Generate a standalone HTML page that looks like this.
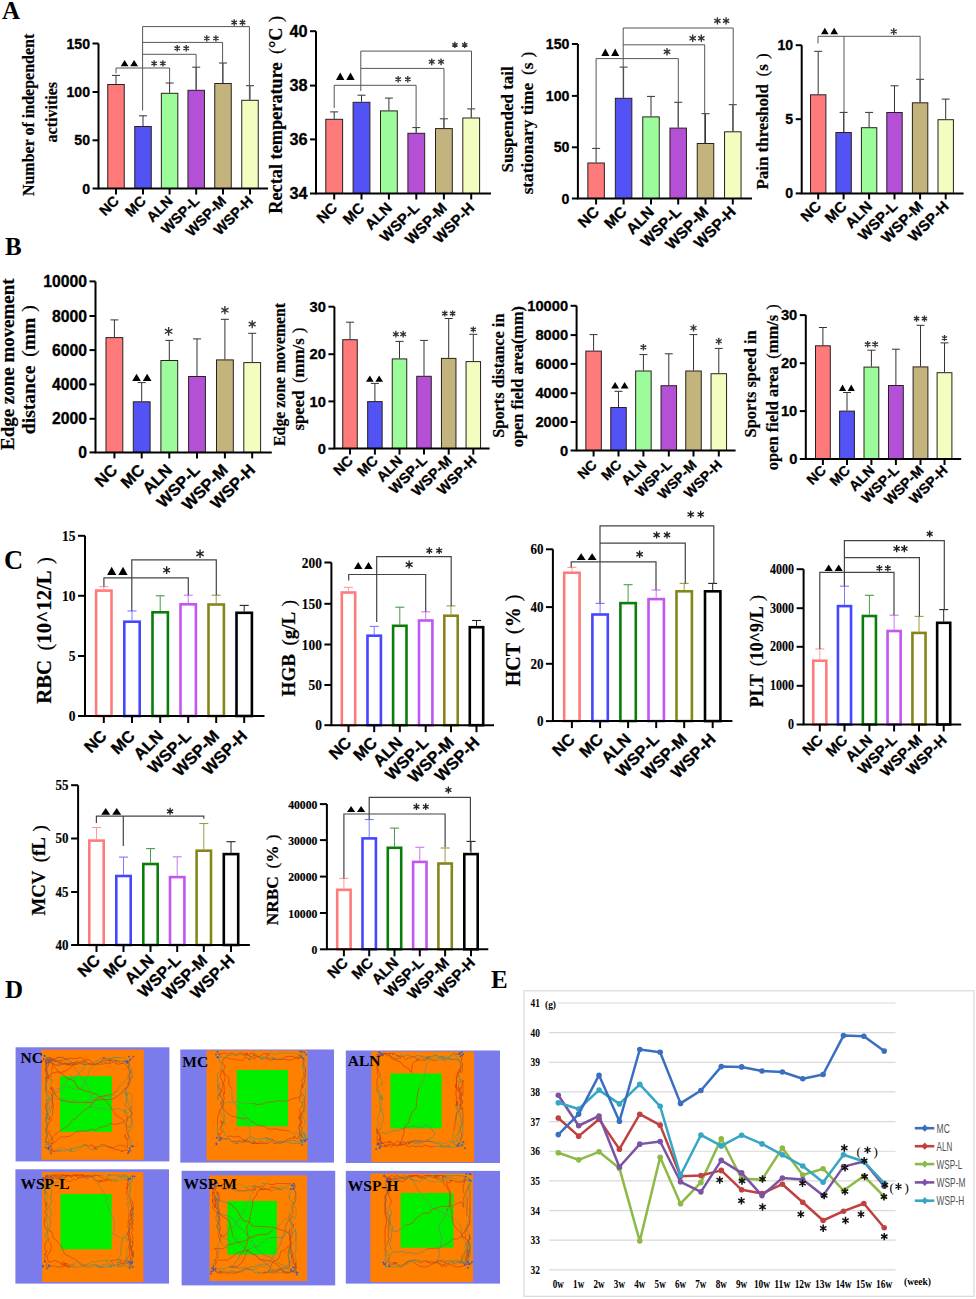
<!DOCTYPE html><html><head><meta charset="utf-8"><title>Figure</title><style>html,body{margin:0;padding:0;background:#fff;overflow:hidden}svg{display:block}</style></head><body>
<svg width="976" height="1299" viewBox="0 0 976 1299">
<rect width="976" height="1299" fill="#fff"/>
<line x1="116" y1="84" x2="116" y2="75.4" stroke="#333" stroke-width="1"/>
<line x1="112" y1="75.4" x2="120" y2="75.4" stroke="#333" stroke-width="1"/>
<rect x="107.75" y="84.5" width="16.5" height="104" fill="#FF7B7B" stroke="#2a2020" stroke-width="1"/>
<line x1="143" y1="126" x2="143" y2="115.8" stroke="#333" stroke-width="1"/>
<line x1="139" y1="115.8" x2="147" y2="115.8" stroke="#333" stroke-width="1"/>
<rect x="134.75" y="126.5" width="16.5" height="62" fill="#5252F5" stroke="#2a2020" stroke-width="1"/>
<line x1="169.6" y1="92.8" x2="169.6" y2="83" stroke="#333" stroke-width="1"/>
<line x1="165.6" y1="83" x2="173.6" y2="83" stroke="#333" stroke-width="1"/>
<rect x="161.35" y="93.3" width="16.5" height="95.2" fill="#9CFC9C" stroke="#2a2020" stroke-width="1"/>
<line x1="196.2" y1="89.8" x2="196.2" y2="67.2" stroke="#333" stroke-width="1"/>
<line x1="192.2" y1="67.2" x2="200.2" y2="67.2" stroke="#333" stroke-width="1"/>
<rect x="187.95" y="90.3" width="16.5" height="98.2" fill="#B350D6" stroke="#2a2020" stroke-width="1"/>
<line x1="223" y1="83" x2="223" y2="63" stroke="#333" stroke-width="1"/>
<line x1="219" y1="63" x2="227" y2="63" stroke="#333" stroke-width="1"/>
<rect x="214.75" y="83.5" width="16.5" height="105" fill="#C2B47C" stroke="#2a2020" stroke-width="1"/>
<line x1="250" y1="99.8" x2="250" y2="85.7" stroke="#333" stroke-width="1"/>
<line x1="246" y1="85.7" x2="254" y2="85.7" stroke="#333" stroke-width="1"/>
<rect x="241.75" y="100.3" width="16.5" height="88.2" fill="#F4FDC0" stroke="#2a2020" stroke-width="1"/>
<path d="M98.5,43.5L98.5,188.5L268,188.5" stroke="#000" stroke-width="2" fill="none"/>
<line x1="92.5" y1="43.5" x2="98.5" y2="43.5" stroke="#000" stroke-width="2"/>
<text x="90" y="48.57" font-family='"Liberation Sans", sans-serif' font-size="14.07" font-weight="bold" fill="#000" text-anchor="end" stroke="#000" stroke-width="0.3">150</text>
<line x1="92.5" y1="92" x2="98.5" y2="92" stroke="#000" stroke-width="2"/>
<text x="90" y="97.07" font-family='"Liberation Sans", sans-serif' font-size="14.07" font-weight="bold" fill="#000" text-anchor="end" stroke="#000" stroke-width="0.3">100</text>
<line x1="92.5" y1="140.3" x2="98.5" y2="140.3" stroke="#000" stroke-width="2"/>
<text x="90" y="145.37" font-family='"Liberation Sans", sans-serif' font-size="14.07" font-weight="bold" fill="#000" text-anchor="end" stroke="#000" stroke-width="0.3">50</text>
<line x1="92.5" y1="188.5" x2="98.5" y2="188.5" stroke="#000" stroke-width="2"/>
<text x="90" y="193.57" font-family='"Liberation Sans", sans-serif' font-size="14.07" font-weight="bold" fill="#000" text-anchor="end" stroke="#000" stroke-width="0.3">0</text>
<line x1="116" y1="188.5" x2="116" y2="194.5" stroke="#000" stroke-width="2"/>
<line x1="143" y1="188.5" x2="143" y2="194.5" stroke="#000" stroke-width="2"/>
<line x1="169.6" y1="188.5" x2="169.6" y2="194.5" stroke="#000" stroke-width="2"/>
<line x1="196.2" y1="188.5" x2="196.2" y2="194.5" stroke="#000" stroke-width="2"/>
<line x1="223" y1="188.5" x2="223" y2="194.5" stroke="#000" stroke-width="2"/>
<line x1="250" y1="188.5" x2="250" y2="194.5" stroke="#000" stroke-width="2"/>
<text x="120" y="201.9" font-family='"Liberation Sans", sans-serif' font-size="14.5" font-weight="bold" fill="#000" text-anchor="end" transform="rotate(-45 120 201.9)" stroke="#000" stroke-width="0.3">NC</text>
<text x="147" y="201.9" font-family='"Liberation Sans", sans-serif' font-size="14.5" font-weight="bold" fill="#000" text-anchor="end" transform="rotate(-45 147 201.9)" stroke="#000" stroke-width="0.3">MC</text>
<text x="173.6" y="201.9" font-family='"Liberation Sans", sans-serif' font-size="14.5" font-weight="bold" fill="#000" text-anchor="end" transform="rotate(-45 173.6 201.9)" stroke="#000" stroke-width="0.3">ALN</text>
<text x="200.2" y="201.9" font-family='"Liberation Sans", sans-serif' font-size="14.5" font-weight="bold" fill="#000" text-anchor="end" transform="rotate(-45 200.2 201.9)" stroke="#000" stroke-width="0.3">WSP-L</text>
<text x="227" y="201.9" font-family='"Liberation Sans", sans-serif' font-size="14.5" font-weight="bold" fill="#000" text-anchor="end" transform="rotate(-45 227 201.9)" stroke="#000" stroke-width="0.3">WSP-M</text>
<text x="254" y="201.9" font-family='"Liberation Sans", sans-serif' font-size="14.5" font-weight="bold" fill="#000" text-anchor="end" transform="rotate(-45 254 201.9)" stroke="#000" stroke-width="0.3">WSP-H</text>
<path d="M116,73.4L116,68L169.6,68L169.6,83" stroke="#555" stroke-width="1" fill="none"/>
<path d="M142.6,110.5L142.6,26.6L249.4,26.6L249.4,99.8" stroke="#555" stroke-width="1" fill="none"/>
<path d="M142.6,54.3L196.1,54.3L196.1,89.8" stroke="#555" stroke-width="1" fill="none"/>
<path d="M142.6,42.4L222.6,42.4L222.6,83" stroke="#555" stroke-width="1" fill="none"/>
<polygon points="120.7,66.2 128.49,66.2 124.59,60" fill="#000"/>
<polygon points="130.22,66.2 138,66.2 134.11,60" fill="#000"/>
<path d="M154.15,66.6L154.15,60.3M151.42,65.02L156.88,61.88M151.42,61.88L156.88,65.02" stroke="#333" stroke-width="1.35" fill="none"/>
<path d="M162.85,66.6L162.85,60.3M160.12,65.02L165.58,61.88M160.12,61.88L165.58,65.02" stroke="#333" stroke-width="1.35" fill="none"/>
<path d="M177.2,51.5L177.2,45.1M174.43,49.9L179.97,46.7M174.43,46.7L179.97,49.9" stroke="#333" stroke-width="1.35" fill="none"/>
<path d="M186.2,51.5L186.2,45.1M183.43,49.9L188.97,46.7M183.43,46.7L188.97,49.9" stroke="#333" stroke-width="1.35" fill="none"/>
<path d="M206.8,41.4L206.8,35.2M204.12,39.85L209.48,36.75M204.12,36.75L209.48,39.85" stroke="#333" stroke-width="1.35" fill="none"/>
<path d="M215.9,41.4L215.9,35.2M213.22,39.85L218.58,36.75M213.22,36.75L218.58,39.85" stroke="#333" stroke-width="1.35" fill="none"/>
<path d="M234.2,25.7L234.2,19.3M231.43,24.1L236.97,20.9M231.43,20.9L236.97,24.1" stroke="#333" stroke-width="1.35" fill="none"/>
<path d="M242.5,25.7L242.5,19.3M239.73,24.1L245.27,20.9M239.73,20.9L245.27,24.1" stroke="#333" stroke-width="1.35" fill="none"/>
<text x="28.3" y="114.9" font-family='"Liberation Serif", serif' font-size="16" font-weight="bold" fill="#000" text-anchor="middle" transform="rotate(-90 28.3 114.9)" dominant-baseline="central" stroke="#000" stroke-width="0.2">Number of independent</text>
<text x="51.4" y="112.2" font-family='"Liberation Serif", serif' font-size="16" font-weight="bold" fill="#000" text-anchor="middle" transform="rotate(-90 51.4 112.2)" dominant-baseline="central" stroke="#000" stroke-width="0.2">activities</text>
<line x1="334.2" y1="118.8" x2="334.2" y2="111.9" stroke="#333" stroke-width="1"/>
<line x1="330.2" y1="111.9" x2="338.2" y2="111.9" stroke="#333" stroke-width="1"/>
<rect x="325.8" y="119.3" width="16.8" height="74.2" fill="#FF7B7B" stroke="#2a2020" stroke-width="1"/>
<line x1="361.5" y1="101.8" x2="361.5" y2="95.2" stroke="#333" stroke-width="1"/>
<line x1="357.5" y1="95.2" x2="365.5" y2="95.2" stroke="#333" stroke-width="1"/>
<rect x="353.1" y="102.3" width="16.8" height="91.2" fill="#5252F5" stroke="#2a2020" stroke-width="1"/>
<line x1="388.9" y1="110.4" x2="388.9" y2="98.1" stroke="#333" stroke-width="1"/>
<line x1="384.9" y1="98.1" x2="392.9" y2="98.1" stroke="#333" stroke-width="1"/>
<rect x="380.5" y="110.9" width="16.8" height="82.6" fill="#9CFC9C" stroke="#2a2020" stroke-width="1"/>
<line x1="416.3" y1="132.8" x2="416.3" y2="127.6" stroke="#333" stroke-width="1"/>
<line x1="412.3" y1="127.6" x2="420.3" y2="127.6" stroke="#333" stroke-width="1"/>
<rect x="407.9" y="133.3" width="16.8" height="60.2" fill="#B350D6" stroke="#2a2020" stroke-width="1"/>
<line x1="443.9" y1="128.1" x2="443.9" y2="118.8" stroke="#333" stroke-width="1"/>
<line x1="439.9" y1="118.8" x2="447.9" y2="118.8" stroke="#333" stroke-width="1"/>
<rect x="435.5" y="128.6" width="16.8" height="64.9" fill="#C2B47C" stroke="#2a2020" stroke-width="1"/>
<line x1="471.2" y1="117.5" x2="471.2" y2="108.9" stroke="#333" stroke-width="1"/>
<line x1="467.2" y1="108.9" x2="475.2" y2="108.9" stroke="#333" stroke-width="1"/>
<rect x="462.8" y="118" width="16.8" height="75.5" fill="#F4FDC0" stroke="#2a2020" stroke-width="1"/>
<path d="M316,31.2L316,193.5L491,193.5" stroke="#000" stroke-width="2" fill="none"/>
<line x1="310" y1="31.2" x2="316" y2="31.2" stroke="#000" stroke-width="2"/>
<text x="307.5" y="37.06" font-family='"Liberation Sans", sans-serif' font-size="16.275000000000002" font-weight="bold" fill="#000" text-anchor="end" stroke="#000" stroke-width="0.3">40</text>
<line x1="310" y1="85.6" x2="316" y2="85.6" stroke="#000" stroke-width="2"/>
<text x="307.5" y="91.46" font-family='"Liberation Sans", sans-serif' font-size="16.275000000000002" font-weight="bold" fill="#000" text-anchor="end" stroke="#000" stroke-width="0.3">38</text>
<line x1="310" y1="139.4" x2="316" y2="139.4" stroke="#000" stroke-width="2"/>
<text x="307.5" y="145.26" font-family='"Liberation Sans", sans-serif' font-size="16.275000000000002" font-weight="bold" fill="#000" text-anchor="end" stroke="#000" stroke-width="0.3">36</text>
<line x1="310" y1="193.5" x2="316" y2="193.5" stroke="#000" stroke-width="2"/>
<text x="307.5" y="199.36" font-family='"Liberation Sans", sans-serif' font-size="16.275000000000002" font-weight="bold" fill="#000" text-anchor="end" stroke="#000" stroke-width="0.3">34</text>
<line x1="334.2" y1="193.5" x2="334.2" y2="199.5" stroke="#000" stroke-width="2"/>
<line x1="361.5" y1="193.5" x2="361.5" y2="199.5" stroke="#000" stroke-width="2"/>
<line x1="388.9" y1="193.5" x2="388.9" y2="199.5" stroke="#000" stroke-width="2"/>
<line x1="416.3" y1="193.5" x2="416.3" y2="199.5" stroke="#000" stroke-width="2"/>
<line x1="443.9" y1="193.5" x2="443.9" y2="199.5" stroke="#000" stroke-width="2"/>
<line x1="471.2" y1="193.5" x2="471.2" y2="199.5" stroke="#000" stroke-width="2"/>
<text x="338.2" y="208.9" font-family='"Liberation Sans", sans-serif' font-size="15" font-weight="bold" fill="#000" text-anchor="end" transform="rotate(-45 338.2 208.9)" stroke="#000" stroke-width="0.3">NC</text>
<text x="365.5" y="208.9" font-family='"Liberation Sans", sans-serif' font-size="15" font-weight="bold" fill="#000" text-anchor="end" transform="rotate(-45 365.5 208.9)" stroke="#000" stroke-width="0.3">MC</text>
<text x="392.9" y="208.9" font-family='"Liberation Sans", sans-serif' font-size="15" font-weight="bold" fill="#000" text-anchor="end" transform="rotate(-45 392.9 208.9)" stroke="#000" stroke-width="0.3">ALN</text>
<text x="420.3" y="208.9" font-family='"Liberation Sans", sans-serif' font-size="15" font-weight="bold" fill="#000" text-anchor="end" transform="rotate(-45 420.3 208.9)" stroke="#000" stroke-width="0.3">WSP-L</text>
<text x="447.9" y="208.9" font-family='"Liberation Sans", sans-serif' font-size="15" font-weight="bold" fill="#000" text-anchor="end" transform="rotate(-45 447.9 208.9)" stroke="#000" stroke-width="0.3">WSP-M</text>
<text x="475.2" y="208.9" font-family='"Liberation Sans", sans-serif' font-size="15" font-weight="bold" fill="#000" text-anchor="end" transform="rotate(-45 475.2 208.9)" stroke="#000" stroke-width="0.3">WSP-H</text>
<path d="M334.2,108L334.2,85.3L416.1,85.3L416.1,132.8" stroke="#555" stroke-width="1" fill="none"/>
<path d="M360.8,91L360.8,51.1L471.5,51.1L471.5,117.5" stroke="#555" stroke-width="1" fill="none"/>
<path d="M360.8,68.4L444,68.4L444,128.1" stroke="#555" stroke-width="1" fill="none"/>
<polygon points="336,80 344.42,80 340.21,72.5" fill="#000"/>
<polygon points="346.28,80 354.7,80 350.49,72.5" fill="#000"/>
<path d="M398.2,82.4L398.2,76M395.43,80.8L400.97,77.6M395.43,77.6L400.97,80.8" stroke="#333" stroke-width="1.35" fill="none"/>
<path d="M407.8,82.4L407.8,76M405.03,80.8L410.57,77.6M405.03,77.6L410.57,80.8" stroke="#333" stroke-width="1.35" fill="none"/>
<path d="M431.75,65.2L431.75,58.5M428.85,63.52L434.65,60.18M428.85,60.18L434.65,63.52" stroke="#333" stroke-width="1.35" fill="none"/>
<path d="M441.05,65.2L441.05,58.5M438.15,63.52L443.95,60.18M438.15,60.18L443.95,63.52" stroke="#333" stroke-width="1.35" fill="none"/>
<path d="M454.9,48L454.9,41.8M452.22,46.45L457.58,43.35M452.22,43.35L457.58,46.45" stroke="#333" stroke-width="1.35" fill="none"/>
<path d="M464.7,48L464.7,41.8M462.02,46.45L467.38,43.35M462.02,43.35L467.38,46.45" stroke="#333" stroke-width="1.35" fill="none"/>
<text x="275.6" y="114.8" font-family='"Liberation Serif", serif' font-size="18.3" font-weight="bold" fill="#000" text-anchor="middle" transform="rotate(-90 275.6 114.8)" dominant-baseline="central" stroke="#000" stroke-width="0.2">Rectal temperature<tspan font-weight="normal" dx="8.24">(</tspan>°C<tspan font-weight="normal" dx="5.49">)</tspan></text>
<line x1="596.1" y1="162.5" x2="596.1" y2="148.4" stroke="#333" stroke-width="1"/>
<line x1="592.1" y1="148.4" x2="600.1" y2="148.4" stroke="#333" stroke-width="1"/>
<rect x="587.85" y="163" width="16.5" height="35.5" fill="#FF7B7B" stroke="#2a2020" stroke-width="1"/>
<line x1="623.6" y1="97.8" x2="623.6" y2="67.1" stroke="#333" stroke-width="1"/>
<line x1="619.6" y1="67.1" x2="627.6" y2="67.1" stroke="#333" stroke-width="1"/>
<rect x="615.35" y="98.3" width="16.5" height="100.2" fill="#5252F5" stroke="#2a2020" stroke-width="1"/>
<line x1="651" y1="116.4" x2="651" y2="96.4" stroke="#333" stroke-width="1"/>
<line x1="647" y1="96.4" x2="655" y2="96.4" stroke="#333" stroke-width="1"/>
<rect x="642.75" y="116.9" width="16.5" height="81.6" fill="#9CFC9C" stroke="#2a2020" stroke-width="1"/>
<line x1="678.2" y1="127.6" x2="678.2" y2="102.3" stroke="#333" stroke-width="1"/>
<line x1="674.2" y1="102.3" x2="682.2" y2="102.3" stroke="#333" stroke-width="1"/>
<rect x="669.95" y="128.1" width="16.5" height="70.4" fill="#B350D6" stroke="#2a2020" stroke-width="1"/>
<line x1="705.5" y1="143" x2="705.5" y2="113.7" stroke="#333" stroke-width="1"/>
<line x1="701.5" y1="113.7" x2="709.5" y2="113.7" stroke="#333" stroke-width="1"/>
<rect x="697.25" y="143.5" width="16.5" height="55" fill="#C2B47C" stroke="#2a2020" stroke-width="1"/>
<line x1="732.8" y1="131.3" x2="732.8" y2="104.7" stroke="#333" stroke-width="1"/>
<line x1="728.8" y1="104.7" x2="736.8" y2="104.7" stroke="#333" stroke-width="1"/>
<rect x="724.55" y="131.8" width="16.5" height="66.7" fill="#F4FDC0" stroke="#2a2020" stroke-width="1"/>
<path d="M577.9,44L577.9,198.5L752,198.5" stroke="#000" stroke-width="2" fill="none"/>
<line x1="571.9" y1="44" x2="577.9" y2="44" stroke="#000" stroke-width="2"/>
<text x="569.4" y="49.1" font-family='"Liberation Sans", sans-serif' font-size="14.175" font-weight="bold" fill="#000" text-anchor="end" stroke="#000" stroke-width="0.3">150</text>
<line x1="571.9" y1="95.9" x2="577.9" y2="95.9" stroke="#000" stroke-width="2"/>
<text x="569.4" y="101" font-family='"Liberation Sans", sans-serif' font-size="14.175" font-weight="bold" fill="#000" text-anchor="end" stroke="#000" stroke-width="0.3">100</text>
<line x1="571.9" y1="147.3" x2="577.9" y2="147.3" stroke="#000" stroke-width="2"/>
<text x="569.4" y="152.4" font-family='"Liberation Sans", sans-serif' font-size="14.175" font-weight="bold" fill="#000" text-anchor="end" stroke="#000" stroke-width="0.3">50</text>
<line x1="571.9" y1="198.5" x2="577.9" y2="198.5" stroke="#000" stroke-width="2"/>
<text x="569.4" y="203.6" font-family='"Liberation Sans", sans-serif' font-size="14.175" font-weight="bold" fill="#000" text-anchor="end" stroke="#000" stroke-width="0.3">0</text>
<line x1="596.1" y1="198.5" x2="596.1" y2="204.5" stroke="#000" stroke-width="2"/>
<line x1="623.6" y1="198.5" x2="623.6" y2="204.5" stroke="#000" stroke-width="2"/>
<line x1="651" y1="198.5" x2="651" y2="204.5" stroke="#000" stroke-width="2"/>
<line x1="678.2" y1="198.5" x2="678.2" y2="204.5" stroke="#000" stroke-width="2"/>
<line x1="705.5" y1="198.5" x2="705.5" y2="204.5" stroke="#000" stroke-width="2"/>
<line x1="732.8" y1="198.5" x2="732.8" y2="204.5" stroke="#000" stroke-width="2"/>
<text x="600.1" y="212.8" font-family='"Liberation Sans", sans-serif' font-size="15.5" font-weight="bold" fill="#000" text-anchor="end" transform="rotate(-45 600.1 212.8)" stroke="#000" stroke-width="0.3">NC</text>
<text x="627.6" y="212.8" font-family='"Liberation Sans", sans-serif' font-size="15.5" font-weight="bold" fill="#000" text-anchor="end" transform="rotate(-45 627.6 212.8)" stroke="#000" stroke-width="0.3">MC</text>
<text x="655" y="212.8" font-family='"Liberation Sans", sans-serif' font-size="15.5" font-weight="bold" fill="#000" text-anchor="end" transform="rotate(-45 655 212.8)" stroke="#000" stroke-width="0.3">ALN</text>
<text x="682.2" y="212.8" font-family='"Liberation Sans", sans-serif' font-size="15.5" font-weight="bold" fill="#000" text-anchor="end" transform="rotate(-45 682.2 212.8)" stroke="#000" stroke-width="0.3">WSP-L</text>
<text x="709.5" y="212.8" font-family='"Liberation Sans", sans-serif' font-size="15.5" font-weight="bold" fill="#000" text-anchor="end" transform="rotate(-45 709.5 212.8)" stroke="#000" stroke-width="0.3">WSP-M</text>
<text x="736.8" y="212.8" font-family='"Liberation Sans", sans-serif' font-size="15.5" font-weight="bold" fill="#000" text-anchor="end" transform="rotate(-45 736.8 212.8)" stroke="#000" stroke-width="0.3">WSP-H</text>
<path d="M596.1,148.4L596.1,58.6L678.3,58.6L678.3,127.6" stroke="#555" stroke-width="1" fill="none"/>
<path d="M623.2,97.8L623.2,28L733.2,28L733.2,131.3" stroke="#555" stroke-width="1" fill="none"/>
<path d="M623.2,44.8L704.7,44.8L704.7,143" stroke="#555" stroke-width="1" fill="none"/>
<polygon points="601.3,56 609.36,56 605.33,48.5" fill="#000"/>
<polygon points="611.14,56 619.2,56 615.17,48.5" fill="#000"/>
<path d="M667,55.5L667,48M663.75,53.62L670.25,49.88M663.75,49.88L670.25,53.62" stroke="#333" stroke-width="1.35" fill="none"/>
<path d="M692.7,42L692.7,34.6M689.5,40.15L695.9,36.45M689.5,36.45L695.9,40.15" stroke="#333" stroke-width="1.35" fill="none"/>
<path d="M701.3,42L701.3,34.6M698.1,40.15L704.5,36.45M698.1,36.45L704.5,40.15" stroke="#333" stroke-width="1.35" fill="none"/>
<path d="M717.4,24.5L717.4,17.3M714.28,22.7L720.52,19.1M714.28,19.1L720.52,22.7" stroke="#333" stroke-width="1.35" fill="none"/>
<path d="M726.1,24.5L726.1,17.3M722.98,22.7L729.22,19.1M722.98,19.1L729.22,22.7" stroke="#333" stroke-width="1.35" fill="none"/>
<text x="507.4" y="119.3" font-family='"Liberation Serif", serif' font-size="16.995" font-weight="bold" fill="#000" text-anchor="middle" transform="rotate(-90 507.4 119.3)" dominant-baseline="central" stroke="#000" stroke-width="0.2">Suspended tail</text>
<text x="527.4" y="123" font-family='"Liberation Serif", serif' font-size="17.2425" font-weight="bold" fill="#000" text-anchor="middle" transform="rotate(-90 527.4 123)" dominant-baseline="central" stroke="#000" stroke-width="0.2">stationary time<tspan font-weight="normal" dx="7.76">(</tspan>s<tspan font-weight="normal" dx="5.17">)</tspan></text>
<line x1="818.2" y1="94.3" x2="818.2" y2="51.3" stroke="#333" stroke-width="1"/>
<line x1="814.2" y1="51.3" x2="822.2" y2="51.3" stroke="#333" stroke-width="1"/>
<rect x="810.5" y="94.8" width="15.4" height="98.6" fill="#FF7B7B" stroke="#2a2020" stroke-width="1"/>
<line x1="843.6" y1="132" x2="843.6" y2="112.4" stroke="#333" stroke-width="1"/>
<line x1="839.6" y1="112.4" x2="847.6" y2="112.4" stroke="#333" stroke-width="1"/>
<rect x="835.9" y="132.5" width="15.4" height="60.9" fill="#5252F5" stroke="#2a2020" stroke-width="1"/>
<line x1="869.1" y1="127.2" x2="869.1" y2="112.4" stroke="#333" stroke-width="1"/>
<line x1="865.1" y1="112.4" x2="873.1" y2="112.4" stroke="#333" stroke-width="1"/>
<rect x="861.4" y="127.7" width="15.4" height="65.7" fill="#9CFC9C" stroke="#2a2020" stroke-width="1"/>
<line x1="894.5" y1="112" x2="894.5" y2="85.8" stroke="#333" stroke-width="1"/>
<line x1="890.5" y1="85.8" x2="898.5" y2="85.8" stroke="#333" stroke-width="1"/>
<rect x="886.8" y="112.5" width="15.4" height="80.9" fill="#B350D6" stroke="#2a2020" stroke-width="1"/>
<line x1="920.1" y1="102.3" x2="920.1" y2="79.3" stroke="#333" stroke-width="1"/>
<line x1="916.1" y1="79.3" x2="924.1" y2="79.3" stroke="#333" stroke-width="1"/>
<rect x="912.4" y="102.8" width="15.4" height="90.6" fill="#C2B47C" stroke="#2a2020" stroke-width="1"/>
<line x1="945.7" y1="119.2" x2="945.7" y2="99.1" stroke="#333" stroke-width="1"/>
<line x1="941.7" y1="99.1" x2="949.7" y2="99.1" stroke="#333" stroke-width="1"/>
<rect x="938" y="119.7" width="15.4" height="73.7" fill="#F4FDC0" stroke="#2a2020" stroke-width="1"/>
<path d="M801.7,45.2L801.7,193.4L963.6,193.4" stroke="#000" stroke-width="2" fill="none"/>
<line x1="795.7" y1="45.2" x2="801.7" y2="45.2" stroke="#000" stroke-width="2"/>
<text x="793.2" y="50.27" font-family='"Liberation Sans", sans-serif' font-size="14.07" font-weight="bold" fill="#000" text-anchor="end" stroke="#000" stroke-width="0.3">10</text>
<line x1="795.7" y1="119.2" x2="801.7" y2="119.2" stroke="#000" stroke-width="2"/>
<text x="793.2" y="124.27" font-family='"Liberation Sans", sans-serif' font-size="14.07" font-weight="bold" fill="#000" text-anchor="end" stroke="#000" stroke-width="0.3">5</text>
<line x1="795.7" y1="193.4" x2="801.7" y2="193.4" stroke="#000" stroke-width="2"/>
<text x="793.2" y="198.47" font-family='"Liberation Sans", sans-serif' font-size="14.07" font-weight="bold" fill="#000" text-anchor="end" stroke="#000" stroke-width="0.3">0</text>
<line x1="818.2" y1="193.4" x2="818.2" y2="199.4" stroke="#000" stroke-width="2"/>
<line x1="843.6" y1="193.4" x2="843.6" y2="199.4" stroke="#000" stroke-width="2"/>
<line x1="869.1" y1="193.4" x2="869.1" y2="199.4" stroke="#000" stroke-width="2"/>
<line x1="894.5" y1="193.4" x2="894.5" y2="199.4" stroke="#000" stroke-width="2"/>
<line x1="920.1" y1="193.4" x2="920.1" y2="199.4" stroke="#000" stroke-width="2"/>
<line x1="945.7" y1="193.4" x2="945.7" y2="199.4" stroke="#000" stroke-width="2"/>
<text x="822.2" y="207.4" font-family='"Liberation Sans", sans-serif' font-size="15" font-weight="bold" fill="#000" text-anchor="end" transform="rotate(-45 822.2 207.4)" stroke="#000" stroke-width="0.3">NC</text>
<text x="847.6" y="207.4" font-family='"Liberation Sans", sans-serif' font-size="15" font-weight="bold" fill="#000" text-anchor="end" transform="rotate(-45 847.6 207.4)" stroke="#000" stroke-width="0.3">MC</text>
<text x="873.1" y="207.4" font-family='"Liberation Sans", sans-serif' font-size="15" font-weight="bold" fill="#000" text-anchor="end" transform="rotate(-45 873.1 207.4)" stroke="#000" stroke-width="0.3">ALN</text>
<text x="898.5" y="207.4" font-family='"Liberation Sans", sans-serif' font-size="15" font-weight="bold" fill="#000" text-anchor="end" transform="rotate(-45 898.5 207.4)" stroke="#000" stroke-width="0.3">WSP-L</text>
<text x="924.1" y="207.4" font-family='"Liberation Sans", sans-serif' font-size="15" font-weight="bold" fill="#000" text-anchor="end" transform="rotate(-45 924.1 207.4)" stroke="#000" stroke-width="0.3">WSP-M</text>
<text x="949.7" y="207.4" font-family='"Liberation Sans", sans-serif' font-size="15" font-weight="bold" fill="#000" text-anchor="end" transform="rotate(-45 949.7 207.4)" stroke="#000" stroke-width="0.3">WSP-H</text>
<path d="M818,43.5L818,36.3L920.1,36.3L920.1,102.3" stroke="#555" stroke-width="1" fill="none"/>
<path d="M844,36.3L844,132" stroke="#555" stroke-width="1" fill="none"/>
<polygon points="821,34.3 828.65,34.3 824.83,27.8" fill="#000"/>
<polygon points="830.35,34.3 838,34.3 834.18,27.8" fill="#000"/>
<path d="M893.8,35L893.8,28M890.77,33.25L896.83,29.75M890.77,29.75L896.83,33.25" stroke="#333" stroke-width="1.35" fill="none"/>
<text x="762.4" y="121.5" font-family='"Liberation Serif", serif' font-size="16.954" font-weight="bold" fill="#000" text-anchor="middle" transform="rotate(-90 762.4 121.5)" dominant-baseline="central" stroke="#000" stroke-width="0.2">Pain threshold<tspan font-weight="normal" dx="7.63">(</tspan>s<tspan font-weight="normal" dx="5.09">)</tspan></text>
<line x1="114.4" y1="337.1" x2="114.4" y2="319.9" stroke="#333" stroke-width="1"/>
<line x1="110.4" y1="319.9" x2="118.4" y2="319.9" stroke="#333" stroke-width="1"/>
<rect x="106" y="337.6" width="16.8" height="114.8" fill="#FF7B7B" stroke="#2a2020" stroke-width="1"/>
<line x1="141.7" y1="401.3" x2="141.7" y2="382.6" stroke="#333" stroke-width="1"/>
<line x1="137.7" y1="382.6" x2="145.7" y2="382.6" stroke="#333" stroke-width="1"/>
<rect x="133.3" y="401.8" width="16.8" height="50.6" fill="#5252F5" stroke="#2a2020" stroke-width="1"/>
<line x1="169.3" y1="360" x2="169.3" y2="340.4" stroke="#333" stroke-width="1"/>
<line x1="165.3" y1="340.4" x2="173.3" y2="340.4" stroke="#333" stroke-width="1"/>
<rect x="160.9" y="360.5" width="16.8" height="91.9" fill="#9CFC9C" stroke="#2a2020" stroke-width="1"/>
<line x1="197" y1="376" x2="197" y2="338.9" stroke="#333" stroke-width="1"/>
<line x1="193" y1="338.9" x2="201" y2="338.9" stroke="#333" stroke-width="1"/>
<rect x="188.6" y="376.5" width="16.8" height="75.9" fill="#B350D6" stroke="#2a2020" stroke-width="1"/>
<line x1="224.9" y1="359.4" x2="224.9" y2="319.3" stroke="#333" stroke-width="1"/>
<line x1="220.9" y1="319.3" x2="228.9" y2="319.3" stroke="#333" stroke-width="1"/>
<rect x="216.5" y="359.9" width="16.8" height="92.5" fill="#C2B47C" stroke="#2a2020" stroke-width="1"/>
<line x1="252.2" y1="362.1" x2="252.2" y2="333.3" stroke="#333" stroke-width="1"/>
<line x1="248.2" y1="333.3" x2="256.2" y2="333.3" stroke="#333" stroke-width="1"/>
<rect x="243.8" y="362.6" width="16.8" height="89.8" fill="#F4FDC0" stroke="#2a2020" stroke-width="1"/>
<path d="M95.5,281.4L95.5,452.4L271.8,452.4" stroke="#000" stroke-width="2" fill="none"/>
<line x1="89.5" y1="281.4" x2="95.5" y2="281.4" stroke="#000" stroke-width="2"/>
<text x="87" y="287.07" font-family='"Liberation Sans", sans-serif' font-size="15.75" font-weight="bold" fill="#000" text-anchor="end" stroke="#000" stroke-width="0.3">10000</text>
<line x1="89.5" y1="316" x2="95.5" y2="316" stroke="#000" stroke-width="2"/>
<text x="87" y="321.67" font-family='"Liberation Sans", sans-serif' font-size="15.75" font-weight="bold" fill="#000" text-anchor="end" stroke="#000" stroke-width="0.3">8000</text>
<line x1="89.5" y1="350.1" x2="95.5" y2="350.1" stroke="#000" stroke-width="2"/>
<text x="87" y="355.77" font-family='"Liberation Sans", sans-serif' font-size="15.75" font-weight="bold" fill="#000" text-anchor="end" stroke="#000" stroke-width="0.3">6000</text>
<line x1="89.5" y1="384.4" x2="95.5" y2="384.4" stroke="#000" stroke-width="2"/>
<text x="87" y="390.07" font-family='"Liberation Sans", sans-serif' font-size="15.75" font-weight="bold" fill="#000" text-anchor="end" stroke="#000" stroke-width="0.3">4000</text>
<line x1="89.5" y1="418.8" x2="95.5" y2="418.8" stroke="#000" stroke-width="2"/>
<text x="87" y="424.47" font-family='"Liberation Sans", sans-serif' font-size="15.75" font-weight="bold" fill="#000" text-anchor="end" stroke="#000" stroke-width="0.3">2000</text>
<line x1="89.5" y1="452.4" x2="95.5" y2="452.4" stroke="#000" stroke-width="2"/>
<text x="87" y="458.07" font-family='"Liberation Sans", sans-serif' font-size="15.75" font-weight="bold" fill="#000" text-anchor="end" stroke="#000" stroke-width="0.3">0</text>
<line x1="114.4" y1="452.4" x2="114.4" y2="458.4" stroke="#000" stroke-width="2"/>
<line x1="141.7" y1="452.4" x2="141.7" y2="458.4" stroke="#000" stroke-width="2"/>
<line x1="169.3" y1="452.4" x2="169.3" y2="458.4" stroke="#000" stroke-width="2"/>
<line x1="197" y1="452.4" x2="197" y2="458.4" stroke="#000" stroke-width="2"/>
<line x1="224.9" y1="452.4" x2="224.9" y2="458.4" stroke="#000" stroke-width="2"/>
<line x1="252.2" y1="452.4" x2="252.2" y2="458.4" stroke="#000" stroke-width="2"/>
<text x="118.4" y="471.1" font-family='"Liberation Sans", sans-serif' font-size="16.5" font-weight="bold" fill="#000" text-anchor="end" transform="rotate(-45 118.4 471.1)" stroke="#000" stroke-width="0.3">NC</text>
<text x="145.7" y="471.1" font-family='"Liberation Sans", sans-serif' font-size="16.5" font-weight="bold" fill="#000" text-anchor="end" transform="rotate(-45 145.7 471.1)" stroke="#000" stroke-width="0.3">MC</text>
<text x="173.3" y="471.1" font-family='"Liberation Sans", sans-serif' font-size="16.5" font-weight="bold" fill="#000" text-anchor="end" transform="rotate(-45 173.3 471.1)" stroke="#000" stroke-width="0.3">ALN</text>
<text x="201" y="471.1" font-family='"Liberation Sans", sans-serif' font-size="16.5" font-weight="bold" fill="#000" text-anchor="end" transform="rotate(-45 201 471.1)" stroke="#000" stroke-width="0.3">WSP-L</text>
<text x="228.9" y="471.1" font-family='"Liberation Sans", sans-serif' font-size="16.5" font-weight="bold" fill="#000" text-anchor="end" transform="rotate(-45 228.9 471.1)" stroke="#000" stroke-width="0.3">WSP-M</text>
<text x="256.2" y="471.1" font-family='"Liberation Sans", sans-serif' font-size="16.5" font-weight="bold" fill="#000" text-anchor="end" transform="rotate(-45 256.2 471.1)" stroke="#000" stroke-width="0.3">WSP-H</text>
<polygon points="132.2,381.1 140.88,381.1 136.54,373.7" fill="#000"/>
<polygon points="142.81,381.1 151.5,381.1 147.16,373.7" fill="#000"/>
<path d="M168.6,335.7L168.6,327M164.83,333.53L172.37,329.18M164.83,329.18L172.37,333.53" stroke="#333" stroke-width="1.35" fill="none"/>
<path d="M224.9,314.3L224.9,306M221.31,312.22L228.49,308.07M221.31,308.07L228.49,312.22" stroke="#333" stroke-width="1.35" fill="none"/>
<path d="M252.2,328.2L252.2,320.2M248.74,326.2L255.66,322.2M248.74,322.2L255.66,326.2" stroke="#333" stroke-width="1.35" fill="none"/>
<text x="7.9" y="364.2" font-family='"Liberation Serif", serif' font-size="18.9405" font-weight="bold" fill="#000" text-anchor="middle" transform="rotate(-90 7.9 364.2)" dominant-baseline="central" stroke="#000" stroke-width="0.2">Edge zone movement</text>
<text x="28.1" y="369.7" font-family='"Liberation Serif", serif' font-size="19.581000000000003" font-weight="bold" fill="#000" text-anchor="middle" transform="rotate(-90 28.1 369.7)" dominant-baseline="central" stroke="#000" stroke-width="0.2">distance<tspan font-weight="normal" dx="8.81">(</tspan>mm<tspan font-weight="normal" dx="5.87">)</tspan></text>
<line x1="350" y1="339.2" x2="350" y2="322.2" stroke="#333" stroke-width="1"/>
<line x1="346" y1="322.2" x2="354" y2="322.2" stroke="#333" stroke-width="1"/>
<rect x="342.75" y="339.7" width="14.5" height="108.9" fill="#FF7B7B" stroke="#2a2020" stroke-width="1"/>
<line x1="374.9" y1="401.1" x2="374.9" y2="383.4" stroke="#333" stroke-width="1"/>
<line x1="370.9" y1="383.4" x2="378.9" y2="383.4" stroke="#333" stroke-width="1"/>
<rect x="367.65" y="401.6" width="14.5" height="47" fill="#5252F5" stroke="#2a2020" stroke-width="1"/>
<line x1="399.5" y1="358.4" x2="399.5" y2="341.4" stroke="#333" stroke-width="1"/>
<line x1="395.5" y1="341.4" x2="403.5" y2="341.4" stroke="#333" stroke-width="1"/>
<rect x="392.25" y="358.9" width="14.5" height="89.7" fill="#9CFC9C" stroke="#2a2020" stroke-width="1"/>
<line x1="424" y1="375.8" x2="424" y2="340.4" stroke="#333" stroke-width="1"/>
<line x1="420" y1="340.4" x2="428" y2="340.4" stroke="#333" stroke-width="1"/>
<rect x="416.75" y="376.3" width="14.5" height="72.3" fill="#B350D6" stroke="#2a2020" stroke-width="1"/>
<line x1="448.7" y1="357.9" x2="448.7" y2="318.5" stroke="#333" stroke-width="1"/>
<line x1="444.7" y1="318.5" x2="452.7" y2="318.5" stroke="#333" stroke-width="1"/>
<rect x="441.45" y="358.4" width="14.5" height="90.2" fill="#C2B47C" stroke="#2a2020" stroke-width="1"/>
<line x1="473.3" y1="361.1" x2="473.3" y2="334.3" stroke="#333" stroke-width="1"/>
<line x1="469.3" y1="334.3" x2="477.3" y2="334.3" stroke="#333" stroke-width="1"/>
<rect x="466.05" y="361.6" width="14.5" height="87" fill="#F4FDC0" stroke="#2a2020" stroke-width="1"/>
<path d="M334.4,306.7L334.4,448.6L489.6,448.6" stroke="#000" stroke-width="2" fill="none"/>
<line x1="328.4" y1="306.7" x2="334.4" y2="306.7" stroke="#000" stroke-width="2"/>
<text x="325.9" y="311.99" font-family='"Liberation Sans", sans-serif' font-size="14.700000000000001" font-weight="bold" fill="#000" text-anchor="end" stroke="#000" stroke-width="0.3">30</text>
<line x1="328.4" y1="354.2" x2="334.4" y2="354.2" stroke="#000" stroke-width="2"/>
<text x="325.9" y="359.49" font-family='"Liberation Sans", sans-serif' font-size="14.700000000000001" font-weight="bold" fill="#000" text-anchor="end" stroke="#000" stroke-width="0.3">20</text>
<line x1="328.4" y1="401.4" x2="334.4" y2="401.4" stroke="#000" stroke-width="2"/>
<text x="325.9" y="406.69" font-family='"Liberation Sans", sans-serif' font-size="14.700000000000001" font-weight="bold" fill="#000" text-anchor="end" stroke="#000" stroke-width="0.3">10</text>
<line x1="328.4" y1="448.6" x2="334.4" y2="448.6" stroke="#000" stroke-width="2"/>
<text x="325.9" y="453.89" font-family='"Liberation Sans", sans-serif' font-size="14.700000000000001" font-weight="bold" fill="#000" text-anchor="end" stroke="#000" stroke-width="0.3">0</text>
<line x1="350" y1="448.6" x2="350" y2="454.6" stroke="#000" stroke-width="2"/>
<line x1="374.9" y1="448.6" x2="374.9" y2="454.6" stroke="#000" stroke-width="2"/>
<line x1="399.5" y1="448.6" x2="399.5" y2="454.6" stroke="#000" stroke-width="2"/>
<line x1="424" y1="448.6" x2="424" y2="454.6" stroke="#000" stroke-width="2"/>
<line x1="448.7" y1="448.6" x2="448.7" y2="454.6" stroke="#000" stroke-width="2"/>
<line x1="473.3" y1="448.6" x2="473.3" y2="454.6" stroke="#000" stroke-width="2"/>
<text x="354" y="461.6" font-family='"Liberation Sans", sans-serif' font-size="14.5" font-weight="bold" fill="#000" text-anchor="end" transform="rotate(-45 354 461.6)" stroke="#000" stroke-width="0.3">NC</text>
<text x="378.9" y="461.6" font-family='"Liberation Sans", sans-serif' font-size="14.5" font-weight="bold" fill="#000" text-anchor="end" transform="rotate(-45 378.9 461.6)" stroke="#000" stroke-width="0.3">MC</text>
<text x="403.5" y="461.6" font-family='"Liberation Sans", sans-serif' font-size="14.5" font-weight="bold" fill="#000" text-anchor="end" transform="rotate(-45 403.5 461.6)" stroke="#000" stroke-width="0.3">ALN</text>
<text x="428" y="461.6" font-family='"Liberation Sans", sans-serif' font-size="14.5" font-weight="bold" fill="#000" text-anchor="end" transform="rotate(-45 428 461.6)" stroke="#000" stroke-width="0.3">WSP-L</text>
<text x="452.7" y="461.6" font-family='"Liberation Sans", sans-serif' font-size="14.5" font-weight="bold" fill="#000" text-anchor="end" transform="rotate(-45 452.7 461.6)" stroke="#000" stroke-width="0.3">WSP-M</text>
<text x="477.3" y="461.6" font-family='"Liberation Sans", sans-serif' font-size="14.5" font-weight="bold" fill="#000" text-anchor="end" transform="rotate(-45 477.3 461.6)" stroke="#000" stroke-width="0.3">WSP-H</text>
<polygon points="366,381.7 373.65,381.7 369.82,375.6" fill="#000"/>
<polygon points="375.35,381.7 383,381.7 379.18,375.6" fill="#000"/>
<path d="M395.85,337.5L395.85,330.8M392.95,335.82L398.75,332.47M392.95,332.47L398.75,335.82" stroke="#333" stroke-width="1.35" fill="none"/>
<path d="M403.15,337.5L403.15,330.8M400.25,335.82L406.05,332.47M400.25,332.47L406.05,335.82" stroke="#333" stroke-width="1.35" fill="none"/>
<path d="M444.8,316.6L444.8,310.4M442.12,315.05L447.48,311.95M442.12,311.95L447.48,315.05" stroke="#333" stroke-width="1.35" fill="none"/>
<path d="M452.6,316.6L452.6,310.4M449.92,315.05L455.28,311.95M449.92,311.95L455.28,315.05" stroke="#333" stroke-width="1.35" fill="none"/>
<path d="M473.3,332.5L473.3,326.4M470.66,330.97L475.94,327.93M470.66,327.93L475.94,330.97" stroke="#333" stroke-width="1.35" fill="none"/>
<text x="279.5" y="374.4" font-family='"Liberation Serif", serif' font-size="15.8" font-weight="bold" fill="#000" text-anchor="middle" transform="rotate(-90 279.5 374.4)" dominant-baseline="central" stroke="#000" stroke-width="0.2">Edge zone movement</text>
<text x="298.4" y="379.1" font-family='"Liberation Serif", serif' font-size="16.748" font-weight="bold" fill="#000" text-anchor="middle" transform="rotate(-90 298.4 379.1)" dominant-baseline="central" stroke="#000" stroke-width="0.2">speed<tspan font-weight="normal" dx="7.54">(</tspan>mm/s<tspan font-weight="normal" dx="5.02">)</tspan></text>
<line x1="593.6" y1="350.6" x2="593.6" y2="334.6" stroke="#333" stroke-width="1"/>
<line x1="589.6" y1="334.6" x2="597.6" y2="334.6" stroke="#333" stroke-width="1"/>
<rect x="585.85" y="351.1" width="15.5" height="99.4" fill="#FF7B7B" stroke="#2a2020" stroke-width="1"/>
<line x1="618.5" y1="407" x2="618.5" y2="391.3" stroke="#333" stroke-width="1"/>
<line x1="614.5" y1="391.3" x2="622.5" y2="391.3" stroke="#333" stroke-width="1"/>
<rect x="610.75" y="407.5" width="15.5" height="43" fill="#5252F5" stroke="#2a2020" stroke-width="1"/>
<line x1="643.4" y1="370.5" x2="643.4" y2="354.6" stroke="#333" stroke-width="1"/>
<line x1="639.4" y1="354.6" x2="647.4" y2="354.6" stroke="#333" stroke-width="1"/>
<rect x="635.65" y="371" width="15.5" height="79.5" fill="#9CFC9C" stroke="#2a2020" stroke-width="1"/>
<line x1="668.8" y1="385.2" x2="668.8" y2="353.8" stroke="#333" stroke-width="1"/>
<line x1="664.8" y1="353.8" x2="672.8" y2="353.8" stroke="#333" stroke-width="1"/>
<rect x="661.05" y="385.7" width="15.5" height="64.8" fill="#B350D6" stroke="#2a2020" stroke-width="1"/>
<line x1="693.5" y1="370.5" x2="693.5" y2="334.6" stroke="#333" stroke-width="1"/>
<line x1="689.5" y1="334.6" x2="697.5" y2="334.6" stroke="#333" stroke-width="1"/>
<rect x="685.75" y="371" width="15.5" height="79.5" fill="#C2B47C" stroke="#2a2020" stroke-width="1"/>
<line x1="718.8" y1="373.2" x2="718.8" y2="348.4" stroke="#333" stroke-width="1"/>
<line x1="714.8" y1="348.4" x2="722.8" y2="348.4" stroke="#333" stroke-width="1"/>
<rect x="711.05" y="373.7" width="15.5" height="76.8" fill="#F4FDC0" stroke="#2a2020" stroke-width="1"/>
<path d="M576.6,305.8L576.6,450.5L735.6,450.5" stroke="#000" stroke-width="2" fill="none"/>
<line x1="570.6" y1="305.8" x2="576.6" y2="305.8" stroke="#000" stroke-width="2"/>
<text x="568.1" y="311.09" font-family='"Liberation Sans", sans-serif' font-size="14.700000000000001" font-weight="bold" fill="#000" text-anchor="end" stroke="#000" stroke-width="0.3">10000</text>
<line x1="570.6" y1="335.1" x2="576.6" y2="335.1" stroke="#000" stroke-width="2"/>
<text x="568.1" y="340.39" font-family='"Liberation Sans", sans-serif' font-size="14.700000000000001" font-weight="bold" fill="#000" text-anchor="end" stroke="#000" stroke-width="0.3">8000</text>
<line x1="570.6" y1="363.9" x2="576.6" y2="363.9" stroke="#000" stroke-width="2"/>
<text x="568.1" y="369.19" font-family='"Liberation Sans", sans-serif' font-size="14.700000000000001" font-weight="bold" fill="#000" text-anchor="end" stroke="#000" stroke-width="0.3">6000</text>
<line x1="570.6" y1="393.2" x2="576.6" y2="393.2" stroke="#000" stroke-width="2"/>
<text x="568.1" y="398.49" font-family='"Liberation Sans", sans-serif' font-size="14.700000000000001" font-weight="bold" fill="#000" text-anchor="end" stroke="#000" stroke-width="0.3">4000</text>
<line x1="570.6" y1="422" x2="576.6" y2="422" stroke="#000" stroke-width="2"/>
<text x="568.1" y="427.29" font-family='"Liberation Sans", sans-serif' font-size="14.700000000000001" font-weight="bold" fill="#000" text-anchor="end" stroke="#000" stroke-width="0.3">2000</text>
<line x1="570.6" y1="450.5" x2="576.6" y2="450.5" stroke="#000" stroke-width="2"/>
<text x="568.1" y="455.79" font-family='"Liberation Sans", sans-serif' font-size="14.700000000000001" font-weight="bold" fill="#000" text-anchor="end" stroke="#000" stroke-width="0.3">0</text>
<line x1="593.6" y1="450.5" x2="593.6" y2="456.5" stroke="#000" stroke-width="2"/>
<line x1="618.5" y1="450.5" x2="618.5" y2="456.5" stroke="#000" stroke-width="2"/>
<line x1="643.4" y1="450.5" x2="643.4" y2="456.5" stroke="#000" stroke-width="2"/>
<line x1="668.8" y1="450.5" x2="668.8" y2="456.5" stroke="#000" stroke-width="2"/>
<line x1="693.5" y1="450.5" x2="693.5" y2="456.5" stroke="#000" stroke-width="2"/>
<line x1="718.8" y1="450.5" x2="718.8" y2="456.5" stroke="#000" stroke-width="2"/>
<text x="597.6" y="465.8" font-family='"Liberation Sans", sans-serif' font-size="14" font-weight="bold" fill="#000" text-anchor="end" transform="rotate(-45 597.6 465.8)" stroke="#000" stroke-width="0.3">NC</text>
<text x="622.5" y="465.8" font-family='"Liberation Sans", sans-serif' font-size="14" font-weight="bold" fill="#000" text-anchor="end" transform="rotate(-45 622.5 465.8)" stroke="#000" stroke-width="0.3">MC</text>
<text x="647.4" y="465.8" font-family='"Liberation Sans", sans-serif' font-size="14" font-weight="bold" fill="#000" text-anchor="end" transform="rotate(-45 647.4 465.8)" stroke="#000" stroke-width="0.3">ALN</text>
<text x="672.8" y="465.8" font-family='"Liberation Sans", sans-serif' font-size="14" font-weight="bold" fill="#000" text-anchor="end" transform="rotate(-45 672.8 465.8)" stroke="#000" stroke-width="0.3">WSP-L</text>
<text x="697.5" y="465.8" font-family='"Liberation Sans", sans-serif' font-size="14" font-weight="bold" fill="#000" text-anchor="end" transform="rotate(-45 697.5 465.8)" stroke="#000" stroke-width="0.3">WSP-M</text>
<text x="722.8" y="465.8" font-family='"Liberation Sans", sans-serif' font-size="14" font-weight="bold" fill="#000" text-anchor="end" transform="rotate(-45 722.8 465.8)" stroke="#000" stroke-width="0.3">WSP-H</text>
<polygon points="611.2,388.4 618.99,388.4 615.09,382" fill="#000"/>
<polygon points="620.72,388.4 628.5,388.4 624.61,382" fill="#000"/>
<path d="M643.4,350.6L643.4,344M640.54,348.95L646.26,345.65M640.54,345.65L646.26,348.95" stroke="#333" stroke-width="1.35" fill="none"/>
<path d="M693.5,331.5L693.5,324.5M690.47,329.75L696.53,326.25M690.47,326.25L696.53,329.75" stroke="#333" stroke-width="1.35" fill="none"/>
<path d="M718.8,344.7L718.8,337.8M715.81,342.97L721.79,339.53M715.81,339.53L721.79,342.97" stroke="#333" stroke-width="1.35" fill="none"/>
<text x="498.7" y="375.6" font-family='"Liberation Serif", serif' font-size="16.32" font-weight="bold" fill="#000" text-anchor="middle" transform="rotate(-90 498.7 375.6)" dominant-baseline="central" stroke="#000" stroke-width="0.2">Sports distance in</text>
<text x="517.7" y="376.6" font-family='"Liberation Serif", serif' font-size="16.32" font-weight="bold" fill="#000" text-anchor="middle" transform="rotate(-90 517.7 376.6)" dominant-baseline="central" stroke="#000" stroke-width="0.2">open field area(mm)</text>
<line x1="822.9" y1="345.3" x2="822.9" y2="327.5" stroke="#333" stroke-width="1"/>
<line x1="818.9" y1="327.5" x2="826.9" y2="327.5" stroke="#333" stroke-width="1"/>
<rect x="815.5" y="345.8" width="14.8" height="113.2" fill="#FF7B7B" stroke="#2a2020" stroke-width="1"/>
<line x1="847" y1="410.6" x2="847" y2="392.5" stroke="#333" stroke-width="1"/>
<line x1="843" y1="392.5" x2="851" y2="392.5" stroke="#333" stroke-width="1"/>
<rect x="839.6" y="411.1" width="14.8" height="47.9" fill="#5252F5" stroke="#2a2020" stroke-width="1"/>
<line x1="871.4" y1="366.6" x2="871.4" y2="350.2" stroke="#333" stroke-width="1"/>
<line x1="867.4" y1="350.2" x2="875.4" y2="350.2" stroke="#333" stroke-width="1"/>
<rect x="864" y="367.1" width="14.8" height="91.9" fill="#9CFC9C" stroke="#2a2020" stroke-width="1"/>
<line x1="895.9" y1="385" x2="895.9" y2="349.2" stroke="#333" stroke-width="1"/>
<line x1="891.9" y1="349.2" x2="899.9" y2="349.2" stroke="#333" stroke-width="1"/>
<rect x="888.5" y="385.5" width="14.8" height="73.5" fill="#B350D6" stroke="#2a2020" stroke-width="1"/>
<line x1="920.5" y1="366.4" x2="920.5" y2="325.3" stroke="#333" stroke-width="1"/>
<line x1="916.5" y1="325.3" x2="924.5" y2="325.3" stroke="#333" stroke-width="1"/>
<rect x="913.1" y="366.9" width="14.8" height="92.1" fill="#C2B47C" stroke="#2a2020" stroke-width="1"/>
<line x1="944.5" y1="372.2" x2="944.5" y2="342.9" stroke="#333" stroke-width="1"/>
<line x1="940.5" y1="342.9" x2="948.5" y2="342.9" stroke="#333" stroke-width="1"/>
<rect x="937.1" y="372.7" width="14.8" height="86.3" fill="#F4FDC0" stroke="#2a2020" stroke-width="1"/>
<path d="M805.8,315.1L805.8,459L961.2,459" stroke="#000" stroke-width="2" fill="none"/>
<line x1="799.8" y1="315.1" x2="805.8" y2="315.1" stroke="#000" stroke-width="2"/>
<text x="797.3" y="320.39" font-family='"Liberation Sans", sans-serif' font-size="14.700000000000001" font-weight="bold" fill="#000" text-anchor="end" stroke="#000" stroke-width="0.3">30</text>
<line x1="799.8" y1="363.2" x2="805.8" y2="363.2" stroke="#000" stroke-width="2"/>
<text x="797.3" y="368.49" font-family='"Liberation Sans", sans-serif' font-size="14.700000000000001" font-weight="bold" fill="#000" text-anchor="end" stroke="#000" stroke-width="0.3">20</text>
<line x1="799.8" y1="411.1" x2="805.8" y2="411.1" stroke="#000" stroke-width="2"/>
<text x="797.3" y="416.39" font-family='"Liberation Sans", sans-serif' font-size="14.700000000000001" font-weight="bold" fill="#000" text-anchor="end" stroke="#000" stroke-width="0.3">10</text>
<line x1="799.8" y1="459" x2="805.8" y2="459" stroke="#000" stroke-width="2"/>
<text x="797.3" y="464.29" font-family='"Liberation Sans", sans-serif' font-size="14.700000000000001" font-weight="bold" fill="#000" text-anchor="end" stroke="#000" stroke-width="0.3">0</text>
<line x1="822.9" y1="459" x2="822.9" y2="465" stroke="#000" stroke-width="2"/>
<line x1="847" y1="459" x2="847" y2="465" stroke="#000" stroke-width="2"/>
<line x1="871.4" y1="459" x2="871.4" y2="465" stroke="#000" stroke-width="2"/>
<line x1="895.9" y1="459" x2="895.9" y2="465" stroke="#000" stroke-width="2"/>
<line x1="920.5" y1="459" x2="920.5" y2="465" stroke="#000" stroke-width="2"/>
<line x1="944.5" y1="459" x2="944.5" y2="465" stroke="#000" stroke-width="2"/>
<text x="826.9" y="471.3" font-family='"Liberation Sans", sans-serif' font-size="14.2" font-weight="bold" fill="#000" text-anchor="end" transform="rotate(-45 826.9 471.3)" stroke="#000" stroke-width="0.3">NC</text>
<text x="851" y="471.3" font-family='"Liberation Sans", sans-serif' font-size="14.2" font-weight="bold" fill="#000" text-anchor="end" transform="rotate(-45 851 471.3)" stroke="#000" stroke-width="0.3">MC</text>
<text x="875.4" y="471.3" font-family='"Liberation Sans", sans-serif' font-size="14.2" font-weight="bold" fill="#000" text-anchor="end" transform="rotate(-45 875.4 471.3)" stroke="#000" stroke-width="0.3">ALN</text>
<text x="899.9" y="471.3" font-family='"Liberation Sans", sans-serif' font-size="14.2" font-weight="bold" fill="#000" text-anchor="end" transform="rotate(-45 899.9 471.3)" stroke="#000" stroke-width="0.3">WSP-L</text>
<text x="924.5" y="471.3" font-family='"Liberation Sans", sans-serif' font-size="14.2" font-weight="bold" fill="#000" text-anchor="end" transform="rotate(-45 924.5 471.3)" stroke="#000" stroke-width="0.3">WSP-M</text>
<text x="948.5" y="471.3" font-family='"Liberation Sans", sans-serif' font-size="14.2" font-weight="bold" fill="#000" text-anchor="end" transform="rotate(-45 948.5 471.3)" stroke="#000" stroke-width="0.3">WSP-H</text>
<polygon points="839,391 846.11,391 842.55,384.5" fill="#000"/>
<polygon points="847.69,391 854.8,391 851.24,384.5" fill="#000"/>
<path d="M867.65,347.5L867.65,341M864.84,345.88L870.46,342.62M864.84,342.62L870.46,345.88" stroke="#333" stroke-width="1.35" fill="none"/>
<path d="M875.15,347.5L875.15,341M872.34,345.88L877.96,342.62M872.34,342.62L877.96,345.88" stroke="#333" stroke-width="1.35" fill="none"/>
<path d="M916.55,321.7L916.55,315.6M913.91,320.17L919.19,317.12M913.91,317.12L919.19,320.17" stroke="#333" stroke-width="1.35" fill="none"/>
<path d="M924.45,321.7L924.45,315.6M921.81,320.17L927.09,317.12M921.81,317.12L927.09,320.17" stroke="#333" stroke-width="1.35" fill="none"/>
<path d="M944.5,341L944.5,335M941.9,339.5L947.1,336.5M941.9,336.5L947.1,339.5" stroke="#333" stroke-width="1.35" fill="none"/>
<text x="751" y="383.9" font-family='"Liberation Serif", serif' font-size="16.5" font-weight="bold" fill="#000" text-anchor="middle" transform="rotate(-90 751 383.9)" dominant-baseline="central" stroke="#000" stroke-width="0.2">Sports speed in</text>
<text x="772.5" y="387.3" font-family='"Liberation Serif", serif' font-size="16.5" font-weight="bold" fill="#000" text-anchor="middle" transform="rotate(-90 772.5 387.3)" dominant-baseline="central" stroke="#000" stroke-width="0.2">open field area<tspan font-weight="normal" dx="7.42">(</tspan>mm/s<tspan font-weight="normal" dx="4.95">)</tspan></text>
<line x1="103.8" y1="589.3" x2="103.8" y2="586.6" stroke="#FF9A9A" stroke-width="1"/>
<line x1="99.3" y1="586.6" x2="108.3" y2="586.6" stroke="#FF9A9A" stroke-width="1.1"/>
<rect x="96.1" y="590.6" width="15.4" height="125.4" fill="none" stroke="#FF7B7B" stroke-width="2.6"/>
<line x1="132" y1="620.4" x2="132" y2="611" stroke="#7A7AFF" stroke-width="1"/>
<line x1="127.5" y1="611" x2="136.5" y2="611" stroke="#7A7AFF" stroke-width="1.1"/>
<rect x="124.3" y="621.7" width="15.4" height="94.3" fill="none" stroke="#4646FF" stroke-width="2.6"/>
<line x1="160.2" y1="611" x2="160.2" y2="595.8" stroke="#4A9A4A" stroke-width="1"/>
<line x1="155.7" y1="595.8" x2="164.7" y2="595.8" stroke="#4A9A4A" stroke-width="1.1"/>
<rect x="152.5" y="612.3" width="15.4" height="103.7" fill="none" stroke="#0B7D0B" stroke-width="2.6"/>
<line x1="188.2" y1="603" x2="188.2" y2="595.2" stroke="#C97AF0" stroke-width="1"/>
<line x1="183.7" y1="595.2" x2="192.7" y2="595.2" stroke="#C97AF0" stroke-width="1.1"/>
<rect x="180.5" y="604.3" width="15.4" height="111.7" fill="none" stroke="#C355F0" stroke-width="2.6"/>
<line x1="216.2" y1="603.2" x2="216.2" y2="595.2" stroke="#9A9A4A" stroke-width="1"/>
<line x1="211.7" y1="595.2" x2="220.7" y2="595.2" stroke="#9A9A4A" stroke-width="1.1"/>
<rect x="208.5" y="604.5" width="15.4" height="111.5" fill="none" stroke="#85851A" stroke-width="2.6"/>
<line x1="244.2" y1="611.5" x2="244.2" y2="605.4" stroke="#222222" stroke-width="1"/>
<line x1="239.7" y1="605.4" x2="248.7" y2="605.4" stroke="#222222" stroke-width="1.1"/>
<rect x="236.5" y="612.8" width="15.4" height="103.2" fill="none" stroke="#000000" stroke-width="2.6"/>
<path d="M85,535.8L85,716L264.5,716" stroke="#000" stroke-width="2" fill="none"/>
<line x1="78" y1="535.8" x2="85" y2="535.8" stroke="#000" stroke-width="2"/>
<g transform="matrix(1 0 0 1.14 75.5 540.96)">
<text x="0" y="0" font-family='"Liberation Serif", serif' font-size="13.5" font-weight="bold" fill="#000" text-anchor="end" stroke="#000" stroke-width="0.15">15</text>
</g>
<line x1="78" y1="595.8" x2="85" y2="595.8" stroke="#000" stroke-width="2"/>
<g transform="matrix(1 0 0 1.14 75.5 600.96)">
<text x="0" y="0" font-family='"Liberation Serif", serif' font-size="13.5" font-weight="bold" fill="#000" text-anchor="end" stroke="#000" stroke-width="0.15">10</text>
</g>
<line x1="78" y1="656" x2="85" y2="656" stroke="#000" stroke-width="2"/>
<g transform="matrix(1 0 0 1.14 75.5 661.16)">
<text x="0" y="0" font-family='"Liberation Serif", serif' font-size="13.5" font-weight="bold" fill="#000" text-anchor="end" stroke="#000" stroke-width="0.15">5</text>
</g>
<line x1="78" y1="716" x2="85" y2="716" stroke="#000" stroke-width="2"/>
<g transform="matrix(1 0 0 1.14 75.5 721.16)">
<text x="0" y="0" font-family='"Liberation Serif", serif' font-size="13.5" font-weight="bold" fill="#000" text-anchor="end" stroke="#000" stroke-width="0.15">0</text>
</g>
<line x1="103.8" y1="716" x2="103.8" y2="723" stroke="#000" stroke-width="2"/>
<line x1="132" y1="716" x2="132" y2="723" stroke="#000" stroke-width="2"/>
<line x1="160.2" y1="716" x2="160.2" y2="723" stroke="#000" stroke-width="2"/>
<line x1="188.2" y1="716" x2="188.2" y2="723" stroke="#000" stroke-width="2"/>
<line x1="216.2" y1="716" x2="216.2" y2="723" stroke="#000" stroke-width="2"/>
<line x1="244.2" y1="716" x2="244.2" y2="723" stroke="#000" stroke-width="2"/>
<text x="107.8" y="737" font-family='"Liberation Sans", sans-serif' font-size="16.5" font-weight="bold" fill="#000" text-anchor="end" transform="rotate(-45 107.8 737)" stroke="#000" stroke-width="0.3">NC</text>
<text x="136" y="737" font-family='"Liberation Sans", sans-serif' font-size="16.5" font-weight="bold" fill="#000" text-anchor="end" transform="rotate(-45 136 737)" stroke="#000" stroke-width="0.3">MC</text>
<text x="164.2" y="737" font-family='"Liberation Sans", sans-serif' font-size="16.5" font-weight="bold" fill="#000" text-anchor="end" transform="rotate(-45 164.2 737)" stroke="#000" stroke-width="0.3">ALN</text>
<text x="192.2" y="737" font-family='"Liberation Sans", sans-serif' font-size="16.5" font-weight="bold" fill="#000" text-anchor="end" transform="rotate(-45 192.2 737)" stroke="#000" stroke-width="0.3">WSP-L</text>
<text x="220.2" y="737" font-family='"Liberation Sans", sans-serif' font-size="16.5" font-weight="bold" fill="#000" text-anchor="end" transform="rotate(-45 220.2 737)" stroke="#000" stroke-width="0.3">WSP-M</text>
<text x="248.2" y="737" font-family='"Liberation Sans", sans-serif' font-size="16.5" font-weight="bold" fill="#000" text-anchor="end" transform="rotate(-45 248.2 737)" stroke="#000" stroke-width="0.3">WSP-H</text>
<path d="M103.9,586.6L103.9,577.9L188.3,577.9L188.3,595.2" stroke="#444" stroke-width="1.2" fill="none"/>
<path d="M131.8,611L131.8,559.8L216.3,559.8L216.3,595.2" stroke="#444" stroke-width="1.2" fill="none"/>
<polygon points="107.1,575.1 116.32,575.1 111.71,566.8" fill="#000"/>
<polygon points="118.38,575.1 127.6,575.1 122.99,566.8" fill="#000"/>
<path d="M166.65,574.1L166.65,566.3M163.27,572.15L170.03,568.25M163.27,568.25L170.03,572.15" stroke="#222" stroke-width="1.35" fill="none"/>
<path d="M200.05,558L200.05,549.4M196.33,555.85L203.77,551.55M196.33,551.55L203.77,555.85" stroke="#222" stroke-width="1.35" fill="none"/>
<text x="43.6" y="630.5" font-family='"Liberation Serif", serif' font-size="20.8" font-weight="bold" fill="#000" text-anchor="middle" transform="rotate(-90 43.6 630.5)" dominant-baseline="central" stroke="#000" stroke-width="0.2">RBC<tspan font-weight="normal" dx="9.36">(</tspan>10^12/L<tspan font-weight="normal" dx="6.24">)</tspan></text>
<line x1="348.5" y1="591.2" x2="348.5" y2="587.3" stroke="#FF9A9A" stroke-width="1"/>
<line x1="344" y1="587.3" x2="353" y2="587.3" stroke="#FF9A9A" stroke-width="1.1"/>
<rect x="341.8" y="592.5" width="13.4" height="132.7" fill="none" stroke="#FF7B7B" stroke-width="2.6"/>
<line x1="374.2" y1="634.4" x2="374.2" y2="626.4" stroke="#7A7AFF" stroke-width="1"/>
<line x1="369.7" y1="626.4" x2="378.7" y2="626.4" stroke="#7A7AFF" stroke-width="1.1"/>
<rect x="367.5" y="635.7" width="13.4" height="89.5" fill="none" stroke="#4646FF" stroke-width="2.6"/>
<line x1="399.8" y1="624.5" x2="399.8" y2="607.2" stroke="#4A9A4A" stroke-width="1"/>
<line x1="395.3" y1="607.2" x2="404.3" y2="607.2" stroke="#4A9A4A" stroke-width="1.1"/>
<rect x="393.1" y="625.8" width="13.4" height="99.4" fill="none" stroke="#0B7D0B" stroke-width="2.6"/>
<line x1="425.7" y1="619.2" x2="425.7" y2="611.8" stroke="#C97AF0" stroke-width="1"/>
<line x1="421.2" y1="611.8" x2="430.2" y2="611.8" stroke="#C97AF0" stroke-width="1.1"/>
<rect x="419" y="620.5" width="13.4" height="104.7" fill="none" stroke="#C355F0" stroke-width="2.6"/>
<line x1="451" y1="614.4" x2="451" y2="605.9" stroke="#9A9A4A" stroke-width="1"/>
<line x1="446.5" y1="605.9" x2="455.5" y2="605.9" stroke="#9A9A4A" stroke-width="1.1"/>
<rect x="444.3" y="615.7" width="13.4" height="109.5" fill="none" stroke="#85851A" stroke-width="2.6"/>
<line x1="476.5" y1="625.9" x2="476.5" y2="620.5" stroke="#222222" stroke-width="1"/>
<line x1="472" y1="620.5" x2="481" y2="620.5" stroke="#222222" stroke-width="1.1"/>
<rect x="469.8" y="627.2" width="13.4" height="98" fill="none" stroke="#000000" stroke-width="2.6"/>
<path d="M331.4,562.5L331.4,725.2L494,725.2" stroke="#000" stroke-width="2" fill="none"/>
<line x1="324.4" y1="562.5" x2="331.4" y2="562.5" stroke="#000" stroke-width="2"/>
<g transform="matrix(1 0 0 1.14 321.9 567.62)">
<text x="0" y="0" font-family='"Liberation Serif", serif' font-size="13.4" font-weight="bold" fill="#000" text-anchor="end" stroke="#000" stroke-width="0.15">200</text>
</g>
<line x1="324.4" y1="603.8" x2="331.4" y2="603.8" stroke="#000" stroke-width="2"/>
<g transform="matrix(1 0 0 1.14 321.9 608.92)">
<text x="0" y="0" font-family='"Liberation Serif", serif' font-size="13.4" font-weight="bold" fill="#000" text-anchor="end" stroke="#000" stroke-width="0.15">150</text>
</g>
<line x1="324.4" y1="644.5" x2="331.4" y2="644.5" stroke="#000" stroke-width="2"/>
<g transform="matrix(1 0 0 1.14 321.9 649.62)">
<text x="0" y="0" font-family='"Liberation Serif", serif' font-size="13.4" font-weight="bold" fill="#000" text-anchor="end" stroke="#000" stroke-width="0.15">100</text>
</g>
<line x1="324.4" y1="685" x2="331.4" y2="685" stroke="#000" stroke-width="2"/>
<g transform="matrix(1 0 0 1.14 321.9 690.12)">
<text x="0" y="0" font-family='"Liberation Serif", serif' font-size="13.4" font-weight="bold" fill="#000" text-anchor="end" stroke="#000" stroke-width="0.15">50</text>
</g>
<line x1="324.4" y1="725.2" x2="331.4" y2="725.2" stroke="#000" stroke-width="2"/>
<g transform="matrix(1 0 0 1.14 321.9 730.32)">
<text x="0" y="0" font-family='"Liberation Serif", serif' font-size="13.4" font-weight="bold" fill="#000" text-anchor="end" stroke="#000" stroke-width="0.15">0</text>
</g>
<line x1="348.5" y1="725.2" x2="348.5" y2="732.2" stroke="#000" stroke-width="2"/>
<line x1="374.2" y1="725.2" x2="374.2" y2="732.2" stroke="#000" stroke-width="2"/>
<line x1="399.8" y1="725.2" x2="399.8" y2="732.2" stroke="#000" stroke-width="2"/>
<line x1="425.7" y1="725.2" x2="425.7" y2="732.2" stroke="#000" stroke-width="2"/>
<line x1="451" y1="725.2" x2="451" y2="732.2" stroke="#000" stroke-width="2"/>
<line x1="476.5" y1="725.2" x2="476.5" y2="732.2" stroke="#000" stroke-width="2"/>
<text x="352.5" y="743.7" font-family='"Liberation Sans", sans-serif' font-size="16.5" font-weight="bold" fill="#000" text-anchor="end" transform="rotate(-45 352.5 743.7)" stroke="#000" stroke-width="0.3">NC</text>
<text x="378.2" y="743.7" font-family='"Liberation Sans", sans-serif' font-size="16.5" font-weight="bold" fill="#000" text-anchor="end" transform="rotate(-45 378.2 743.7)" stroke="#000" stroke-width="0.3">MC</text>
<text x="403.8" y="743.7" font-family='"Liberation Sans", sans-serif' font-size="16.5" font-weight="bold" fill="#000" text-anchor="end" transform="rotate(-45 403.8 743.7)" stroke="#000" stroke-width="0.3">ALN</text>
<text x="429.7" y="743.7" font-family='"Liberation Sans", sans-serif' font-size="16.5" font-weight="bold" fill="#000" text-anchor="end" transform="rotate(-45 429.7 743.7)" stroke="#000" stroke-width="0.3">WSP-L</text>
<text x="455" y="743.7" font-family='"Liberation Sans", sans-serif' font-size="16.5" font-weight="bold" fill="#000" text-anchor="end" transform="rotate(-45 455 743.7)" stroke="#000" stroke-width="0.3">WSP-M</text>
<text x="480.5" y="743.7" font-family='"Liberation Sans", sans-serif' font-size="16.5" font-weight="bold" fill="#000" text-anchor="end" transform="rotate(-45 480.5 743.7)" stroke="#000" stroke-width="0.3">WSP-H</text>
<path d="M348.7,580.6L348.7,574.5L425.7,574.5L425.7,611.8" stroke="#444" stroke-width="1.2" fill="none"/>
<path d="M376.7,621.9L376.7,556.6L451.2,556.6L451.2,605.9" stroke="#444" stroke-width="1.2" fill="none"/>
<polygon points="354,569 362.42,569 358.21,562" fill="#000"/>
<polygon points="364.28,569 372.7,569 368.49,562" fill="#000"/>
<path d="M409.15,568.6L409.15,560.6M405.69,566.6L412.61,562.6M405.69,562.6L412.61,566.6" stroke="#222" stroke-width="1.35" fill="none"/>
<path d="M429.35,554L429.35,547.3M426.45,552.32L432.25,548.98M426.45,548.98L432.25,552.32" stroke="#222" stroke-width="1.35" fill="none"/>
<path d="M439.15,554L439.15,547.3M436.25,552.32L442.05,548.98M436.25,548.98L442.05,552.32" stroke="#222" stroke-width="1.35" fill="none"/>
<text x="288.5" y="648.1" font-family='"Liberation Serif", serif' font-size="19" font-weight="bold" fill="#000" text-anchor="middle" transform="rotate(-90 288.5 648.1)" dominant-baseline="central" stroke="#000" stroke-width="0.2">HGB<tspan font-weight="normal" dx="8.55">(</tspan>g/L<tspan font-weight="normal" dx="5.7">)</tspan></text>
<line x1="571.9" y1="571.4" x2="571.9" y2="567.4" stroke="#FF9A9A" stroke-width="1"/>
<line x1="567.4" y1="567.4" x2="576.4" y2="567.4" stroke="#FF9A9A" stroke-width="1.1"/>
<rect x="564.2" y="572.7" width="15.4" height="148.4" fill="none" stroke="#FF7B7B" stroke-width="2.6"/>
<line x1="600.1" y1="613.2" x2="600.1" y2="603.4" stroke="#7A7AFF" stroke-width="1"/>
<line x1="595.6" y1="603.4" x2="604.6" y2="603.4" stroke="#7A7AFF" stroke-width="1.1"/>
<rect x="592.4" y="614.5" width="15.4" height="106.6" fill="none" stroke="#4646FF" stroke-width="2.6"/>
<line x1="628.1" y1="601.8" x2="628.1" y2="584.7" stroke="#4A9A4A" stroke-width="1"/>
<line x1="623.6" y1="584.7" x2="632.6" y2="584.7" stroke="#4A9A4A" stroke-width="1.1"/>
<rect x="620.4" y="603.1" width="15.4" height="118" fill="none" stroke="#0B7D0B" stroke-width="2.6"/>
<line x1="656.2" y1="597.8" x2="656.2" y2="590" stroke="#C97AF0" stroke-width="1"/>
<line x1="651.7" y1="590" x2="660.7" y2="590" stroke="#C97AF0" stroke-width="1.1"/>
<rect x="648.5" y="599.1" width="15.4" height="122" fill="none" stroke="#C355F0" stroke-width="2.6"/>
<line x1="684.2" y1="590" x2="684.2" y2="583.4" stroke="#9A9A4A" stroke-width="1"/>
<line x1="679.7" y1="583.4" x2="688.7" y2="583.4" stroke="#9A9A4A" stroke-width="1.1"/>
<rect x="676.5" y="591.3" width="15.4" height="129.8" fill="none" stroke="#85851A" stroke-width="2.6"/>
<line x1="712.7" y1="590" x2="712.7" y2="583.4" stroke="#222222" stroke-width="1"/>
<line x1="708.2" y1="583.4" x2="717.2" y2="583.4" stroke="#222222" stroke-width="1.1"/>
<rect x="705" y="591.3" width="15.4" height="129.8" fill="none" stroke="#000000" stroke-width="2.6"/>
<path d="M552.9,549.3L552.9,721.1L732.4,721.1" stroke="#000" stroke-width="2" fill="none"/>
<line x1="545.9" y1="549.3" x2="552.9" y2="549.3" stroke="#000" stroke-width="2"/>
<g transform="matrix(1 0 0 1.14 543.4 554.28)">
<text x="0" y="0" font-family='"Liberation Serif", serif' font-size="13" font-weight="bold" fill="#000" text-anchor="end" stroke="#000" stroke-width="0.15">60</text>
</g>
<line x1="545.9" y1="607.1" x2="552.9" y2="607.1" stroke="#000" stroke-width="2"/>
<g transform="matrix(1 0 0 1.14 543.4 612.08)">
<text x="0" y="0" font-family='"Liberation Serif", serif' font-size="13" font-weight="bold" fill="#000" text-anchor="end" stroke="#000" stroke-width="0.15">40</text>
</g>
<line x1="545.9" y1="663.8" x2="552.9" y2="663.8" stroke="#000" stroke-width="2"/>
<g transform="matrix(1 0 0 1.14 543.4 668.78)">
<text x="0" y="0" font-family='"Liberation Serif", serif' font-size="13" font-weight="bold" fill="#000" text-anchor="end" stroke="#000" stroke-width="0.15">20</text>
</g>
<line x1="545.9" y1="721.1" x2="552.9" y2="721.1" stroke="#000" stroke-width="2"/>
<g transform="matrix(1 0 0 1.14 543.4 726.08)">
<text x="0" y="0" font-family='"Liberation Serif", serif' font-size="13" font-weight="bold" fill="#000" text-anchor="end" stroke="#000" stroke-width="0.15">0</text>
</g>
<line x1="571.9" y1="721.1" x2="571.9" y2="728.1" stroke="#000" stroke-width="2"/>
<line x1="600.1" y1="721.1" x2="600.1" y2="728.1" stroke="#000" stroke-width="2"/>
<line x1="628.1" y1="721.1" x2="628.1" y2="728.1" stroke="#000" stroke-width="2"/>
<line x1="656.2" y1="721.1" x2="656.2" y2="728.1" stroke="#000" stroke-width="2"/>
<line x1="684.2" y1="721.1" x2="684.2" y2="728.1" stroke="#000" stroke-width="2"/>
<line x1="712.7" y1="721.1" x2="712.7" y2="728.1" stroke="#000" stroke-width="2"/>
<text x="575.9" y="740.4" font-family='"Liberation Sans", sans-serif' font-size="16.5" font-weight="bold" fill="#000" text-anchor="end" transform="rotate(-45 575.9 740.4)" stroke="#000" stroke-width="0.3">NC</text>
<text x="604.1" y="740.4" font-family='"Liberation Sans", sans-serif' font-size="16.5" font-weight="bold" fill="#000" text-anchor="end" transform="rotate(-45 604.1 740.4)" stroke="#000" stroke-width="0.3">MC</text>
<text x="632.1" y="740.4" font-family='"Liberation Sans", sans-serif' font-size="16.5" font-weight="bold" fill="#000" text-anchor="end" transform="rotate(-45 632.1 740.4)" stroke="#000" stroke-width="0.3">ALN</text>
<text x="660.2" y="740.4" font-family='"Liberation Sans", sans-serif' font-size="16.5" font-weight="bold" fill="#000" text-anchor="end" transform="rotate(-45 660.2 740.4)" stroke="#000" stroke-width="0.3">WSP-L</text>
<text x="688.2" y="740.4" font-family='"Liberation Sans", sans-serif' font-size="16.5" font-weight="bold" fill="#000" text-anchor="end" transform="rotate(-45 688.2 740.4)" stroke="#000" stroke-width="0.3">WSP-M</text>
<text x="716.7" y="740.4" font-family='"Liberation Sans", sans-serif' font-size="16.5" font-weight="bold" fill="#000" text-anchor="end" transform="rotate(-45 716.7 740.4)" stroke="#000" stroke-width="0.3">WSP-H</text>
<path d="M571.2,567.4L571.2,561.8L656,561.8L656,590" stroke="#444" stroke-width="1.2" fill="none"/>
<path d="M600,603.4L600,525.8L713.8,525.8L713.8,583.4" stroke="#444" stroke-width="1.2" fill="none"/>
<path d="M600,543.2L685.3,543.2L685.3,583.4" stroke="#444" stroke-width="1.2" fill="none"/>
<polygon points="576.6,560 585.6,560 581.1,553.3" fill="#000"/>
<polygon points="587.6,560 596.6,560 592.1,553.3" fill="#000"/>
<path d="M639.6,558L639.6,550.6M636.4,556.15L642.8,552.45M636.4,552.45L642.8,556.15" stroke="#222" stroke-width="1.35" fill="none"/>
<path d="M656.6,538.6L656.6,531.4M653.48,536.8L659.72,533.2M653.48,533.2L659.72,536.8" stroke="#222" stroke-width="1.35" fill="none"/>
<path d="M667,538.6L667,531.4M663.88,536.8L670.12,533.2M663.88,533.2L670.12,536.8" stroke="#222" stroke-width="1.35" fill="none"/>
<path d="M690.7,518.1L690.7,510.7M687.5,516.25L693.9,512.55M687.5,512.55L693.9,516.25" stroke="#222" stroke-width="1.35" fill="none"/>
<path d="M700.7,518.1L700.7,510.7M697.5,516.25L703.9,512.55M697.5,512.55L703.9,516.25" stroke="#222" stroke-width="1.35" fill="none"/>
<text x="512.7" y="640.5" font-family='"Liberation Serif", serif' font-size="20" font-weight="bold" fill="#000" text-anchor="middle" transform="rotate(-90 512.7 640.5)" dominant-baseline="central" stroke="#000" stroke-width="0.2">HCT<tspan font-weight="normal" dx="9">(</tspan>%<tspan font-weight="normal" dx="6">)</tspan></text>
<line x1="819.8" y1="659.4" x2="819.8" y2="649" stroke="#FF9A9A" stroke-width="1"/>
<line x1="815.3" y1="649" x2="824.3" y2="649" stroke="#FF9A9A" stroke-width="1.1"/>
<rect x="813.25" y="660.7" width="13.1" height="63.8" fill="none" stroke="#FF7B7B" stroke-width="2.6"/>
<line x1="844.5" y1="604.8" x2="844.5" y2="586.2" stroke="#7A7AFF" stroke-width="1"/>
<line x1="840" y1="586.2" x2="849" y2="586.2" stroke="#7A7AFF" stroke-width="1.1"/>
<rect x="837.95" y="606.1" width="13.1" height="118.4" fill="none" stroke="#4646FF" stroke-width="2.6"/>
<line x1="869.4" y1="614.7" x2="869.4" y2="595.3" stroke="#4A9A4A" stroke-width="1"/>
<line x1="864.9" y1="595.3" x2="873.9" y2="595.3" stroke="#4A9A4A" stroke-width="1.1"/>
<rect x="862.85" y="616" width="13.1" height="108.5" fill="none" stroke="#0B7D0B" stroke-width="2.6"/>
<line x1="894.1" y1="629.7" x2="894.1" y2="615.2" stroke="#C97AF0" stroke-width="1"/>
<line x1="889.6" y1="615.2" x2="898.6" y2="615.2" stroke="#C97AF0" stroke-width="1.1"/>
<rect x="887.55" y="631" width="13.1" height="93.5" fill="none" stroke="#C355F0" stroke-width="2.6"/>
<line x1="919" y1="631.6" x2="919" y2="616.4" stroke="#9A9A4A" stroke-width="1"/>
<line x1="914.5" y1="616.4" x2="923.5" y2="616.4" stroke="#9A9A4A" stroke-width="1.1"/>
<rect x="912.45" y="632.9" width="13.1" height="91.6" fill="none" stroke="#85851A" stroke-width="2.6"/>
<line x1="943.7" y1="621.5" x2="943.7" y2="609.6" stroke="#222222" stroke-width="1"/>
<line x1="939.2" y1="609.6" x2="948.2" y2="609.6" stroke="#222222" stroke-width="1.1"/>
<rect x="937.15" y="622.8" width="13.1" height="101.7" fill="none" stroke="#000000" stroke-width="2.6"/>
<path d="M803.6,569.2L803.6,724.5L961.2,724.5" stroke="#000" stroke-width="2" fill="none"/>
<line x1="796.6" y1="569.2" x2="803.6" y2="569.2" stroke="#000" stroke-width="2"/>
<g transform="matrix(1 0 0 1.14 794.1 573.82)">
<text x="0" y="0" font-family='"Liberation Serif", serif' font-size="12" font-weight="bold" fill="#000" text-anchor="end" stroke="#000" stroke-width="0.15">4000</text>
</g>
<line x1="796.6" y1="608.2" x2="803.6" y2="608.2" stroke="#000" stroke-width="2"/>
<g transform="matrix(1 0 0 1.14 794.1 612.82)">
<text x="0" y="0" font-family='"Liberation Serif", serif' font-size="12" font-weight="bold" fill="#000" text-anchor="end" stroke="#000" stroke-width="0.15">3000</text>
</g>
<line x1="796.6" y1="646.8" x2="803.6" y2="646.8" stroke="#000" stroke-width="2"/>
<g transform="matrix(1 0 0 1.14 794.1 651.42)">
<text x="0" y="0" font-family='"Liberation Serif", serif' font-size="12" font-weight="bold" fill="#000" text-anchor="end" stroke="#000" stroke-width="0.15">2000</text>
</g>
<line x1="796.6" y1="685.8" x2="803.6" y2="685.8" stroke="#000" stroke-width="2"/>
<g transform="matrix(1 0 0 1.14 794.1 690.42)">
<text x="0" y="0" font-family='"Liberation Serif", serif' font-size="12" font-weight="bold" fill="#000" text-anchor="end" stroke="#000" stroke-width="0.15">1000</text>
</g>
<line x1="796.6" y1="724.5" x2="803.6" y2="724.5" stroke="#000" stroke-width="2"/>
<g transform="matrix(1 0 0 1.14 794.1 729.12)">
<text x="0" y="0" font-family='"Liberation Serif", serif' font-size="12" font-weight="bold" fill="#000" text-anchor="end" stroke="#000" stroke-width="0.15">0</text>
</g>
<line x1="819.8" y1="724.5" x2="819.8" y2="731.5" stroke="#000" stroke-width="2"/>
<line x1="844.5" y1="724.5" x2="844.5" y2="731.5" stroke="#000" stroke-width="2"/>
<line x1="869.4" y1="724.5" x2="869.4" y2="731.5" stroke="#000" stroke-width="2"/>
<line x1="894.1" y1="724.5" x2="894.1" y2="731.5" stroke="#000" stroke-width="2"/>
<line x1="919" y1="724.5" x2="919" y2="731.5" stroke="#000" stroke-width="2"/>
<line x1="943.7" y1="724.5" x2="943.7" y2="731.5" stroke="#000" stroke-width="2"/>
<text x="823.8" y="741" font-family='"Liberation Sans", sans-serif' font-size="15" font-weight="bold" fill="#000" text-anchor="end" transform="rotate(-45 823.8 741)" stroke="#000" stroke-width="0.3">NC</text>
<text x="848.5" y="741" font-family='"Liberation Sans", sans-serif' font-size="15" font-weight="bold" fill="#000" text-anchor="end" transform="rotate(-45 848.5 741)" stroke="#000" stroke-width="0.3">MC</text>
<text x="873.4" y="741" font-family='"Liberation Sans", sans-serif' font-size="15" font-weight="bold" fill="#000" text-anchor="end" transform="rotate(-45 873.4 741)" stroke="#000" stroke-width="0.3">ALN</text>
<text x="898.1" y="741" font-family='"Liberation Sans", sans-serif' font-size="15" font-weight="bold" fill="#000" text-anchor="end" transform="rotate(-45 898.1 741)" stroke="#000" stroke-width="0.3">WSP-L</text>
<text x="923" y="741" font-family='"Liberation Sans", sans-serif' font-size="15" font-weight="bold" fill="#000" text-anchor="end" transform="rotate(-45 923 741)" stroke="#000" stroke-width="0.3">WSP-M</text>
<text x="947.7" y="741" font-family='"Liberation Sans", sans-serif' font-size="15" font-weight="bold" fill="#000" text-anchor="end" transform="rotate(-45 947.7 741)" stroke="#000" stroke-width="0.3">WSP-H</text>
<path d="M819.8,649L819.8,572.4L894,572.4L894,615.2" stroke="#444" stroke-width="1.2" fill="none"/>
<path d="M844.4,586.2L844.4,540.7L944.3,540.7L944.3,609.6" stroke="#444" stroke-width="1.2" fill="none"/>
<path d="M844.4,557.6L919.4,557.6L919.4,616.4" stroke="#444" stroke-width="1.2" fill="none"/>
<polygon points="824.6,571 832.79,571 828.7,564.4" fill="#000"/>
<polygon points="834.61,571 842.8,571 838.71,564.4" fill="#000"/>
<path d="M879.4,571.6L879.4,565M876.54,569.95L882.26,566.65M876.54,566.65L882.26,569.95" stroke="#222" stroke-width="1.35" fill="none"/>
<path d="M887.8,571.6L887.8,565M884.94,569.95L890.66,566.65M884.94,566.65L890.66,569.95" stroke="#222" stroke-width="1.35" fill="none"/>
<path d="M896.65,552.3L896.65,545M893.49,550.47L899.81,546.83M893.49,546.83L899.81,550.47" stroke="#222" stroke-width="1.35" fill="none"/>
<path d="M904.35,552.3L904.35,545M901.19,550.47L907.51,546.83M901.19,546.83L907.51,550.47" stroke="#222" stroke-width="1.35" fill="none"/>
<path d="M929.7,537.3L929.7,530.5M926.76,535.6L932.64,532.2M926.76,532.2L932.64,535.6" stroke="#222" stroke-width="1.35" fill="none"/>
<text x="757.5" y="651.1" font-family='"Liberation Serif", serif' font-size="17.82" font-weight="bold" fill="#000" text-anchor="middle" transform="rotate(-90 757.5 651.1)" dominant-baseline="central" stroke="#000" stroke-width="0.2">PLT<tspan font-weight="normal" dx="8.02">(</tspan>10^9/L<tspan font-weight="normal" dx="5.35">)</tspan></text>
<line x1="96.5" y1="839.3" x2="96.5" y2="827.5" stroke="#FF9A9A" stroke-width="1"/>
<line x1="92" y1="827.5" x2="101" y2="827.5" stroke="#FF9A9A" stroke-width="1.1"/>
<rect x="89.3" y="840.6" width="14.4" height="104.4" fill="none" stroke="#FF7B7B" stroke-width="2.6"/>
<line x1="123.5" y1="874.7" x2="123.5" y2="857.1" stroke="#7A7AFF" stroke-width="1"/>
<line x1="119" y1="857.1" x2="128" y2="857.1" stroke="#7A7AFF" stroke-width="1.1"/>
<rect x="116.3" y="876" width="14.4" height="69" fill="none" stroke="#4646FF" stroke-width="2.6"/>
<line x1="150.5" y1="862.7" x2="150.5" y2="848.6" stroke="#4A9A4A" stroke-width="1"/>
<line x1="146" y1="848.6" x2="155" y2="848.6" stroke="#4A9A4A" stroke-width="1.1"/>
<rect x="143.3" y="864" width="14.4" height="81" fill="none" stroke="#0B7D0B" stroke-width="2.6"/>
<line x1="177.2" y1="875.8" x2="177.2" y2="856.8" stroke="#C97AF0" stroke-width="1"/>
<line x1="172.7" y1="856.8" x2="181.7" y2="856.8" stroke="#C97AF0" stroke-width="1.1"/>
<rect x="170" y="877.1" width="14.4" height="67.9" fill="none" stroke="#C355F0" stroke-width="2.6"/>
<line x1="203.8" y1="849.4" x2="203.8" y2="823.5" stroke="#9A9A4A" stroke-width="1"/>
<line x1="199.3" y1="823.5" x2="208.3" y2="823.5" stroke="#9A9A4A" stroke-width="1.1"/>
<rect x="196.6" y="850.7" width="14.4" height="94.3" fill="none" stroke="#85851A" stroke-width="2.6"/>
<line x1="231" y1="852.8" x2="231" y2="841.7" stroke="#222222" stroke-width="1"/>
<line x1="226.5" y1="841.7" x2="235.5" y2="841.7" stroke="#222222" stroke-width="1.1"/>
<rect x="223.8" y="854.1" width="14.4" height="90.9" fill="none" stroke="#000000" stroke-width="2.6"/>
<path d="M78.1,785.2L78.1,945L249.9,945" stroke="#000" stroke-width="2" fill="none"/>
<line x1="71.1" y1="785.2" x2="78.1" y2="785.2" stroke="#000" stroke-width="2"/>
<g transform="matrix(1 0 0 1.14 68.6 790.18)">
<text x="0" y="0" font-family='"Liberation Serif", serif' font-size="13" font-weight="bold" fill="#000" text-anchor="end" stroke="#000" stroke-width="0.15">55</text>
</g>
<line x1="71.1" y1="838.5" x2="78.1" y2="838.5" stroke="#000" stroke-width="2"/>
<g transform="matrix(1 0 0 1.14 68.6 843.48)">
<text x="0" y="0" font-family='"Liberation Serif", serif' font-size="13" font-weight="bold" fill="#000" text-anchor="end" stroke="#000" stroke-width="0.15">50</text>
</g>
<line x1="71.1" y1="892" x2="78.1" y2="892" stroke="#000" stroke-width="2"/>
<g transform="matrix(1 0 0 1.14 68.6 896.98)">
<text x="0" y="0" font-family='"Liberation Serif", serif' font-size="13" font-weight="bold" fill="#000" text-anchor="end" stroke="#000" stroke-width="0.15">45</text>
</g>
<line x1="71.1" y1="945" x2="78.1" y2="945" stroke="#000" stroke-width="2"/>
<g transform="matrix(1 0 0 1.14 68.6 949.98)">
<text x="0" y="0" font-family='"Liberation Serif", serif' font-size="13" font-weight="bold" fill="#000" text-anchor="end" stroke="#000" stroke-width="0.15">40</text>
</g>
<line x1="96.5" y1="945" x2="96.5" y2="952" stroke="#000" stroke-width="2"/>
<line x1="123.5" y1="945" x2="123.5" y2="952" stroke="#000" stroke-width="2"/>
<line x1="150.5" y1="945" x2="150.5" y2="952" stroke="#000" stroke-width="2"/>
<line x1="177.2" y1="945" x2="177.2" y2="952" stroke="#000" stroke-width="2"/>
<line x1="203.8" y1="945" x2="203.8" y2="952" stroke="#000" stroke-width="2"/>
<line x1="231" y1="945" x2="231" y2="952" stroke="#000" stroke-width="2"/>
<text x="101" y="961.4" font-family='"Liberation Sans", sans-serif' font-size="16.3" font-weight="bold" fill="#000" text-anchor="end" transform="rotate(-45 101 961.4)" stroke="#000" stroke-width="0.3">NC</text>
<text x="128" y="961.4" font-family='"Liberation Sans", sans-serif' font-size="16.3" font-weight="bold" fill="#000" text-anchor="end" transform="rotate(-45 128 961.4)" stroke="#000" stroke-width="0.3">MC</text>
<text x="155" y="961.4" font-family='"Liberation Sans", sans-serif' font-size="16.3" font-weight="bold" fill="#000" text-anchor="end" transform="rotate(-45 155 961.4)" stroke="#000" stroke-width="0.3">ALN</text>
<text x="181.7" y="961.4" font-family='"Liberation Sans", sans-serif' font-size="16.3" font-weight="bold" fill="#000" text-anchor="end" transform="rotate(-45 181.7 961.4)" stroke="#000" stroke-width="0.3">WSP-L</text>
<text x="208.3" y="961.4" font-family='"Liberation Sans", sans-serif' font-size="16.3" font-weight="bold" fill="#000" text-anchor="end" transform="rotate(-45 208.3 961.4)" stroke="#000" stroke-width="0.3">WSP-M</text>
<text x="235.5" y="961.4" font-family='"Liberation Sans", sans-serif' font-size="16.3" font-weight="bold" fill="#000" text-anchor="end" transform="rotate(-45 235.5 961.4)" stroke="#000" stroke-width="0.3">WSP-H</text>
<path d="M96.4,823L96.4,816.1L203.8,816.1L203.8,818.7" stroke="#444" stroke-width="1.2" fill="none"/>
<path d="M123.3,845.9L123.3,816.1" stroke="#444" stroke-width="1.2" fill="none"/>
<polygon points="101.2,814.8 110.2,814.8 105.7,808" fill="#000"/>
<polygon points="112.2,814.8 121.2,814.8 116.7,808" fill="#000"/>
<path d="M170.1,814.8L170.1,807.8M167.07,813.05L173.13,809.55M167.07,809.55L173.13,813.05" stroke="#222" stroke-width="1.35" fill="none"/>
<text x="38.7" y="870.4" font-family='"Liberation Serif", serif' font-size="18.81" font-weight="bold" fill="#000" text-anchor="middle" transform="rotate(-90 38.7 870.4)" dominant-baseline="central" stroke="#000" stroke-width="0.2">MCV<tspan font-weight="normal" dx="8.46">(</tspan>fL<tspan font-weight="normal" dx="5.64">)</tspan></text>
<line x1="343.9" y1="888.5" x2="343.9" y2="878.4" stroke="#FF9A9A" stroke-width="1"/>
<line x1="339.4" y1="878.4" x2="348.4" y2="878.4" stroke="#FF9A9A" stroke-width="1.1"/>
<rect x="337.2" y="889.8" width="13.4" height="59.5" fill="none" stroke="#FF7B7B" stroke-width="2.6"/>
<line x1="369.2" y1="837.1" x2="369.2" y2="819.5" stroke="#7A7AFF" stroke-width="1"/>
<line x1="364.7" y1="819.5" x2="373.7" y2="819.5" stroke="#7A7AFF" stroke-width="1.1"/>
<rect x="362.5" y="838.4" width="13.4" height="110.9" fill="none" stroke="#4646FF" stroke-width="2.6"/>
<line x1="394.5" y1="846.5" x2="394.5" y2="828.1" stroke="#4A9A4A" stroke-width="1"/>
<line x1="390" y1="828.1" x2="399" y2="828.1" stroke="#4A9A4A" stroke-width="1.1"/>
<rect x="387.8" y="847.8" width="13.4" height="101.5" fill="none" stroke="#0B7D0B" stroke-width="2.6"/>
<line x1="419.8" y1="860.6" x2="419.8" y2="847.3" stroke="#C97AF0" stroke-width="1"/>
<line x1="415.3" y1="847.3" x2="424.3" y2="847.3" stroke="#C97AF0" stroke-width="1.1"/>
<rect x="413.1" y="861.9" width="13.4" height="87.4" fill="none" stroke="#C355F0" stroke-width="2.6"/>
<line x1="445.1" y1="862.2" x2="445.1" y2="848" stroke="#9A9A4A" stroke-width="1"/>
<line x1="440.6" y1="848" x2="449.6" y2="848" stroke="#9A9A4A" stroke-width="1.1"/>
<rect x="438.4" y="863.5" width="13.4" height="85.8" fill="none" stroke="#85851A" stroke-width="2.6"/>
<line x1="471" y1="852.8" x2="471" y2="841.4" stroke="#222222" stroke-width="1"/>
<line x1="466.5" y1="841.4" x2="475.5" y2="841.4" stroke="#222222" stroke-width="1.1"/>
<rect x="464.3" y="854.1" width="13.4" height="95.2" fill="none" stroke="#000000" stroke-width="2.6"/>
<path d="M326.9,804.1L326.9,949.3L488.3,949.3" stroke="#000" stroke-width="2" fill="none"/>
<line x1="319.9" y1="804.1" x2="326.9" y2="804.1" stroke="#000" stroke-width="2"/>
<g transform="matrix(1 0 0 1.14 317.4 808.61)">
<text x="0" y="0" font-family='"Liberation Serif", serif' font-size="11.7" font-weight="bold" fill="#000" text-anchor="end" stroke="#000" stroke-width="0.15">40000</text>
</g>
<line x1="319.9" y1="840.1" x2="326.9" y2="840.1" stroke="#000" stroke-width="2"/>
<g transform="matrix(1 0 0 1.14 317.4 844.61)">
<text x="0" y="0" font-family='"Liberation Serif", serif' font-size="11.7" font-weight="bold" fill="#000" text-anchor="end" stroke="#000" stroke-width="0.15">30000</text>
</g>
<line x1="319.9" y1="876.6" x2="326.9" y2="876.6" stroke="#000" stroke-width="2"/>
<g transform="matrix(1 0 0 1.14 317.4 881.11)">
<text x="0" y="0" font-family='"Liberation Serif", serif' font-size="11.7" font-weight="bold" fill="#000" text-anchor="end" stroke="#000" stroke-width="0.15">20000</text>
</g>
<line x1="319.9" y1="913" x2="326.9" y2="913" stroke="#000" stroke-width="2"/>
<g transform="matrix(1 0 0 1.14 317.4 917.51)">
<text x="0" y="0" font-family='"Liberation Serif", serif' font-size="11.7" font-weight="bold" fill="#000" text-anchor="end" stroke="#000" stroke-width="0.15">10000</text>
</g>
<line x1="319.9" y1="949.3" x2="326.9" y2="949.3" stroke="#000" stroke-width="2"/>
<g transform="matrix(1 0 0 1.14 317.4 953.81)">
<text x="0" y="0" font-family='"Liberation Serif", serif' font-size="11.7" font-weight="bold" fill="#000" text-anchor="end" stroke="#000" stroke-width="0.15">0</text>
</g>
<line x1="343.9" y1="949.3" x2="343.9" y2="956.3" stroke="#000" stroke-width="2"/>
<line x1="369.2" y1="949.3" x2="369.2" y2="956.3" stroke="#000" stroke-width="2"/>
<line x1="394.5" y1="949.3" x2="394.5" y2="956.3" stroke="#000" stroke-width="2"/>
<line x1="419.8" y1="949.3" x2="419.8" y2="956.3" stroke="#000" stroke-width="2"/>
<line x1="445.1" y1="949.3" x2="445.1" y2="956.3" stroke="#000" stroke-width="2"/>
<line x1="471" y1="949.3" x2="471" y2="956.3" stroke="#000" stroke-width="2"/>
<text x="348.9" y="963.8" font-family='"Liberation Sans", sans-serif' font-size="15" font-weight="bold" fill="#000" text-anchor="end" transform="rotate(-45 348.9 963.8)" stroke="#000" stroke-width="0.3">NC</text>
<text x="374.2" y="963.8" font-family='"Liberation Sans", sans-serif' font-size="15" font-weight="bold" fill="#000" text-anchor="end" transform="rotate(-45 374.2 963.8)" stroke="#000" stroke-width="0.3">MC</text>
<text x="399.5" y="963.8" font-family='"Liberation Sans", sans-serif' font-size="15" font-weight="bold" fill="#000" text-anchor="end" transform="rotate(-45 399.5 963.8)" stroke="#000" stroke-width="0.3">ALN</text>
<text x="424.8" y="963.8" font-family='"Liberation Sans", sans-serif' font-size="15" font-weight="bold" fill="#000" text-anchor="end" transform="rotate(-45 424.8 963.8)" stroke="#000" stroke-width="0.3">WSP-L</text>
<text x="450.1" y="963.8" font-family='"Liberation Sans", sans-serif' font-size="15" font-weight="bold" fill="#000" text-anchor="end" transform="rotate(-45 450.1 963.8)" stroke="#000" stroke-width="0.3">WSP-M</text>
<text x="476" y="963.8" font-family='"Liberation Sans", sans-serif' font-size="15" font-weight="bold" fill="#000" text-anchor="end" transform="rotate(-45 476 963.8)" stroke="#000" stroke-width="0.3">WSP-H</text>
<path d="M343.9,878.4L343.9,814L445.1,814L445.1,847.3" stroke="#444" stroke-width="1.2" fill="none"/>
<path d="M369.2,819.5L369.2,797.4L470.4,797.4L470.4,851.2" stroke="#444" stroke-width="1.2" fill="none"/>
<polygon points="347,812 355.19,812 351.09,806" fill="#000"/>
<polygon points="357.01,812 365.2,812 361.1,806" fill="#000"/>
<path d="M416.45,810L416.45,803.3M413.55,808.32L419.35,804.98M413.55,804.98L419.35,808.32" stroke="#222" stroke-width="1.35" fill="none"/>
<path d="M425.75,810L425.75,803.3M422.85,808.32L428.65,804.98M422.85,804.98L428.65,808.32" stroke="#222" stroke-width="1.35" fill="none"/>
<path d="M448.4,793.4L448.4,786.5M445.41,791.68L451.39,788.23M445.41,788.23L451.39,791.68" stroke="#222" stroke-width="1.35" fill="none"/>
<text x="272.5" y="879.9" font-family='"Liberation Serif", serif' font-size="17.325" font-weight="bold" fill="#000" text-anchor="middle" transform="rotate(-90 272.5 879.9)" dominant-baseline="central" stroke="#000" stroke-width="0.2">NRBC<tspan font-weight="normal" dx="7.8">(</tspan>%<tspan font-weight="normal" dx="5.2">)</tspan></text>
<text x="2" y="19" font-family='"Liberation Serif", serif' font-size="25" font-weight="bold" fill="#000" text-anchor="start">A</text>
<text x="5" y="255" font-family='"Liberation Serif", serif' font-size="25" font-weight="bold" fill="#000" text-anchor="start">B</text>
<text x="4" y="568.5" font-family='"Liberation Serif", serif' font-size="26.5" font-weight="bold" fill="#000" text-anchor="start">C</text>
<text x="5" y="997.5" font-family='"Liberation Serif", serif' font-size="25" font-weight="bold" fill="#000" text-anchor="start">D</text>
<text x="491" y="988" font-family='"Liberation Serif", serif' font-size="25" font-weight="bold" fill="#000" text-anchor="start">E</text>
<rect x="15.6" y="1047.3" width="153.8" height="114.1" fill="#7B7BEB"/>
<rect x="41.4" y="1049.6" width="102.4" height="110.2" fill="#FF8000"/>
<rect x="60" y="1076.2" width="51.9" height="55.6" fill="#00F000"/>
<polyline points="47.7,1059.4 49.35,1059.86 47.74,1059.84 48.23,1063.79 50.56,1061.55 53.35,1058.58 49.64,1059.92 52.17,1060.57 49.11,1062.35 48.91,1059.96 51.8,1058.53 53.96,1059.48 55.71,1060.35 58.58,1061.83 61.77,1062.38 63.8,1063.94 68.13,1064.25 69.62,1064.06 66.96,1065.09 68.32,1064.78 71.37,1065.35 75.39,1063.85 77.34,1062.83 78.72,1062.21 81.17,1064.1" fill="none" stroke="#D23C10" stroke-width="0.7"/>
<polyline points="81.17,1064.1 82.75,1064.01 85.79,1064.92 84.15,1063.96 85.74,1063.49 83.43,1069.56 80.34,1071.4 77.65,1074.87 75.12,1077.27 68.38,1079.05 64.83,1082.48 63.39,1085.57 60.43,1088.35 56.84,1088.97 53.41,1095.55 51.55,1093.03 53.18,1090.37 51.02,1087.22 50.37,1085.15 52.2,1082 50.75,1079.31 51.63,1081.41 51.23,1077.11 50.7,1075.02 51.64,1070.92" fill="none" stroke="#7A8E4E" stroke-width="0.7"/>
<polyline points="51.64,1070.92 52.12,1069.42 52.82,1066.14 51.66,1062.41 54.21,1064.23 57.14,1065.12 59.39,1065.58 60.6,1064.01 64.9,1063.81 66.68,1064.2 68.93,1063.97 71.7,1063.23 75.91,1062.62 77.47,1062.69 75.73,1061.65 78.2,1061.9 79.78,1062.79 82.45,1063.81 84.54,1064.56 88.11,1064.02 92.44,1063.62 94.03,1064.33 95.59,1064.41 94.06,1064.29 95.54,1064.49" fill="none" stroke="#C04A1E" stroke-width="0.7"/>
<polyline points="95.54,1064.49 98.86,1062 101.78,1061.46 104.07,1059.86 107.54,1058.69 109.08,1058.52 110.78,1058.56 111.98,1059.92 113.71,1059.16 115.62,1060.4 119.19,1060.86 120.89,1060.63 122.39,1061.53 124.9,1061.32 126.62,1060.55 125.27,1061.5 127.39,1062.57 129.1,1064.02 128.91,1066.08 131.49,1069.09 132,1072.05 132,1075.89 132,1078.39 132,1076.34 129.83,1079.1" fill="none" stroke="#5E8A6A" stroke-width="0.7"/>
<polyline points="129.83,1079.1 129.97,1081.06 127.61,1083.14 128.47,1085.56 124.73,1088.9 122.17,1092.05 118.82,1095.19 116.55,1097.29 112.99,1098.96 107.92,1099.62 102.29,1099.53 95.8,1100.21 92.18,1102.52 70.15,1102.14 61.13,1100.56 56.84,1096.96 54.28,1092.95 53.31,1088.82 52.13,1087.41 50.33,1090.03 51.27,1087.21 52.82,1092.96 52.77,1096.25 52.41,1102.16 51.96,1108.1" fill="none" stroke="#D23C10" stroke-width="0.7"/>
<polyline points="51.96,1108.1 47.82,1110.87 47.21,1115.75 45.7,1120.85 46.14,1119.18 45.7,1116.17 46.79,1112.76 46.61,1109.87 45.7,1106.07 48.1,1102.38 49.63,1100.89 51.01,1099.59 52.51,1096.82 52.47,1095.25 55.97,1092.62 61.79,1090.04 66.45,1086.26 69.76,1087.34 75.31,1089.2 79.46,1089.42 82.84,1086.34 88.08,1075.43 89.59,1069.09 93.58,1065.43 95.8,1063.72" fill="none" stroke="#7A8E4E" stroke-width="0.7"/>
<polyline points="95.8,1063.72 98.67,1064.46 102.32,1064.09 106.06,1063.58 104.71,1062.27 108.73,1063.76 111.7,1062.65 115.35,1060.53 117.14,1062.75 115.43,1063.25 118.31,1064.53 120.76,1063.69 123.12,1061.81 125.13,1060.68 127.9,1063.63 129.44,1059.74 131.76,1058.4 129.12,1061.94 128.98,1065.49 127.99,1069.15 130.82,1071.75 130.2,1074.08 129.56,1075.8 129.16,1078.43 131.01,1079.96" fill="none" stroke="#C04A1E" stroke-width="0.7"/>
<polyline points="131.01,1079.96 129.95,1083.97 127.28,1086.42 126.43,1089.04 125.46,1090.61 125.39,1092.6 125.69,1094.71 126.69,1096.63 126.71,1098.69 125.65,1100.03 126.65,1101.35 125.15,1104.2 125.88,1106.16 128.49,1108.49 129.34,1109.74 132,1113.16 130.47,1115.5 129.04,1117.01 131.09,1118.83 132,1119.91 132,1123.3 129.54,1125.58 130.3,1127.78 125.8,1125.82 123,1119.61" fill="none" stroke="#5E8A6A" stroke-width="0.7"/>
<polyline points="123,1119.61 119.58,1117.53 115.46,1114.74 113.75,1111.42 110.3,1106.57 106.76,1101.62 103.49,1098.81 99.42,1097.02 97.33,1094.44 91.57,1092.72 88.53,1091.54 83.4,1090.64 77.37,1087.24 74.22,1081.05 71.15,1079.73 66.33,1078.42 63.54,1074.54 59.29,1072.6 55.66,1068.21 51.98,1062.99 49.2,1060.88 45.93,1058.29 47.52,1057.4 50.89,1057.4 52.8,1059.74" fill="none" stroke="#D23C10" stroke-width="0.7"/>
<polyline points="52.8,1059.74 57.11,1060.96 60.58,1063.4 56.83,1064.57 60.82,1063.52 62.08,1064.11 64.36,1062.84 67.76,1063.43 69.71,1063.74 71.39,1063.64 73.11,1063.74 75.43,1063.36 78.45,1062.3 80.07,1063.86 81.38,1063.09 85.47,1062.39 82.06,1062.07 84.99,1061.38 86.31,1062.65 87.71,1063.8 89.64,1064.71 93.77,1063.64 96.92,1061.42 98.62,1062.56 100.45,1062.18" fill="none" stroke="#7A8E4E" stroke-width="0.7"/>
<polyline points="100.45,1062.18 101.68,1063.24 104.38,1060.27 107.75,1060.58 111.2,1060.12 108.3,1059.48 110.81,1060.87 108.62,1062.6 110.93,1060.1 113.59,1061.55 117.84,1060.6 120.16,1063.44 124.53,1063.38 125.87,1064.56 128.29,1067.99 130.08,1070.4 130.06,1072.85 127.56,1075.36 129.53,1077.73 129.21,1080.96 128.59,1083.57 128.23,1086.12 127.53,1087.61 125.52,1089.71 125.04,1088.41" fill="none" stroke="#C04A1E" stroke-width="0.7"/>
<polyline points="125.04,1088.41 124.9,1089.84 126.04,1090.83 127.59,1093.69 127.67,1095.59 125.7,1093.04 126.1,1095.3 127.37,1100.55 128.98,1105.26 130.89,1107.57 132,1110.08 130.77,1111.42 132,1113.76 131.28,1116.41 132,1118.8 132,1121.91 132,1124.44 132,1127.56 129,1130.68 127.87,1134.05 129.41,1138.05 131.77,1141.54 130.36,1143.07 131.24,1147.03 129.44,1149.57" fill="none" stroke="#5E8A6A" stroke-width="0.7"/>
<polyline points="129.44,1149.57 128.45,1150.79 126.13,1149.46 124.8,1150.35 121.16,1151.5 122.74,1151.5 120.87,1150.55 116.91,1149.34 114.72,1149.81 111.94,1147.27 109.09,1146.58 106.79,1145.96 105.61,1145.15 102.69,1144.56 101.31,1144.63 99.11,1146.96 96.77,1146.64 93.29,1148.04 97.02,1149.4 94.95,1147.17 93.4,1145.61 90.77,1144.87 88.89,1146.49 86.05,1144.78 83.7,1145.42" fill="none" stroke="#D23C10" stroke-width="0.7"/>
<polyline points="83.7,1145.42 80.01,1147.9 77.44,1149.94 75.27,1151.5 72.12,1151.5 70.14,1151.5 67.3,1150.45 64.51,1148.59 61.47,1147.3 57.51,1149.14 55.84,1150.15 54.16,1150.88 52.63,1150.98 51.08,1149.16 49.68,1150.89 47.37,1148.33 48.49,1144.35 47.54,1142.55 49.01,1138.63 46.67,1135.34 46.78,1131.85 46.31,1130.39 45.7,1128.68 47.22,1127.24 47.06,1125.13" fill="none" stroke="#7A8E4E" stroke-width="0.7"/>
<polyline points="47.06,1125.13 46.47,1122.67 45.7,1120.11 46.4,1116.77 49.34,1119.83 49.6,1118.02 52.33,1115.06 52.61,1113.84 52.92,1110.2 53.4,1106.99 53.33,1103.91 51.64,1100.71 52.14,1097.92 51.26,1094.57 48.42,1091.49 46.25,1089.15 46.39,1086.61 45.7,1085.13 46.27,1081.1 45.7,1078.76 47.17,1074.58 47.47,1071.18 45.7,1068.27 46.28,1072.21 46.16,1067.99" fill="none" stroke="#C04A1E" stroke-width="0.7"/>
<polyline points="46.16,1067.99 46.82,1064.35 46.81,1061.96 47.45,1060.02 48.84,1059.17 50.36,1060.11 52.08,1058.83 49.65,1058.12 51.39,1059.71 49,1060.66 50.99,1062.23 47.89,1064.15 45.7,1060.84 47.67,1058.29 45.7,1057.4 48.32,1057.61 52.21,1058.98 54.18,1059.44 55.97,1059.18 57.9,1057.71 59.25,1057.4 63.45,1058 66.64,1060.1 68.31,1059.81 70.51,1062.51" fill="none" stroke="#5E8A6A" stroke-width="0.7"/>
<polyline points="70.51,1062.51 72.25,1062.66 74.96,1063.29 71.71,1066.94 67.43,1070.03 61.92,1072.35 57.47,1071.94 51.84,1073.22 48.63,1078.34 45.7,1078.71 48.44,1075.47 46.17,1078.22 46.96,1073.91 45.7,1069.8 47.08,1068.57 46.92,1064.74 46.23,1062.5 47.94,1059.68 49.78,1059.04 51.25,1060.74 53.78,1059.42 57.26,1057.4 59.04,1057.4 62.61,1057.4 65.24,1058.83" fill="none" stroke="#D23C10" stroke-width="0.7"/>
<polyline points="65.24,1058.83 67.88,1058.76 69.45,1060.62 71.8,1062.88 73.56,1065.61 76.09,1070.02 79.91,1075.07 82.5,1079.38 84.77,1082.49 88.77,1087.25 90.75,1092.18 92.22,1098.12 90.88,1101.87 89.98,1106.77 109.56,1109.97 117.52,1108.47 122.47,1110.04 124.07,1112.16 124.88,1108.89 126.16,1113.19 125.66,1109.67 124.5,1112.77 124.93,1114.42 127,1112.23 127.51,1114.37" fill="none" stroke="#7A8E4E" stroke-width="0.7"/>
<polyline points="127.51,1114.37 126.31,1115.55 127.6,1118.31 127.65,1120.11 126.24,1123.06 126.37,1125.67 126.79,1129.57 127.03,1133.8 129.34,1136.23 127.24,1140.07 125.09,1136.88 125.25,1134.46 124.72,1136.61 127.14,1138.72 127.9,1140.38 127.82,1143.77 127.39,1147.76 125.54,1145.66 122.84,1146.2 121.58,1145.12 118.76,1145.28 116.36,1146.25 112.98,1148.44 109.06,1147.72 107.25,1146.8" fill="none" stroke="#C04A1E" stroke-width="0.7"/>
<polyline points="107.25,1146.8 105.23,1146.33 101.21,1146.19 98.95,1146.82 96.93,1148.66 94.07,1150.05 90.03,1149.5 88.89,1148.22 86.06,1145.63 84.27,1144.78 82.7,1145.22 80.23,1147.48 79.16,1146.34 75.51,1148.01 72.97,1148.27 69.72,1148.48 72.13,1150.47 69.45,1150.65 66.35,1149.53 64.56,1151.4 60.83,1149.87 58.27,1150.73 60.7,1151.5 59.53,1151.5 57.45,1150.85" fill="none" stroke="#5E8A6A" stroke-width="0.7"/>
<polyline points="57.45,1150.85 55.82,1150.98 53.05,1151.5 49.75,1150.75 50.94,1149.78 52.87,1149.24 49.82,1146.35 51.75,1144.34 52.82,1141.97 52.76,1139.83 51.48,1137.5 50.46,1134.74 48.8,1132.09 46.31,1128.51 47.66,1126.84 48.14,1124.34 49.59,1122.23 52.01,1119.98 50.74,1118.3 48.03,1115.27 46.66,1112.16 46.37,1110.38 45.7,1108.3 45.7,1105.19 46.5,1102.97" fill="none" stroke="#D23C10" stroke-width="0.7"/>
<polyline points="46.5,1102.97 47.09,1099.58 52.05,1098.18 56.65,1099.31 60.5,1098.52 64.69,1099.58 69.74,1101.57 73.72,1099.93 79.87,1102.23 82.85,1103.1 88.8,1100.28 93.61,1098.46 98.81,1096.72 105.02,1095.67 109.7,1096.31 112.81,1095.76 117.62,1095.98 120.17,1093.92 124.56,1092.42 130.12,1093.02 132,1094.86 132,1098.6 130.74,1102.12 132,1103.88 132,1106.24" fill="none" stroke="#7A8E4E" stroke-width="0.7"/>
<polyline points="132,1106.24 129.45,1108.48 131.55,1112.1 132,1114.53 131.48,1115.98 128.38,1117.34 126.19,1119.57 121.23,1123.08 114.87,1124.36 109.85,1123.74 106.85,1126.06 103.33,1126.7 98.47,1128.03 96.07,1130.31 91.2,1129.38 86.74,1130.94 81.14,1130.95 75.89,1131.8 72.95,1134.44 70.29,1136.08 63.94,1137.18 60.71,1136.84 56.64,1140.53 53.83,1143.21 47.85,1144.19" fill="none" stroke="#C04A1E" stroke-width="0.7"/>
<polyline points="47.85,1144.19 45.7,1144.92 45.7,1142.25 45.7,1139.51 46.99,1138.4 47.41,1135.69 45.7,1133.01 45.7,1130.39 47.25,1128.42 46.66,1124.22 45.89,1121.53 45.7,1119.84 47.27,1117.09 46.09,1114.76 46.44,1112.4 47.78,1108.28 47.3,1103.84 45.7,1100.91 47.26,1097.45 46.34,1096.21 47.39,1094.28 45.7,1091.26 45.7,1088.15 45.7,1085.62 46.64,1081.64" fill="none" stroke="#5E8A6A" stroke-width="0.7"/>
<polyline points="46.64,1081.64 48.47,1078.58 48.17,1074.09 46.6,1072.31 45.7,1069.22 45.7,1065.47 46.02,1062.1 45.7,1059.46 48.87,1058.87 52.91,1060.03 57.06,1061.56 59.29,1062.77 61.38,1064.39 65.57,1063.23 69.35,1063.98 71.37,1064.02 73.97,1064.42 76.62,1064.79 78.65,1063.57 81.18,1061.29 84.13,1061.22 86.83,1059.12 89.03,1059.47 91.5,1061.99 93.73,1063.47" fill="none" stroke="#D23C10" stroke-width="0.7"/>
<polyline points="93.73,1063.47 95.62,1061.2 97.34,1060.56 99.66,1058.94 101.65,1057.4 105.2,1057.4 107.21,1059.57 108.96,1057.99 112.2,1059.2 113.96,1057.4 118.15,1057.59 121.3,1057.4 123.42,1057.4 125.28,1058.69 128.54,1061.78 129.05,1065.44 128.62,1067.32 129.4,1071.68 129.77,1073.24 129.73,1075.17 128.64,1076.46 126.4,1079.99 122.44,1083.44 119.82,1086.17 117.74,1089.93" fill="none" stroke="#7A8E4E" stroke-width="0.7"/>
<polyline points="117.74,1089.93 112.34,1094.2 106.03,1095.6 99.3,1096.87 94.1,1100.32 91.8,1105.54 88.27,1107.78 82.69,1111.7 78.47,1115.36 75.72,1118.76 72.73,1119.63 69.71,1124.48 67.14,1126.62 63.15,1128.68 59.27,1131.26 55.12,1134.49 52.72,1136.98 49.08,1142.44 45.7,1142.3 45.7,1140.69 45.91,1138.52 46.19,1136.8 48.11,1134.3 45.7,1130.86 45.7,1128.89" fill="none" stroke="#C04A1E" stroke-width="0.7"/>
<polyline points="45.7,1128.89 46.61,1127.2 46.26,1125.7 47.27,1123.11 49.25,1120.61 47.15,1117.52 48.42,1113.76 51.06,1111.22 48.99,1108.85 49.69,1106.7 49.96,1104.88 48.26,1102.21 47.85,1100.32 49.16,1096.63 47.39,1094.19 45.87,1092.82 45.7,1089.95 45.7,1085.91 45.7,1082.26 45.7,1079.45 45.7,1077.41 46.96,1076.36 46.03,1074.23 46.25,1069.86 48.18,1066.23" fill="none" stroke="#5E8A6A" stroke-width="0.7"/>
<polyline points="48.18,1066.23 48.8,1063.71 51.49,1060.33 54.24,1061.6 55.9,1061.32 58.5,1061.23 59.7,1060.3 62.09,1060.6 65.55,1059.35 69.64,1058.15 74.06,1058.79 78.13,1058.26 80.22,1057.4 82.23,1058.18 84.96,1060.27 87.18,1062.72 89.15,1063.85 91.82,1064.69 94.92,1064.79 96.53,1063.86 99.38,1062.98 102.12,1059.7 104.45,1057.4 102.88,1058.52 105.96,1058.09" fill="none" stroke="#D23C10" stroke-width="0.7"/>
<polyline points="105.96,1058.09 109.14,1059.01 112.43,1057.48 116.02,1057.4 120.34,1057.58" fill="none" stroke="#7A8E4E" stroke-width="0.7"/>
<circle cx="43.77" cy="1059.21" r="0.9" fill="#3C5AB8"/>
<circle cx="48.94" cy="1061.59" r="0.9" fill="#3C5AB8"/>
<circle cx="46.6" cy="1063.32" r="0.9" fill="#3C5AB8"/>
<circle cx="45.53" cy="1061.45" r="0.9" fill="#3C5AB8"/>
<circle cx="44.42" cy="1055.62" r="0.9" fill="#3C5AB8"/>
<circle cx="44.77" cy="1055.88" r="0.9" fill="#3C5AB8"/>
<circle cx="130.01" cy="1059.84" r="0.9" fill="#3C5AB8"/>
<circle cx="127.45" cy="1062.92" r="0.9" fill="#3C5AB8"/>
<circle cx="128.92" cy="1056.59" r="0.9" fill="#3C5AB8"/>
<circle cx="127.42" cy="1061.3" r="0.9" fill="#3C5AB8"/>
<circle cx="133.37" cy="1056.7" r="0.9" fill="#3C5AB8"/>
<circle cx="126.23" cy="1061.62" r="0.9" fill="#3C5AB8"/>
<circle cx="127.94" cy="1153.36" r="0.9" fill="#3C5AB8"/>
<circle cx="129.99" cy="1150.59" r="0.9" fill="#3C5AB8"/>
<circle cx="128.75" cy="1151.9" r="0.9" fill="#3C5AB8"/>
<circle cx="129.68" cy="1148.09" r="0.9" fill="#3C5AB8"/>
<circle cx="133.23" cy="1146.36" r="0.9" fill="#3C5AB8"/>
<circle cx="131.87" cy="1146.02" r="0.9" fill="#3C5AB8"/>
<circle cx="48.86" cy="1148.71" r="0.9" fill="#3C5AB8"/>
<circle cx="50.61" cy="1145.98" r="0.9" fill="#3C5AB8"/>
<circle cx="48.21" cy="1148.78" r="0.9" fill="#3C5AB8"/>
<circle cx="51.05" cy="1153.06" r="0.9" fill="#3C5AB8"/>
<circle cx="48.72" cy="1147.29" r="0.9" fill="#3C5AB8"/>
<circle cx="45.72" cy="1147.6" r="0.9" fill="#3C5AB8"/>
<text x="20.6" y="1063.3" font-family='"Liberation Serif", serif' font-size="15.5" font-weight="bold" fill="#000" text-anchor="start">NC</text>
<rect x="180.3" y="1049.5" width="153.7" height="113.1" fill="#7B7BEB"/>
<rect x="206.5" y="1050.5" width="100.9" height="110.1" fill="#FF8000"/>
<rect x="236.7" y="1070" width="51.3" height="56.3" fill="#00F000"/>
<polyline points="219.5,1055 222.75,1053.08 225.55,1053 227.36,1054.42 229.67,1053.47 232.58,1053 234.22,1054.35 235.85,1055.6 237.32,1055.04 240.01,1053 241.51,1053 244.17,1055.5 245.64,1053.85 247.67,1053 244.77,1056.4 247.06,1054.53 248.9,1055.17 250.86,1053.52 252.93,1053 255.05,1053.94 252.99,1056.16 254.48,1055.78 257.61,1056.03 260.47,1058.31 262.22,1059.65" fill="none" stroke="#D23C10" stroke-width="0.7"/>
<polyline points="262.22,1059.65 261.28,1058.47 264.29,1057.05 267.39,1054.48 269.86,1053 272.3,1053.22 274.74,1055.02 277.75,1053.46 280.77,1053 283.98,1053 287.84,1053 290.76,1053.12 293.83,1053.28 295.63,1053 299.11,1055.32 302.37,1057.55 304.06,1059.49 304.21,1061.25 303.23,1063.92 302.35,1065.66 303.54,1067.99 301.89,1065.23 302.87,1067.5 305.16,1070.03 303.47,1072.93" fill="none" stroke="#7A8E4E" stroke-width="0.7"/>
<polyline points="303.47,1072.93 304.33,1076.47 302.98,1078.63 301.54,1080.13 302.34,1083.54 303,1086.54 302.3,1087.95 300.72,1090.2 301.04,1093.16 299.92,1096.7 299.55,1100.49 302.28,1103.35 302.08,1105.01 302.14,1106.67 299.27,1109.14 299.36,1110.66 300.11,1112.79 300.06,1115.55 298.73,1119.04 299.2,1116.42 300.13,1120.21 299.97,1121.86 300.49,1125.01 301.82,1128.39 302.17,1132.68" fill="none" stroke="#C04A1E" stroke-width="0.7"/>
<polyline points="302.17,1132.68 304.17,1134.64 305.5,1137 305.07,1140.88 302.9,1139.89 302,1135.74 304.13,1131.94 305.5,1135.76 305.5,1134.24 305.14,1136.67 305.5,1140.49 303.22,1139.1 304.72,1141.85 301.85,1143.5 298.53,1143.5 296.16,1143.39 291.87,1143.41 288.79,1142.87 285.73,1140.24 283.53,1142.7 281.94,1142.24 280.1,1141.38 281.88,1141.57 279.03,1141.08 276.46,1143.36" fill="none" stroke="#5E8A6A" stroke-width="0.7"/>
<polyline points="276.46,1143.36 273.93,1143.5 272.18,1141.72 270.23,1141.79 267.93,1143.5 265.37,1143.5 263.29,1143.5 259.12,1143.49 255.25,1143.5 251.93,1143.5 254.93,1142.92 252.56,1143.5 249.39,1141.72 248.35,1140.48 246.21,1139.13 243.46,1142.46 246.78,1140.82 245.11,1142.08 242.69,1139.06 239.9,1137.02 236.76,1136.14 234.85,1137.08 233.13,1136.88 230.34,1135.95 227.57,1136.5" fill="none" stroke="#D23C10" stroke-width="0.7"/>
<polyline points="227.57,1136.5 224.6,1135.01 224.71,1133.73 222.98,1130.11 221.62,1127.46 222.61,1124.97 223.75,1120.88 222.67,1124.74 224.19,1121.55 225.11,1124.56 224.21,1122.06 224.11,1119.74 223.62,1116.27 220.71,1113.58 220.17,1111.47 221.92,1109.44 221.98,1104.97 220.22,1102.44 224.13,1103.26 227.42,1102.37 233.85,1101.99 238.34,1101.52 244.6,1103.53 247.9,1103.53 252.67,1103.28" fill="none" stroke="#7A8E4E" stroke-width="0.7"/>
<polyline points="252.67,1103.28 256.96,1104.47 262.47,1104.08 267.2,1102.2 273.82,1101.8 278.1,1100.57 281.26,1101.21 287,1101.12 291.38,1099.19 297.75,1097.58 302.56,1094 305.21,1097.46 304.98,1099.09 304.39,1101.35 305.02,1105.74 304.2,1108.25 303.41,1110.45 301.26,1113.68 300.02,1115.23 301.74,1116.89 300.22,1118.28 301.49,1120.38 302,1122.99 300.08,1125.1 299.2,1127.25" fill="none" stroke="#C04A1E" stroke-width="0.7"/>
<polyline points="299.2,1127.25 299.44,1130.42 300.46,1132.8 301.72,1135.95 304.64,1138.65 305.5,1140.68 301.97,1140.56 300.12,1142.12 296.64,1141.26 294.35,1140.2 292.37,1140.74 288.87,1140.61 286.92,1142.54 283.83,1141.58 280.13,1143.18 277.29,1143.5 274.12,1140.74 270.13,1139.65 267.02,1138.45 265.08,1137.34 269.29,1138.71 266.41,1141.51 264.55,1142.92 263.18,1142.07 260.72,1141.49" fill="none" stroke="#5E8A6A" stroke-width="0.7"/>
<polyline points="260.72,1141.49 257.33,1143.37 254.69,1141.73 252.7,1143.5 249.71,1142.22 247.56,1141.87 243.81,1139.59 241.71,1141.64 239.05,1140.59 237.12,1141.38 235.04,1141.61 231.46,1141.22 228.51,1138.15 227.02,1139.65 223.89,1138.33 219.54,1137.27 218.46,1133.22 219.74,1134.71 222.36,1131.84 221.23,1130.41 220.1,1128.45 221.7,1124.42 220.89,1120.57 222.49,1123.41 223.71,1120.89" fill="none" stroke="#D23C10" stroke-width="0.7"/>
<polyline points="223.71,1120.89 223.66,1119.18 224.52,1116.91 224.89,1114.94 223.54,1113.3 223.96,1109.78 221.87,1107.76 222.7,1105.71 222.6,1103.78 221.03,1102.22 223,1098.77 221.68,1097.57 220.47,1096.46 218.77,1093.38 220.34,1091.71 217.5,1088.37 217.5,1085.88 220.24,1082.63 218.7,1087.78 217.5,1090.82 219.73,1095.49 217.8,1099.66 217.5,1097.04 217.5,1099.09 217.71,1096.54" fill="none" stroke="#7A8E4E" stroke-width="0.7"/>
<polyline points="217.71,1096.54 220.09,1093.27 220.98,1091.54 221.69,1090.19 222.23,1087.18 223.35,1083.08 224.78,1080.13 224.96,1077.87 224.04,1074.27 223.49,1072.58 224.08,1068.44 225.25,1066.08 223.54,1064.65 222.39,1061.02 223.95,1058.35 227.14,1057.24 228.47,1058.71 232.77,1059 236.92,1059.74 238.07,1059.88 239.36,1060.23 242.88,1060.24 245.24,1057.56 248.4,1058.39 250.67,1059.11" fill="none" stroke="#C04A1E" stroke-width="0.7"/>
<polyline points="250.67,1059.11 248.8,1059.29 250.99,1059.53 248.43,1059.74 251.64,1056.88 254.28,1053.89 257.29,1055.72 258.76,1057.03 260.72,1057.61 264.1,1056.89 261.49,1059.5 265.05,1058.61 267.39,1057.49 269.42,1058.68 271.25,1057.69 274.07,1058.42 275.88,1059.34 272.26,1059.3 274.08,1058.09 271.27,1058.81 272.82,1057.29 276.27,1059.5 278.49,1059.3 280.01,1058.44 283.69,1058.18" fill="none" stroke="#5E8A6A" stroke-width="0.7"/>
<polyline points="283.69,1058.18 286.7,1056.41 288.74,1056.34 290.31,1056.39 292.51,1056.53 294.37,1057.05 298.07,1058.76 299.9,1057.58 301.47,1056.11 298.29,1058.08 301.77,1057.46 303.13,1060.06 303.19,1064.54 305.49,1068.4 305.5,1070.98 305.5,1072.7 305.5,1074.76 304.79,1076.54 305.5,1078.08 304.43,1079.37 304.66,1082.08 302.02,1085.57 302.3,1087.2 301.42,1085 301.86,1088.05" fill="none" stroke="#D23C10" stroke-width="0.7"/>
<polyline points="301.86,1088.05 301.04,1090.98 300.43,1094.83 301.34,1096.3 303.28,1099.31 303.13,1102.84 302.48,1105.68 304.74,1107.54 304.21,1109.51 305.5,1111.98 302.4,1114.82 303.27,1118.19 304.4,1120.2 304.64,1121.91 304.29,1124.45 304.34,1126.01 301.53,1128.56 300.66,1132.07 301.46,1134.2 299.03,1137.53 302.7,1137.76 300.71,1134.78 298.5,1132.63 291.81,1133.49 289.25,1130.97" fill="none" stroke="#7A8E4E" stroke-width="0.7"/>
<polyline points="289.25,1130.97 284.19,1130.41 279.55,1129.89 275.69,1128.73 272.38,1129.16 269.01,1129.09 263.99,1126.22 257.87,1125.43 254.45,1122.71 250.95,1121.37 247.32,1117.58 244.01,1119.04 231.99,1116.18 226.83,1112.75 224.21,1109.67 223.38,1108.09 222.12,1106.44 221.1,1104.41 221.73,1102.94 222.62,1099.48 221.38,1097.38 219.58,1094.02 222.43,1091.39 220.05,1089.07 217.52,1085.59" fill="none" stroke="#C04A1E" stroke-width="0.7"/>
<polyline points="217.52,1085.59 217.5,1083.25 217.7,1079.43 217.63,1077.18 217.5,1073.54 220.49,1070.45 221.06,1068.19 222.33,1066.79 221.73,1065.2 221.53,1063.45 219.82,1061.82 221.21,1063.24 220.08,1061.57 218.68,1059.83 220.44,1056.04 222.36,1057.42 224.08,1058.19 227.08,1055.63 231.54,1055.38 233.46,1054.74 237.38,1054.16 239.79,1053 241.5,1054.8 243.87,1053.74 245.53,1053" fill="none" stroke="#5E8A6A" stroke-width="0.7"/>
<polyline points="245.53,1053 248.42,1055.42 252.24,1057.75 254.15,1058.95 256.61,1057.04 260.49,1055.93 263.93,1053.32 265.51,1053.77 268.02,1053.57 269.7,1054.89 268.2,1055.38 265.55,1057.99 269.28,1059.62 271.49,1060.26 275.37,1058.89 277.91,1059.8 279.94,1059.71 281.7,1059.68 285.32,1059.12 288.57,1060.11 290.41,1060.11 293.04,1059.4 295.1,1058.17 297.76,1056.49 301.26,1053.87" fill="none" stroke="#D23C10" stroke-width="0.7"/>
<polyline points="301.26,1053.87 303.02,1054.91 299.57,1057.14 300.93,1056.35 304.21,1059.23 304,1061.15 304.45,1064.42 304.38,1067.33 302.96,1070.79 304.78,1073.55 303.33,1077.01 304.93,1080.69 305.11,1082.44 304.51,1084.27 302.55,1085.83 304.11,1088.07 304.96,1089.61 305.5,1092.08 305.5,1096.42 305.5,1098.03 303.48,1099.83 302.58,1102.35 302.38,1103.86 303.26,1107.13 304.38,1110.09" fill="none" stroke="#7A8E4E" stroke-width="0.7"/>
<polyline points="304.38,1110.09 302.98,1111.43 301.35,1114.26 301.11,1116.96 300.29,1118.31 301.31,1122.37 299.21,1124.82 298.98,1128.6 300.02,1132.71 299.22,1134.37 302.01,1137.12 300.48,1133.75 298.85,1135.93 299.1,1138 297.36,1138.36 293,1137.59 295.36,1136.17 292.56,1137.98 288.27,1139.08 284.35,1141.13 282.64,1142.25 280.48,1143.5 277.68,1141.89 275.21,1141.43 271.83,1138.87" fill="none" stroke="#C04A1E" stroke-width="0.7"/>
<polyline points="271.83,1138.87 268.33,1139.62 265.68,1138.12 262.22,1138.66 257.9,1139.38 255.5,1138.87 252.16,1137.22 249.84,1136.95 246.51,1139.3 243.38,1142.23 239.19,1141.67 236.37,1143.5 238.59,1143.5 236.86,1143.03 233.84,1143.5 230.71,1140.28 227.5,1138.29 223.22,1139.06 220.38,1141.17 218.38,1138.03 217.89,1135.84 217.5,1132.86 217.5,1129.21 217.5,1127.59 217.5,1125.08" fill="none" stroke="#5E8A6A" stroke-width="0.7"/>
<polyline points="217.5,1125.08 217.5,1121.23 217.5,1117.53 219.09,1114.54 218.91,1112.75 220.11,1109.21 223.27,1106.34 223.51,1103.64 223.49,1101.33 224.24,1098.42 223.2,1094.17 224.34,1092.39 224.39,1094.01 224.19,1089.69 224.22,1086.65 223.4,1083.44 221.43,1079.48 219.91,1076.87 220.97,1073.48 222.12,1070.03 225.19,1074.31 228.89,1077.16 228.82,1082.52 229.12,1085.56 231.62,1088.31" fill="none" stroke="#D23C10" stroke-width="0.7"/>
<polyline points="231.62,1088.31 231.92,1091.7 231.96,1095.77 232.43,1100.81 236.81,1106.1 239.98,1110.94 244.94,1114.87 244.57,1118.29 245.34,1122.3 248.65,1125.28 250.21,1131.92 250.27,1138.89 255.23,1141.51 252.67,1141.28 254.26,1140.15 251.79,1141.88 248.7,1142.37" fill="none" stroke="#7A8E4E" stroke-width="0.7"/>
<circle cx="215.96" cy="1054.38" r="0.9" fill="#3C5AB8"/>
<circle cx="217.39" cy="1057.05" r="0.9" fill="#3C5AB8"/>
<circle cx="217.44" cy="1057.59" r="0.9" fill="#3C5AB8"/>
<circle cx="217.43" cy="1051.74" r="0.9" fill="#3C5AB8"/>
<circle cx="219.32" cy="1054.1" r="0.9" fill="#3C5AB8"/>
<circle cx="218.18" cy="1057.12" r="0.9" fill="#3C5AB8"/>
<circle cx="301.28" cy="1056.36" r="0.9" fill="#3C5AB8"/>
<circle cx="306.18" cy="1054.62" r="0.9" fill="#3C5AB8"/>
<circle cx="303.52" cy="1058.39" r="0.9" fill="#3C5AB8"/>
<circle cx="304.33" cy="1052.45" r="0.9" fill="#3C5AB8"/>
<circle cx="300.06" cy="1051.66" r="0.9" fill="#3C5AB8"/>
<circle cx="302.15" cy="1051.71" r="0.9" fill="#3C5AB8"/>
<circle cx="304.69" cy="1140.89" r="0.9" fill="#3C5AB8"/>
<circle cx="301.97" cy="1141.6" r="0.9" fill="#3C5AB8"/>
<circle cx="306.99" cy="1139.46" r="0.9" fill="#3C5AB8"/>
<circle cx="300.74" cy="1139.94" r="0.9" fill="#3C5AB8"/>
<circle cx="302.09" cy="1144.78" r="0.9" fill="#3C5AB8"/>
<circle cx="305.15" cy="1140.93" r="0.9" fill="#3C5AB8"/>
<circle cx="216.83" cy="1137.86" r="0.9" fill="#3C5AB8"/>
<circle cx="216.48" cy="1144.28" r="0.9" fill="#3C5AB8"/>
<circle cx="220.68" cy="1138.75" r="0.9" fill="#3C5AB8"/>
<circle cx="220.5" cy="1137.97" r="0.9" fill="#3C5AB8"/>
<circle cx="219.56" cy="1140.18" r="0.9" fill="#3C5AB8"/>
<circle cx="216.32" cy="1143.44" r="0.9" fill="#3C5AB8"/>
<text x="182.3" y="1067" font-family='"Liberation Serif", serif' font-size="15.5" font-weight="bold" fill="#000" text-anchor="start">MC</text>
<rect x="345.8" y="1050.5" width="154.2" height="112.5" fill="#7B7BEB"/>
<rect x="371.4" y="1051.5" width="102.6" height="110.5" fill="#FF8000"/>
<rect x="390.4" y="1073.5" width="51.2" height="54.9" fill="#00F000"/>
<polyline points="379,1055.5 381,1055.54 384.12,1053.5 389.77,1054.57 391.44,1058.58 396.75,1060.6 401.01,1062.35 403.77,1066.18 406.88,1067.21 411.33,1072.57 412.29,1064.41 414.37,1061.93 418.38,1059.93 416.5,1059.74 420.88,1059.93 422.46,1060.19 424.8,1060.34 428.88,1058.61 425.12,1056.99 426.83,1057.69 427.85,1056.42 429.38,1058.34 431.97,1059.91 434.18,1060.86 436.69,1060.14" fill="none" stroke="#D23C10" stroke-width="0.7"/>
<polyline points="436.69,1060.14 438.83,1059.99 441.59,1059.76 445.09,1058.26 447.34,1058.33 449.65,1057.8 452.13,1059.4 454.47,1058.79 456.41,1059.58 459.8,1060.55 460.47,1062.09 460.31,1065.6 461.49,1067.82 460.26,1070.51 458.7,1074.4 459,1077.15 460.07,1078.81 458.59,1080.81 458.86,1082.87 460.73,1080.76 461.39,1082.18 460.53,1078.49 460.07,1080.51 459.6,1082.84 458.12,1084.47" fill="none" stroke="#7A8E4E" stroke-width="0.7"/>
<polyline points="458.12,1084.47 458.63,1086 458.07,1088.98 458.46,1091.54 460.29,1095.17 460.65,1096.74 462.19,1100.25 463,1102.08 461.07,1105.62 462.56,1107.34 463,1109.48 461.25,1107.55 462.58,1110.9 463,1113.41 463,1116.99 462.73,1119.33 463,1121.12 463,1123.49 461.11,1125.24 460.28,1127.96 460.58,1131.94 462.2,1133.37 461.27,1136.21 460.35,1139.67 462.38,1142.32" fill="none" stroke="#C04A1E" stroke-width="0.7"/>
<polyline points="462.38,1142.32 463,1145.3 461.67,1147 457.92,1146.2 455.27,1144.41 452.64,1141.44 449.77,1144.64 446.08,1146.28 444.53,1146.23 441.61,1145.19 440.1,1145.65 441.91,1146.06 438.85,1143.17 434.98,1143.58 431.85,1141.62 428.52,1141.31 424.67,1141.56 421.23,1142.99 419.09,1143.4 416.15,1144.11 412.41,1142.35 409.24,1140.97 405.78,1143.45 403.96,1142.42 402.23,1143.97" fill="none" stroke="#5E8A6A" stroke-width="0.7"/>
<polyline points="402.23,1143.97 400.1,1143.66 396.49,1145.38 394.66,1144.95 391.59,1143.21 390.17,1141.71 388.42,1142.98 391.14,1141.24 388.15,1141.56 386.76,1142.4 384.62,1142.25 381.78,1143.76 379.34,1146.18 378.7,1144.49 377.08,1142.95 377.12,1145.2 378.94,1142.01 379.49,1143.75 381.15,1142.42 380.47,1138.18 378.28,1140.28 379.92,1137.85 379.35,1134.42 377.94,1131.58 380.75,1128.14" fill="none" stroke="#D23C10" stroke-width="0.7"/>
<polyline points="380.75,1128.14 381.7,1124.23 383.04,1120.81 383.5,1117.47 383.47,1115 382.02,1111.41 382.99,1109.84 380.22,1107.43 380.23,1104.68 378.68,1100.56 380.52,1098.93 379.8,1095.23 380.18,1099.33 379.41,1097.53 380.86,1095.86 381.29,1100.09 381.91,1098.52 382.5,1097.07 381.01,1095.82 382.6,1098.42 382.27,1096.19 379.55,1093.64 379.01,1090.39 377.9,1093.45 377,1091.08" fill="none" stroke="#7A8E4E" stroke-width="0.7"/>
<polyline points="377,1091.08 377,1088.9 377,1086.72 377.03,1083.06 377,1078.98 378.63,1077.39 377,1073.52 377.18,1071.79 377.61,1069.76 377,1067.16 377.54,1065.62 377,1062.9 378.45,1059.77 378.5,1057.7 380.65,1053.77 383.98,1053.5 387.39,1055.84 389.83,1055.73 393.12,1058.06 395.24,1058.32 397.25,1059.15 399.4,1058.35 400.91,1058.02 399.43,1056.41 396.41,1055.21" fill="none" stroke="#C04A1E" stroke-width="0.7"/>
<polyline points="396.41,1055.21 398.15,1057.17 401.3,1054.64 404.35,1056.54 406.88,1054.72 409.88,1055.9 414.07,1056.66 418.15,1055.34 422.15,1056.9 424.86,1059.56 426.59,1058.97 429.78,1057.41 427.28,1057.44 431.14,1057.06 432.58,1056.11 436.89,1055.42 439.74,1056.99 443.12,1056.35 444.44,1057.99 442.51,1059.74 445.19,1061.11 446.88,1059.07 449.1,1056.87 451.89,1054.44 454.43,1053.5" fill="none" stroke="#5E8A6A" stroke-width="0.7"/>
<polyline points="454.43,1053.5 455.89,1054.23 459.81,1053.5 462.25,1055.62 461.73,1058.06 461.23,1062.27 463,1064.17 460.48,1066.41 460.27,1070.02 459.21,1071.33 458.07,1073.23 457.9,1076.54 456.05,1079.16 456.78,1081.65 455.87,1085.44 455.73,1086.85 455.78,1088.06 455.76,1084.68 456.37,1086.61 458.48,1090.38 460.92,1087.24 459.31,1090.24 460.54,1094.05 459.22,1097.88 459.07,1099.78" fill="none" stroke="#D23C10" stroke-width="0.7"/>
<polyline points="459.07,1099.78 460.68,1102.99 459.56,1105.14 459.8,1109.08 458.54,1110.61 460.89,1113.21 459.2,1115.35 460.93,1118.8 460.72,1122.39 462.14,1125.83 460.06,1128.54 458.04,1130.54 459,1132.6 458.09,1134.35 458.18,1136.99 458.59,1138.82 456.19,1141.33 453.55,1142.39 450.37,1140.27 446.97,1142.85 442.55,1143.54 440.35,1142.12 437.62,1142.27 436.01,1141.56 432.82,1142.05" fill="none" stroke="#7A8E4E" stroke-width="0.7"/>
<polyline points="432.82,1142.05 430.29,1141.44 427.48,1141.01 425.49,1141.31 422.72,1141.09 418.3,1141.52 420.38,1140.53 416.96,1142.29 415.34,1142.19 412.85,1141.31 411.25,1141.9 409.82,1142.68 407.54,1142.15 404.23,1144.3 400.45,1145.36 397.33,1145.97 394.38,1145.02 390.81,1146.9 387.62,1145.12 384.19,1146.42 380.27,1145.91 377.46,1142.88 377,1139.15 377.34,1135.4 377,1132.85" fill="none" stroke="#C04A1E" stroke-width="0.7"/>
<polyline points="377,1132.85 381.77,1132.85 387.43,1133.32 392.01,1130.99 397.92,1130.73 401.72,1128.84 404.98,1127.92 410.71,1126.44 414.4,1126.49 417.82,1127.03 421.39,1127.48 424.7,1125.22 428.78,1125.17 435.14,1134.22 432.15,1137.06 431.1,1138.47 426.94,1140 425.49,1140.76 423.48,1142.41 420.67,1142.02 417.44,1140.64 414.68,1140.02 417.24,1142.15 416.01,1141.12 413.9,1140.34" fill="none" stroke="#5E8A6A" stroke-width="0.7"/>
<polyline points="413.9,1140.34 411.03,1142.12 407.96,1144.05 410.44,1142.23 407.93,1144.47 405.34,1143.13 403.62,1141.28 400.93,1142.89 397.63,1141.11 394.72,1143.64 391.02,1144.24 387.19,1145.05 384.26,1146.15 387.07,1147 384.04,1143.85 381,1142.53 380.64,1139.27 379.04,1140.94 379.93,1139 380.88,1135.9 378.73,1134.17 377,1130.87 377,1128.43 377,1132.34 377,1130.06" fill="none" stroke="#D23C10" stroke-width="0.7"/>
<polyline points="377,1130.06 377.52,1125.93 379.18,1124.56 377.45,1122.41 377.34,1118.28 378.41,1116.13 379.07,1112.36 381.38,1108.57 379.91,1112.01 380.01,1108.83 380.91,1105.69 381.16,1103.82 381.44,1101.25 382.77,1100.08 382.24,1097.28 379.08,1094.63 378.56,1093.04 377.54,1091.02 377.39,1088.36 379.87,1085.13 382.67,1082.78 381.98,1084.34 381.78,1080.17 379.62,1077.72 380.37,1076.01" fill="none" stroke="#7A8E4E" stroke-width="0.7"/>
<polyline points="380.37,1076.01 379.5,1073.33 378.2,1069.2 377,1067.11 377,1065.57 377,1063.57 377.06,1061.3 377,1059.44 377,1057.73 377,1054.02 381.02,1055.28 385.01,1053.5 387.27,1053.5 390.75,1053.5 392.51,1053.5 394.01,1053.62 392.07,1054.51 394.21,1053.82 397.56,1055.75 399.33,1056.26 403.29,1056.46 405.72,1059.33 409.38,1057.61 413.41,1056.54 417.19,1058.86" fill="none" stroke="#C04A1E" stroke-width="0.7"/>
<polyline points="417.19,1058.86 419.33,1057.98 421.61,1055.53 423.21,1057.1 426.12,1057.95 427.66,1056.65 430.82,1056.51 432.45,1056.42 435.09,1054.44 437.97,1056.54 440.32,1057.92 442.13,1057.31 439.04,1057.96 440.87,1056.28 443.63,1058.89 445.47,1059.13 448.05,1058.27 451.4,1059.87 448.21,1058.25 450.6,1059.68 454.33,1059.64 458.36,1058.93 458.92,1061.18 459.53,1062.83 462.43,1065.48" fill="none" stroke="#5E8A6A" stroke-width="0.7"/>
<polyline points="462.43,1065.48 462.23,1068.21 463,1069.66 461.12,1072.7 459.37,1069.29 458.45,1071.03 457.29,1073.46 456.28,1076.55 456.69,1080.44 456.38,1083.14 456.57,1087.52 456.23,1090.27 455.87,1093.95 456.22,1095.52 456.97,1097.69 456.08,1100.3 457.28,1104.55 456.66,1105.99 456.52,1101.58 457.56,1103.48 457.68,1101.08 457.27,1103.44 456.58,1106.14 456.69,1102.8 455.56,1105.95" fill="none" stroke="#D23C10" stroke-width="0.7"/>
<polyline points="455.56,1105.95 457.05,1109.35 456.69,1106.89 457.91,1110.94 456.24,1113.12 455.71,1117.19 455.14,1119.13 456.9,1117.53 455.42,1120.62 457.52,1122.4 457.19,1124.58 460.03,1127.76 460.55,1129.62 459.07,1132.09 456.96,1134.32 455.57,1136.71 456.55,1139.84 458.9,1141.88 459.12,1143.92 457.62,1144.12 455.84,1145.51 454.27,1144.23 453.08,1140.35 452.79,1136.94 453.73,1130.28" fill="none" stroke="#7A8E4E" stroke-width="0.7"/>
<polyline points="453.73,1130.28 455.01,1126.58 454.72,1123.19 455.71,1119.89 456.63,1112.97 460.35,1108.04 460.64,1104.42 460.6,1099.63 461.64,1094 460.21,1088.95 461.68,1086 462.99,1079.96 463,1082.55 463,1084.41 463,1086.07 463,1088.21 463,1090.73 462.98,1093.72 463,1095.47 461.7,1093.89 459.87,1096.14 459.79,1098.21 462.14,1101.15 461.59,1103.16 458.47,1106.21" fill="none" stroke="#C04A1E" stroke-width="0.7"/>
<polyline points="458.47,1106.21 460.97,1108.66 459.83,1109.75 457.7,1112.82 460.31,1115.02 462.62,1118.28 460.73,1121.91 463,1124.38 462.82,1128.45 463,1131.52 462.81,1134.91 461.72,1138.04 460.21,1142.18 459.4,1145.48 455.65,1147 452.29,1147 450.22,1147 447.76,1147 450.31,1146.24 448.58,1146.6 444.49,1146.7 443.42,1147 440.06,1146.82 437.62,1146.19 433.25,1146.59" fill="none" stroke="#5E8A6A" stroke-width="0.7"/>
<polyline points="433.25,1146.59 431.35,1147 428.25,1146.05 424.68,1145.07 421.46,1147 419.85,1145.85 416,1146.79 412.16,1145.46 409.73,1147 406.43,1146 403.99,1144.34 399.54,1144.71 402.07,1139.01 403.94,1133.7 403.94,1128.4 406.56,1125.14 408.76,1122.47 409.54,1119.09 411.89,1112.63 416.38,1107.38 416.28,1103.59 416.72,1100.15 417.31,1096.18 418.04,1091.54 419.1,1088.05" fill="none" stroke="#D23C10" stroke-width="0.7"/>
<polyline points="419.1,1088.05 421.2,1085.12 422.35,1081.75 424.57,1076.41 426.02,1065.57 427.8,1062.02 431.1,1060.2 433.38,1057.52 435,1058.32 439.35,1057.7 442.51,1058.07 445.42,1056.05 446.59,1057.18 450.75,1056.41 453.52,1053.72 455.39,1055.83 458.23,1058.01" fill="none" stroke="#7A8E4E" stroke-width="0.7"/>
<circle cx="378.98" cy="1055.5" r="0.9" fill="#3C5AB8"/>
<circle cx="380.23" cy="1052.81" r="0.9" fill="#3C5AB8"/>
<circle cx="381.67" cy="1053.89" r="0.9" fill="#3C5AB8"/>
<circle cx="378.92" cy="1052.1" r="0.9" fill="#3C5AB8"/>
<circle cx="382.05" cy="1055.01" r="0.9" fill="#3C5AB8"/>
<circle cx="382.76" cy="1055.32" r="0.9" fill="#3C5AB8"/>
<circle cx="459.22" cy="1054.21" r="0.9" fill="#3C5AB8"/>
<circle cx="461.95" cy="1055.17" r="0.9" fill="#3C5AB8"/>
<circle cx="462.01" cy="1052.19" r="0.9" fill="#3C5AB8"/>
<circle cx="459.93" cy="1052.7" r="0.9" fill="#3C5AB8"/>
<circle cx="463.23" cy="1054.07" r="0.9" fill="#3C5AB8"/>
<circle cx="460.3" cy="1056.34" r="0.9" fill="#3C5AB8"/>
<circle cx="463.56" cy="1142.19" r="0.9" fill="#3C5AB8"/>
<circle cx="464.73" cy="1148.24" r="0.9" fill="#3C5AB8"/>
<circle cx="458.8" cy="1143.65" r="0.9" fill="#3C5AB8"/>
<circle cx="458.05" cy="1145.51" r="0.9" fill="#3C5AB8"/>
<circle cx="461.67" cy="1145.15" r="0.9" fill="#3C5AB8"/>
<circle cx="457.33" cy="1145.74" r="0.9" fill="#3C5AB8"/>
<circle cx="381.69" cy="1142.89" r="0.9" fill="#3C5AB8"/>
<circle cx="380.52" cy="1146.76" r="0.9" fill="#3C5AB8"/>
<circle cx="376.14" cy="1149" r="0.9" fill="#3C5AB8"/>
<circle cx="379.52" cy="1148.2" r="0.9" fill="#3C5AB8"/>
<circle cx="377.47" cy="1144.33" r="0.9" fill="#3C5AB8"/>
<circle cx="378.92" cy="1144.01" r="0.9" fill="#3C5AB8"/>
<text x="347.8" y="1065.5" font-family='"Liberation Serif", serif' font-size="15.5" font-weight="bold" fill="#000" text-anchor="start">ALN</text>
<rect x="15.4" y="1169.3" width="153.6" height="114.3" fill="#7B7BEB"/>
<rect x="42" y="1172" width="101.4" height="110" fill="#FF8000"/>
<rect x="60.5" y="1194" width="51.2" height="55.3" fill="#00F000"/>
<polyline points="46.5,1177 49.12,1175.44 51.97,1176.77 53.88,1179.1 52.28,1178.27 50.26,1176.64 53.38,1175 55.51,1175.4 58.9,1176.83 60.59,1176.14 63.66,1175 67.81,1175.88 64.46,1177.81 66.16,1176.04 69.29,1175 70.7,1176.62 73.2,1175.8 76.96,1175.13 75.72,1175 79,1175 80.8,1175.07 83.16,1175 84.62,1176.01 86.74,1175.38 88.45,1175" fill="none" stroke="#D23C10" stroke-width="0.7"/>
<polyline points="88.45,1175 91.84,1177.06 94.96,1175.3 94.34,1178.55 97.41,1182.86 100.93,1188.53 103.5,1192.03 106.52,1198.26 105.85,1201.93 108.03,1206.07 108.44,1209.2 110.34,1212.39 113.36,1217.52 114.37,1223.37 114.36,1227.96 113.88,1231.06 112.04,1233.77 119.75,1236.97 123.46,1239.61 126.17,1236.95 127.46,1239.77 126.63,1241.08 128.26,1238.98 129.72,1240.89 129.2,1244.22" fill="none" stroke="#7A8E4E" stroke-width="0.7"/>
<polyline points="129.2,1244.22 130.38,1247.35 131.21,1248.92 133,1251.27 133,1254.22 132.58,1252.68 133,1255.1 133,1252.54 133,1255.11 133,1256.92 132.03,1253.52 133,1256.94 129.73,1259.91 130.29,1263.39 128.58,1264.14 126.1,1262.79 122.52,1263.94 118.63,1262.39 121.56,1260.44 119.99,1259.77 116.94,1259.34 114.77,1260.68 113.01,1260.01 110.45,1260.83 113.11,1262.96" fill="none" stroke="#C04A1E" stroke-width="0.7"/>
<polyline points="113.11,1262.96 114.65,1264.88 110.78,1265.38 108.68,1267 112.05,1267 108.66,1266.02 106.79,1267 105.27,1267 101.6,1267 100.25,1267 97.39,1265.53 95.74,1265.68 99.58,1266.9 103.08,1267 101.54,1267 99.29,1267 96,1264.56 92.82,1266.13 90.36,1267 87.01,1267 84.07,1266.57 79.58,1266.56 77.45,1267 74.23,1267 72.2,1267" fill="none" stroke="#5E8A6A" stroke-width="0.7"/>
<polyline points="72.2,1267 69.63,1264.11 67.52,1266.17 65.87,1266.06 63.86,1265.77 67.48,1263.7 64.03,1263.37 61.36,1264.93 65.52,1264.23 63.47,1261.85 61.26,1263.72 59.91,1262.72 56.18,1260.83 54.48,1260.34 51.77,1261.87 48.36,1261.92 47.49,1258.69 47.41,1256.14 48.38,1254.17 50.01,1251.78 50.65,1250.22 51.29,1247.43 50.8,1243.14 47.82,1240.17 49.03,1239.18" fill="none" stroke="#D23C10" stroke-width="0.7"/>
<polyline points="49.03,1239.18 47.83,1236.84 47.34,1232.8 46.36,1230.57 47.24,1227.72 47.8,1223.96 46.54,1222.79 45.13,1221.42 45.84,1218.89 46.77,1220.56 46.97,1217.99 47.55,1216.48 46.81,1212.93 48.45,1209.87 45.93,1207.44 48.25,1205.52 46.15,1201.65 45.91,1199.64 48.66,1196.14 47.39,1194.78 47.28,1193.15 45.38,1191.12 46.08,1194.04 44.73,1191.38 44.65,1192.93" fill="none" stroke="#7A8E4E" stroke-width="0.7"/>
<polyline points="44.65,1192.93 45.29,1188.68 45.76,1186.58 45.86,1184.7 44.5,1182.75 45.29,1181.39 44.5,1179.28 45.86,1176.81 49.07,1177.71 52.18,1178.83 54.51,1177.1 55.96,1178.79 57.5,1178.78 60.39,1178.44 62.28,1179.45 64.13,1178.71 65.41,1179.93 67.22,1181.31 71.2,1181.37 73.3,1178.82 74.85,1180.15 76.59,1179.87 79.57,1176.59 80.76,1177.61 82.33,1176.9" fill="none" stroke="#C04A1E" stroke-width="0.7"/>
<polyline points="82.33,1176.9 83.64,1177.69 87.76,1178.71 89.11,1177.64 92.38,1176.16 94.61,1175 96.32,1175.03 98.21,1175.62 99.71,1175.15 102.21,1175 105.33,1177.99 107.31,1177.08 110.5,1175 107.32,1175 110.77,1175 114.12,1175 117.55,1175 120.51,1177.06 123.68,1177.11 125.49,1175.69 123.55,1175 125.84,1175 127.51,1176.83 129.74,1179.33 127.57,1181.38" fill="none" stroke="#5E8A6A" stroke-width="0.7"/>
<polyline points="127.57,1181.38 129.92,1183.85 128.29,1185.6 127.21,1182.94 127.51,1184.8 126.61,1189.06 127.68,1186.54 127.32,1189.94 126.42,1193.66 127.71,1194.85 129.63,1198.46 132.48,1201.61 133,1204.31 133,1207.89 132.77,1209.54 132.34,1211.87 129.72,1215.43 131.97,1218.19 128.97,1220.93 129.94,1224.61 129.37,1228.95 128.45,1231.63 127.69,1234.65 130.79,1237.26 130.79,1241.29" fill="none" stroke="#D23C10" stroke-width="0.7"/>
<polyline points="130.79,1241.29 130.06,1245.25 128.4,1247.78 126.41,1251.05 126.72,1253.26 126.91,1255.12 126.37,1258.16 125.33,1260.65 120.95,1261.56 118.87,1262.96 116.02,1264.61 114.06,1265.49 110.28,1264.34 106.89,1263.04 104.93,1260.97 108.64,1260.74 106.68,1259.81 104.23,1260.4 102.4,1260.66 99.11,1260.91 96.46,1261.32 95.13,1262.33 92.29,1261.46 90.12,1262.62 86.96,1264.44" fill="none" stroke="#7A8E4E" stroke-width="0.7"/>
<polyline points="86.96,1264.44 84.52,1265.62 80.62,1264.25 75.53,1259.56 70.76,1257.09 64.58,1254.06 62.35,1248.22 60.85,1244.82 58.26,1243.01 56.35,1240.29 53.27,1238.25 52.16,1232.19 46.14,1228.85 44.5,1226.35 44.5,1223.45 44.5,1221.89 44.55,1218.1 46.68,1215.18 44.54,1213.23 45.9,1209.95 46.42,1208.51 45.67,1205.55 46.48,1202.61 46.25,1205.35 45,1201.82" fill="none" stroke="#C04A1E" stroke-width="0.7"/>
<polyline points="45,1201.82 44.5,1199.44 44.5,1197.47 45.19,1195.03 44.5,1190.92 44.97,1187.19 45.45,1183.94 46.83,1180.72 47.89,1176.63 50.05,1175 53.97,1176.22 55.56,1177.16 57.61,1176.56 61.62,1178.13 65.06,1177.68 61.65,1178.24 57.86,1181.66 55.02,1182.95 51.25,1187.23 47.89,1187.5 49.18,1186.48 51.25,1183.89 50.13,1179.6 52.67,1178.41 54.72,1176.55" fill="none" stroke="#5E8A6A" stroke-width="0.7"/>
<polyline points="54.72,1176.55 58.25,1178.29 61.13,1176.56 64.71,1175.58 67.94,1175 71.47,1177.49 74.05,1175 75.46,1175 77.38,1175.67 80.95,1175 83.69,1175 81.83,1175.78 86,1176.26 88.22,1176.05 90.54,1175 93.43,1178.42 95.53,1180.67 99.32,1180.57 102.27,1181.33 98.54,1182.37 100.88,1180.01 101.99,1181.04 104.75,1180.97 109.04,1179.66 112.33,1181.36" fill="none" stroke="#D23C10" stroke-width="0.7"/>
<polyline points="112.33,1181.36 114.01,1179.98 116.94,1182.06 114.19,1180.71 115.6,1179.19 117.43,1177.8 118.87,1176.11 121.52,1175 122.93,1175.86 119.62,1177.52 122.65,1175 124.04,1176.61 127.05,1177.13 130.36,1175.98 133,1178.06 131.68,1182.23 128.74,1184.8 131.76,1187.82 129.36,1190.11 130.19,1191.64 130.43,1189.36 129.64,1193.02 129.95,1195.57 131.25,1198.97 130.06,1201.15" fill="none" stroke="#7A8E4E" stroke-width="0.7"/>
<polyline points="130.06,1201.15 131.25,1204.74 131.53,1207.05 131.41,1209.43 130.04,1212.74 131.48,1213.96 131.39,1216.14 133,1213.34 132.95,1216.46 130.43,1218.94 131.79,1222.98 130.6,1225.38 132.83,1227.56 133,1230.75 131.27,1232.7 132.22,1234.85 133,1238.46 133,1240.02 133,1243.31 131.89,1241.05 133,1243.98 131.53,1247.01 131.64,1250.79 133,1253.84 133,1256.69" fill="none" stroke="#C04A1E" stroke-width="0.7"/>
<polyline points="133,1256.69 131.85,1259.87 132.76,1262.07 131.32,1263.29 128.19,1261.66 126.82,1259.8 125.06,1263.84 122.44,1265.89 120.84,1267 119.33,1266.23 117.2,1264.98 117.84,1258.76 120.92,1255.54 120.73,1248.56 121.8,1243.91 122.5,1238.05 126.09,1234.74 128.74,1230.98 129.42,1224.81 133,1220.16 133,1213.99 133,1207.76 133,1209.25 133,1207.72 131.28,1210.79" fill="none" stroke="#5E8A6A" stroke-width="0.7"/>
<polyline points="131.28,1210.79 133,1207.66 131.45,1210.21 130.42,1212.49 131.34,1216.59 131.88,1219.09 133,1221.18 132.42,1225.64 131.2,1228.12 128.9,1230.97 129.62,1233.85 128.62,1238.16 129.32,1241.38 130.56,1244.69 130.6,1248.12 132.61,1245.79 130.89,1247.82 129.43,1249.96 130.07,1253.95 128.48,1256.71 126.92,1258.77 124.89,1261.54 123.61,1262.35 120.98,1264.03 117.37,1264.95" fill="none" stroke="#D23C10" stroke-width="0.7"/>
<polyline points="117.37,1264.95 119.94,1266.78 115.73,1266.41 113.07,1265.84 111.57,1265.58 110,1264.52 108.77,1265.86 107.35,1264.43 103.97,1265.34 102.22,1264.59 99.18,1267 97.95,1267 95.17,1264.47 91.7,1264.4 89.16,1265.36 86.47,1266.13 84.68,1265.1 83.05,1264.23 81,1263.55 77.86,1260.94 75.39,1262.41 71.94,1264.52 74.81,1265.54 72.74,1264.56 69.77,1267" fill="none" stroke="#7A8E4E" stroke-width="0.7"/>
<polyline points="69.77,1267 67.48,1267 70.23,1267 68.3,1265.47 64.36,1265.82 61.64,1267 59.1,1267 55.4,1266.62 54.18,1265.49 52.79,1266.26 49.9,1266.49 48.3,1267 45.8,1265.55 47.35,1263.62 45,1261.09 44.5,1258.14 46.15,1255.87 45.66,1253.66 44.5,1255.4 45.44,1252.76 47.44,1250.85 46.3,1252.15 44.79,1248.44 45.24,1244.14 46.62,1240.96" fill="none" stroke="#C04A1E" stroke-width="0.7"/>
<polyline points="46.62,1240.96 47.56,1239.1 44.93,1236.03 46.07,1233.49 48.6,1230.17 49.74,1226.92 50.56,1223.06 50.79,1221.35 49.32,1217.3 50.77,1215.61 50.9,1211.3 50.77,1209.68 48.59,1207.03 50.62,1203.97 52.2,1201.23 50.67,1199.96 50.92,1198.08 51.33,1193.81 52.19,1191.28 51.1,1189.34 48.67,1186.57 46.47,1183.99 46.76,1180.66 47.24,1178.48 49.67,1176.84" fill="none" stroke="#5E8A6A" stroke-width="0.7"/>
<polyline points="49.67,1176.84 46.61,1179.46 45.36,1178.25 45.89,1175.86 48.6,1177.19 50.22,1177.38 53.52,1175 56.64,1175 60.25,1175 62.67,1175 67.06,1175.93 70.14,1175.71 73.71,1175 76.91,1176.65 78.45,1178.27 82.29,1176.55 86.66,1177.2 89.46,1176.53 93.61,1175.9 95.22,1175 97.85,1175.58 99.51,1176.15 101.05,1177.27 104.18,1179.74 108.57,1178.93" fill="none" stroke="#D23C10" stroke-width="0.7"/>
<polyline points="108.57,1178.93 112.6,1179.1 115.73,1180.09 118.34,1181.08 119.49,1180.03 121.63,1179.66 122.7,1178.55 124.74,1179.54 127.12,1178.57 129.84,1179.87 131.07,1182.23 130.01,1183.56 129.79,1186.28 130.33,1187.87 129.67,1191.57 129.15,1195.78 127.21,1197.93 128.29,1201.35 126.93,1204.69 128.13,1202.77 129.76,1204.21 128.13,1206.85 128.03,1208.51 129.09,1210.94 128.09,1214.16" fill="none" stroke="#7A8E4E" stroke-width="0.7"/>
<polyline points="128.09,1214.16 129.5,1215.81 128.31,1217.16 129.39,1219.48 127.99,1222.07 128.3,1224.72 127.7,1226.46 128.98,1229.27 129.47,1231.75 127.52,1233.31 128.36,1236.75 130.06,1240.64 129.76,1243.14 128.41,1246.87 130.82,1250.06 132.13,1253.62 130.46,1256.74 131.36,1261.01 131.71,1263.99 128.8,1262.48 130.85,1264.24 129.41,1267 131.98,1263.92 130.47,1263.95 130.25,1260.74" fill="none" stroke="#C04A1E" stroke-width="0.7"/>
<polyline points="130.25,1260.74 129.15,1265.05 131.14,1264.26 133,1266.91 133,1267 130.27,1266.48 127.39,1267 124.54,1265.04 122.16,1266.9" fill="none" stroke="#5E8A6A" stroke-width="0.7"/>
<circle cx="46.77" cy="1175.64" r="0.9" fill="#3C5AB8"/>
<circle cx="42.64" cy="1178.63" r="0.9" fill="#3C5AB8"/>
<circle cx="43.83" cy="1177.81" r="0.9" fill="#3C5AB8"/>
<circle cx="46.7" cy="1178.78" r="0.9" fill="#3C5AB8"/>
<circle cx="43.4" cy="1180.79" r="0.9" fill="#3C5AB8"/>
<circle cx="48.48" cy="1179.98" r="0.9" fill="#3C5AB8"/>
<circle cx="128.48" cy="1178.76" r="0.9" fill="#3C5AB8"/>
<circle cx="130.03" cy="1178.6" r="0.9" fill="#3C5AB8"/>
<circle cx="132.59" cy="1176.27" r="0.9" fill="#3C5AB8"/>
<circle cx="134.58" cy="1176.51" r="0.9" fill="#3C5AB8"/>
<circle cx="130.74" cy="1178.72" r="0.9" fill="#3C5AB8"/>
<circle cx="128.21" cy="1180.17" r="0.9" fill="#3C5AB8"/>
<circle cx="129.66" cy="1268.1" r="0.9" fill="#3C5AB8"/>
<circle cx="128.16" cy="1261.99" r="0.9" fill="#3C5AB8"/>
<circle cx="131.72" cy="1262.93" r="0.9" fill="#3C5AB8"/>
<circle cx="130.52" cy="1262.6" r="0.9" fill="#3C5AB8"/>
<circle cx="132.79" cy="1266.9" r="0.9" fill="#3C5AB8"/>
<circle cx="132.49" cy="1262.07" r="0.9" fill="#3C5AB8"/>
<circle cx="42.88" cy="1265.66" r="0.9" fill="#3C5AB8"/>
<circle cx="43.15" cy="1266.73" r="0.9" fill="#3C5AB8"/>
<circle cx="46.88" cy="1268.46" r="0.9" fill="#3C5AB8"/>
<circle cx="49.05" cy="1266.24" r="0.9" fill="#3C5AB8"/>
<circle cx="49.12" cy="1265.06" r="0.9" fill="#3C5AB8"/>
<circle cx="44.83" cy="1261.49" r="0.9" fill="#3C5AB8"/>
<text x="20.4" y="1188.8" font-family='"Liberation Serif", serif' font-size="15.5" font-weight="bold" fill="#000" text-anchor="start">WSP-L</text>
<rect x="181.6" y="1170.8" width="153.6" height="114.6" fill="#7B7BEB"/>
<rect x="209.5" y="1175.3" width="97.5" height="105.7" fill="#FF8000"/>
<rect x="227.3" y="1201" width="49.6" height="53.6" fill="#00F000"/>
<polyline points="214.5,1185.5 217.75,1186.5 219.62,1186.08 222.99,1188.99 225.65,1188.94 227.7,1187.78 230.2,1186.7 233.2,1189.62 236.05,1190.22 238.21,1190.23 240.41,1190.4 243.01,1191.07 245.35,1191.02 248,1189.75 250.42,1189.96 254.08,1189.92 255.99,1189.52 253.26,1188.08 254.6,1186.76 259,1186.83 262.78,1186.38 265.16,1189.27 268.4,1189.24 270.45,1190.6 272.04,1190.83" fill="none" stroke="#D23C10" stroke-width="0.7"/>
<polyline points="272.04,1190.83 275.08,1189.54 277.31,1189.57 279.16,1189.96 282.89,1189.3 285.56,1187.32 289.07,1184.65 291.12,1185.29 294.61,1184.51 296,1187.8 294.03,1189.4 295.35,1191.17 295.95,1194.75 296,1197.39 296,1200.42 293.82,1203.72 291.69,1201.01 293.29,1203.92 295.39,1207.21 296,1208.86 296,1211.1 296,1213.04 296,1215.63 294.58,1219.36 292.87,1215.62" fill="none" stroke="#7A8E4E" stroke-width="0.7"/>
<polyline points="292.87,1215.62 290.46,1219.14 291.21,1221.24 291.02,1223.37 293.16,1226.58 293.46,1224.21 293.22,1226.51 291.47,1228.38 291.13,1230.77 292.48,1232.04 291.92,1235.36 291.05,1236.99 290.4,1240.92 290.53,1244.56 290.39,1248.89 290.11,1252.7 292.25,1256.15 291.23,1258.06 291.82,1254.58 292.66,1255.99 293.44,1260.06 293.15,1262.4 295.04,1265.46 295.47,1262.99 296,1264.01" fill="none" stroke="#C04A1E" stroke-width="0.7"/>
<polyline points="296,1264.01 296,1265.61 296,1269.72 294.62,1272.73 292.75,1271 289.24,1272.5 286.39,1271 284.48,1272.31 281.73,1270.64 285.36,1273 282.78,1273 280.54,1272.26 277.81,1273 276.34,1273 273.64,1270.37 271.27,1268.44 267.93,1264.76 265.44,1262.08 259.05,1259.33 256.92,1256.76 252.05,1253.22 247.07,1250.38 242.35,1245.63 237.34,1241.55 232.89,1236.31" fill="none" stroke="#5E8A6A" stroke-width="0.7"/>
<polyline points="232.89,1236.31 231.64,1230.65 230.56,1226.95 229.93,1222.93 227.33,1219.24 221.6,1215.62 218.05,1210.52 215.32,1207.02 213.69,1203.63 212.5,1200.16 212.5,1198.99 212.5,1202.81 212.68,1201.28 213.57,1198.09 212.52,1196.74 212.5,1193.6 212.5,1192.14 214.94,1189.19 214.09,1185.8 216.75,1185.95 218.86,1186.72 221.04,1185.55 222.63,1184.37 225.76,1183.88 228.53,1185.62" fill="none" stroke="#D23C10" stroke-width="0.7"/>
<polyline points="228.53,1185.62 230.84,1186.08 234.49,1185.02 231.41,1186.49 235.77,1185.4 239.46,1183.5 241.29,1184.7 242.74,1186.1 244.49,1186.3 247.86,1188.05 246.29,1188.05 249.41,1185.67 251.76,1186.55 254.23,1186.98 255.63,1185.26 252.59,1185.87 254.52,1187.51 256.35,1186.34 259.11,1187.76 260.96,1186.56 262.87,1186.04 266.1,1184.51 262.58,1183.5 264.86,1183.5 268.04,1183.56" fill="none" stroke="#7A8E4E" stroke-width="0.7"/>
<polyline points="268.04,1183.56 269.66,1184.49 273.95,1184.58 276.42,1183.5 278.32,1183.5 281.36,1183.5 284.62,1183.5 286.32,1183.76 289.87,1183.5 293.7,1185.19 292.59,1187.23 293.36,1188.65 295.19,1190.93 296,1194.32 294.56,1198.13 295.23,1200.25 294.41,1202.68 292.83,1205.35 293.08,1208.4 291.92,1209.92 293.52,1211.66 292.48,1213.59 289.06,1216.24 289.09,1219.85 285.69,1225.67" fill="none" stroke="#C04A1E" stroke-width="0.7"/>
<polyline points="285.69,1225.67 285.65,1229.05 283.44,1235.14 281.87,1238.44 280.48,1244.79 276.42,1249.37 274.15,1252.46 273.2,1255.68 271.36,1259.96 267.64,1265.1 264.2,1263.83 260.2,1264.92 257.07,1265.52 254.13,1267.07 250.71,1266.7 247.62,1268.39 246.46,1266.99 244.86,1267.73 240.6,1268.12 237.91,1267.67 234.42,1267.4 231.62,1267.89 234.12,1263.49 237.75,1260.18 240.26,1254.6" fill="none" stroke="#5E8A6A" stroke-width="0.7"/>
<polyline points="240.26,1254.6 242.96,1251.78 246.18,1245.73 247.41,1241.46 248.22,1237.56 247.38,1233.28 246.58,1228.75 247.38,1225.83 249.4,1220.71 249.89,1216.45 251.51,1209.93 252.57,1205.76 252.77,1199.55 255.78,1196.1 257.86,1191.53 260.6,1188.33 263.47,1189.73 259.68,1189.55 261.92,1188.72 266.21,1189.54 269.53,1189.21 271.68,1186.56 273.11,1187.45 277.17,1188.12 281.45,1189.42" fill="none" stroke="#D23C10" stroke-width="0.7"/>
<polyline points="281.45,1189.42 277.09,1188.81 280.96,1186.8 283.69,1187.62 287.6,1188.79 291.09,1188.79 289.57,1191.34 290.23,1193.35 288.74,1196.13 289.35,1197.64 289.79,1195.79 289.02,1197.9 289.7,1199.74 292.74,1202.96 291.7,1204.38 290.54,1205.57 291.65,1209.33 289.35,1212.66 289.39,1216.26 290.65,1217.49 290.08,1219.27 289.6,1221.42 291.37,1223.47 290.51,1226.85 289.31,1230.11" fill="none" stroke="#7A8E4E" stroke-width="0.7"/>
<polyline points="289.31,1230.11 289.71,1232.28 289.08,1230.22 289.86,1231.99 289.15,1233.55 289.35,1235.65 289.58,1239.34 290.32,1241.26 291.35,1242.52 290.91,1245.71 289.37,1248.37 288.26,1251.77 288.25,1253.38 288.15,1255.61 289.2,1259.64 289.73,1263.02 289.29,1264.91 289.34,1267.6 284.93,1268.12 281.52,1269.73 278.8,1270.42 276.29,1271.82 273.89,1273 272.57,1273 269.63,1272.45" fill="none" stroke="#C04A1E" stroke-width="0.7"/>
<polyline points="269.63,1272.45 267.06,1273 265.62,1271.5 264.1,1272.25 261.53,1273 258.09,1272.86 259.71,1273 257.99,1271.86 254.99,1273 252.65,1270.24 249.64,1270.02 248.42,1268.59 247.39,1269.76 246.28,1268.6 243.95,1270.72 241.63,1271.93 238.79,1272.23 236.03,1271.79 234.19,1271.61 230.54,1271.09 227.86,1272.56 226.61,1271.65 224.67,1270.82 221.66,1270.91 219.49,1272.43" fill="none" stroke="#5E8A6A" stroke-width="0.7"/>
<polyline points="219.49,1272.43 217.09,1271.81 213.93,1269.57 213.25,1267.06 215.16,1264.83 216.3,1262.59 215.02,1260.11 218.05,1257.08 216.58,1254.24 217.44,1251.32 214.25,1248.52 218.39,1248.52 221.91,1248.8 225.35,1247.55 228.84,1244.86 232.39,1244.02 236.48,1242.25 241.61,1242.01 246.63,1240.07 249.64,1237.57 252.75,1236.99 258.93,1234.5 264.82,1234.69 268.93,1233.22 272.67,1230.45" fill="none" stroke="#D23C10" stroke-width="0.7"/>
<polyline points="272.67,1230.45 277.06,1226.73 281.14,1223.88 285.24,1218.81 291.61,1221.18 292.93,1225.43 293.42,1228.37 295.93,1231.56 296,1234.68 296,1236.64 296,1237.95 295.66,1239.73 293.49,1242.12 292.42,1243.54 291.15,1246.47 291.98,1249.16 291.42,1253.03 289.52,1250.11 290.77,1253.14 291.8,1256.29 291.25,1260.73 290.69,1263 292.24,1266.62 293.19,1270.27 296,1268.36" fill="none" stroke="#7A8E4E" stroke-width="0.7"/>
<polyline points="296,1268.36 294.21,1266.72 296,1269.53 293.27,1271.68 290.18,1271.41 288.58,1273 285.49,1272.91 283.72,1271.64 281.15,1269.05 276.89,1269.97 274.5,1271.89 273.11,1271.12 269.16,1270.93 266.34,1272.62 262.94,1273 264.79,1273 269.27,1271.27 271.18,1265.04 272.93,1261.83 278.27,1259.27 279.82,1255.59 280.9,1251.43 285.03,1249.34 288.13,1246.55 289.69,1248.17" fill="none" stroke="#C04A1E" stroke-width="0.7"/>
<polyline points="289.69,1248.17 288.56,1250.77 289.07,1253 288.09,1256.16 288.86,1260.49 288.99,1263.55 287.08,1266.3 284.27,1266 280.41,1264.3 275.78,1261.2 270.49,1257.51 264.49,1255.23 259.68,1251.37 256.44,1248.97 254.16,1243.91 251.14,1239.81 246.91,1234.46 242.63,1229.07 238.88,1227.2 235.55,1221.81 232.73,1218 226.42,1215.48 222.84,1214.74 218.77,1213.65 215.21,1210.85" fill="none" stroke="#5E8A6A" stroke-width="0.7"/>
<polyline points="215.21,1210.85 213.02,1208.59 212.5,1206.55 215.43,1203.71 214.88,1207.7 215.09,1204.81 215.57,1201.21 214.7,1198.6 214.52,1196.9 216.43,1198.72 214.36,1201.07 216.96,1198.62 215.21,1201.64 216.78,1200.03 215.76,1198.26 214.63,1196.35 214.3,1194.17 214.01,1192.18 213.5,1193.75 213.99,1191.38 212.58,1190.01 212.5,1187.48 215.29,1186.41 216.24,1188.32 215.68,1186.02" fill="none" stroke="#D23C10" stroke-width="0.7"/>
<polyline points="215.68,1186.02 219.72,1185.81 221.42,1187.23 224.19,1187.06 226.79,1189.54 224.52,1187.38 228.45,1185.37 231.16,1188.73 234.74,1190.21 237.11,1191.03 239.46,1191.36 243.01,1190.25 246.53,1190.97 250.57,1190.42 253.67,1192.31 250.35,1195.15 249.59,1200.44 246.45,1203.97 244.87,1208.06 242.67,1213.91 239.53,1218.86 236.83,1221.69 234.19,1226.72 228.08,1229.4 227.5,1233.39" fill="none" stroke="#7A8E4E" stroke-width="0.7"/>
<polyline points="227.5,1233.39 222.25,1236.84 221.49,1234.45 220.62,1237.42 220.67,1234.85 219.93,1233.48 219.42,1231.88 217.93,1229.55 216.61,1226.26 217.96,1222.36 219.29,1218.54 218.37,1216.94 217.49,1214.68 218.57,1212.39 219.42,1214.16 218.77,1210.12 216.68,1208.16 217.94,1206.88 216.95,1205.5 218.56,1201.36 219.04,1199.6 219.2,1198.12 217.63,1195.79 217.94,1191.76 219.42,1195.83" fill="none" stroke="#C04A1E" stroke-width="0.7"/>
<polyline points="219.42,1195.83 216.76,1200.76 216.15,1206.14 218.31,1211.46 216.82,1214.47 215.75,1218.71 218.4,1223.67 217.18,1227.13 219.1,1231.45 219.41,1230.45 219.3,1226.16 219.62,1222.34 220.19,1219.91 218.74,1218.45 219.22,1214.31 218.65,1211.69 219.34,1208.11 218.15,1206.22 217.62,1203.16 217.1,1199 215,1195.17 215.21,1198.05 218.14,1199.37 222.08,1201.31 227.3,1202.68" fill="none" stroke="#5E8A6A" stroke-width="0.7"/>
<polyline points="227.3,1202.68 231.96,1204.83 233.69,1207.34 237.81,1211.05 240.27,1216.26 243.6,1220.84 249.76,1221.89 252.48,1226.02 272.73,1227.16 281.76,1230.19 286.5,1231.22 289.61,1234.55 290.76,1237.2 289.79,1240.2 291.31,1241.5 290,1243.31 289.56,1246.55 290.92,1250.5 292.89,1253.29 292.11,1255.83 291.7,1257.33 293.95,1259.89 293.51,1263.21 295.07,1264.62 296,1266.31" fill="none" stroke="#D23C10" stroke-width="0.7"/>
<polyline points="296,1266.31 296,1268.32 294.87,1270.23 293.25,1270.21 292.51,1267.99 290.18,1270.78 288.73,1269.33 286.38,1267.95 288.1,1267.99 285.83,1267.67 281.62,1267.6 279.61,1268.06 277.51,1269.34 274.98,1269.42 273.2,1269.93 269.63,1270.91 272.94,1271.07 270.45,1270.04 268.94,1270.1 266.18,1266.88 263.6,1266.45 260.07,1266.02 256.8,1268.59 253.9,1269.92 249.74,1269.15" fill="none" stroke="#7A8E4E" stroke-width="0.7"/>
<polyline points="249.74,1269.15 245.59,1268.82 243.87,1269.42 240.2,1271.44 235.95,1272.85 233.66,1273 229.72,1273 228.26,1273 224.25,1272.74 221.9,1273 219.25,1271.62 222.31,1271.85 220.57,1273 217.29,1273 214.08,1270 212.5,1266.84 214.16,1268.77 212.95,1265.03 217.06,1260.29 222.61,1259.93 227.26,1260.39 232.05,1256.81 236.9,1252.96 242.71,1251.48 248.33,1250.05" fill="none" stroke="#C04A1E" stroke-width="0.7"/>
<polyline points="248.33,1250.05 252.45,1247.02 255.47,1246.53 258.76,1246.41 262.25,1242.76 266.61,1238.87 271.62,1237.65 278.27,1237.34 283.34,1237.81 286.35,1232.56 290.93,1233.48 293.84,1231.78 296,1228.94 295.27,1230.31 296,1232.22 296,1234.42 296,1238.08 296,1241.54 296,1245.49 296,1247.2 296,1249.98 294.45,1253.99 295.47,1255.29 296,1259.32 296,1261.34" fill="none" stroke="#5E8A6A" stroke-width="0.7"/>
<polyline points="296,1261.34 295.88,1264.88 296,1266.49 296,1268.54 295.98,1266.26 294.77,1268.72 294.82,1270.68 291.23,1271.66 288.65,1273 284.65,1272.2 281.23,1268.75 277.06,1264.55 271.44,1261.39 264.64,1260.02 259.27,1259.13 255.52,1254.68 251.32,1253.87 247.5,1249.6 244.32,1258.3 242.27,1262.24 238.94,1265.16 236.02,1266.95 232.41,1266.77 229.53,1266.33 232.16,1267.49" fill="none" stroke="#D23C10" stroke-width="0.7"/>
<polyline points="232.16,1267.49 228.78,1267.81 226.38,1267.42 225.03,1269.02 220.77,1268.37 218.83,1269.02 220.06,1270.51 217.09,1268.63 215.03,1266.22 212.75,1263.7 212.5,1261.61 214.49,1259.23 216.17,1257.71 218.74,1254.55 218.82,1252.83 218.16,1249.87 217.62,1245.87 218.16,1243.48 218.9,1242.35 220.16,1240 221.74,1236.35 224.38,1238.07 230.57,1241.29 226.36,1246.93 221.69,1243.63" fill="none" stroke="#7A8E4E" stroke-width="0.7"/>
<polyline points="221.69,1243.63 220.08,1241.12 219.71,1238.23 218.41,1236.41 218.63,1233.89 219.87,1230.27 220.48,1227.9 219.16,1225.56 218.62,1222.06 219.3,1219.68 218.64,1216.7 219.22,1218.08 219.41,1214.53 217.05,1211.53 217.07,1214.13 218.64,1210.41 217.47,1207.77 218.42,1205.43 217.4,1203.88 218.98,1201.54 219.22,1199.17 218.83,1197.14 217.03,1194.7 216.32,1192.05 215.06,1188.14" fill="none" stroke="#C04A1E" stroke-width="0.7"/>
<polyline points="215.06,1188.14 216.71,1186.04 219.07,1183.5" fill="none" stroke="#5E8A6A" stroke-width="0.7"/>
<circle cx="211.71" cy="1185.42" r="0.9" fill="#3C5AB8"/>
<circle cx="217.09" cy="1183.18" r="0.9" fill="#3C5AB8"/>
<circle cx="211.67" cy="1184.49" r="0.9" fill="#3C5AB8"/>
<circle cx="213.45" cy="1188.55" r="0.9" fill="#3C5AB8"/>
<circle cx="212.52" cy="1183.91" r="0.9" fill="#3C5AB8"/>
<circle cx="214.78" cy="1185.19" r="0.9" fill="#3C5AB8"/>
<circle cx="290.92" cy="1189.22" r="0.9" fill="#3C5AB8"/>
<circle cx="294.44" cy="1185.87" r="0.9" fill="#3C5AB8"/>
<circle cx="293.74" cy="1188.13" r="0.9" fill="#3C5AB8"/>
<circle cx="293.91" cy="1183.66" r="0.9" fill="#3C5AB8"/>
<circle cx="293.19" cy="1189.11" r="0.9" fill="#3C5AB8"/>
<circle cx="291.83" cy="1185.53" r="0.9" fill="#3C5AB8"/>
<circle cx="293.47" cy="1267.15" r="0.9" fill="#3C5AB8"/>
<circle cx="296.68" cy="1274.49" r="0.9" fill="#3C5AB8"/>
<circle cx="290.88" cy="1269.72" r="0.9" fill="#3C5AB8"/>
<circle cx="291.68" cy="1271.42" r="0.9" fill="#3C5AB8"/>
<circle cx="296.13" cy="1272.17" r="0.9" fill="#3C5AB8"/>
<circle cx="297.62" cy="1272.68" r="0.9" fill="#3C5AB8"/>
<circle cx="211.93" cy="1268.2" r="0.9" fill="#3C5AB8"/>
<circle cx="213.01" cy="1270.75" r="0.9" fill="#3C5AB8"/>
<circle cx="213.32" cy="1269.13" r="0.9" fill="#3C5AB8"/>
<circle cx="211.14" cy="1271.66" r="0.9" fill="#3C5AB8"/>
<circle cx="215.69" cy="1268.98" r="0.9" fill="#3C5AB8"/>
<circle cx="210.88" cy="1273.79" r="0.9" fill="#3C5AB8"/>
<text x="183.6" y="1189.3" font-family='"Liberation Serif", serif' font-size="15.5" font-weight="bold" fill="#000" text-anchor="start">WSP-M</text>
<rect x="345.8" y="1170.9" width="154.2" height="112.7" fill="#7B7BEB"/>
<rect x="370.4" y="1173.5" width="102.6" height="108.5" fill="#FF8000"/>
<rect x="400.6" y="1193" width="52.8" height="54.7" fill="#00F000"/>
<polyline points="387,1177.5 388.42,1179.27 386.25,1181.76 386.21,1180.16 386.8,1178.67 385,1177.27 387.81,1176.71 390.13,1179.02 391.8,1179.49 389.34,1176.53 391.86,1175.5 394.18,1176.64 397.21,1175.5 399.9,1176.96 404.32,1177.73 405.86,1176.16 408.23,1177.43 411.81,1176.56 414.97,1175.5 418.63,1175.5 422.85,1176.92 426.06,1177.66 427.93,1175.5 430.95,1175.5 432.71,1175.5" fill="none" stroke="#D23C10" stroke-width="0.7"/>
<polyline points="432.71,1175.5 435.6,1176.68 432.43,1175.5 436.82,1175.5 440.6,1175.5 442.06,1176.07 444.75,1177.07 448.06,1178.36 444.33,1179.9 441.64,1178.48 444.39,1176.82 447.29,1175.5 450.91,1177.97 453.28,1175.5 455.89,1175.52 458.46,1175.5 461.29,1175.5 463.66,1176.1 466.81,1178.27 464.92,1180.27 468.42,1181.04 469.83,1182.44 470,1185.32 469.13,1187.44 470,1190.47" fill="none" stroke="#7A8E4E" stroke-width="0.7"/>
<polyline points="470,1190.47 469.88,1193.16 470,1194.9 470,1197.17 470,1198.64 470,1201.21 470,1205.48 469.79,1208.76 470,1212.6 470,1215.31 470,1217.25 469.34,1219.53 470,1223.47 466.94,1226.37 465.32,1230.2 463.38,1233.07 460.87,1236.68 456.8,1239.26 453.2,1238.9 449.33,1241.92 445.06,1244.59 439.33,1248.09 433,1248.4 429.53,1248.55 426.48,1249.29" fill="none" stroke="#C04A1E" stroke-width="0.7"/>
<polyline points="426.48,1249.29 423.57,1251.48 417.03,1253.8 413.3,1253.58 410.09,1252.52 407.07,1253.25 403.2,1251.6 393.9,1252.21 391.76,1250.01 390.87,1247.46 389.32,1244.15 390.6,1240.12 391.41,1237.2 391.6,1232.89 392.16,1229.39 393.09,1226.56 391.4,1225.49 390.43,1223.06 389.73,1219.01 389.28,1214.72 389.61,1217.2 391.2,1215.03 391.23,1210.93 389.46,1207.73 389.04,1206.05" fill="none" stroke="#5E8A6A" stroke-width="0.7"/>
<polyline points="389.04,1206.05 390.54,1204.5 391.37,1200.69 389.33,1196.75 388.56,1194.41 389.55,1190.08 388.08,1187.73 389.98,1185.81 387.58,1182.23 386.86,1178.91 390.49,1178.76 388.91,1180.07 388.01,1177.78 390.5,1179.27 394,1178.64 395.7,1178.74 397.72,1177.33 400.7,1178.7 402.19,1177.94 406.34,1178.05 408.86,1175.77 410.21,1175.5 413.13,1175.5 416.66,1175.5 419.58,1177.91" fill="none" stroke="#D23C10" stroke-width="0.7"/>
<polyline points="419.58,1177.91 422.85,1178.52 426.33,1179.17 428.9,1180.87 433.11,1181.92 436.16,1181.97 439.16,1179.25 441.96,1180.54 439.02,1182.41 442.31,1181.22 444.56,1180.26 446.03,1179.77 449.05,1177.89 451.48,1179.56 452.76,1178.28 455.67,1178.8 457.27,1179.49 459.7,1181.64 462.87,1179.93 464.56,1181.69 463.09,1179.76 465.96,1177.73 468.49,1177.82 470,1181.42 469.5,1184.93" fill="none" stroke="#7A8E4E" stroke-width="0.7"/>
<polyline points="469.5,1184.93 467.58,1188.88 465.78,1191.99 466.07,1194.8 463.81,1197.13 463.39,1198.53 463.86,1200.3 463.67,1203.23 463.35,1204.48 463.65,1207.26 462.94,1205.62 461.57,1201.78 456.45,1203.69 453.23,1206.13 446.91,1206.25 441.45,1206.41 437.13,1207.81 431.98,1209.22 429.5,1213.07 422.82,1213.32 420.05,1215.63 415.69,1218.35 412.84,1222.81 409.53,1224.38 405.09,1224.92" fill="none" stroke="#C04A1E" stroke-width="0.7"/>
<polyline points="405.09,1224.92 402.23,1227.94 397.35,1231.45 392.6,1230.87 390.44,1229.12 389.61,1226.34 389.29,1223.67 389.94,1219.91 388.94,1215.79 386.91,1213.75 387.69,1210.47 385.86,1208.06 385,1206.11 385,1204.8 385,1203.61 385.64,1201.53 386.31,1199.07 385.79,1197.51 386.73,1195.64 386.86,1193.9 386.53,1191.4 386.74,1187.39 386.14,1184.78 385.44,1182.97 385.99,1180.78" fill="none" stroke="#5E8A6A" stroke-width="0.7"/>
<polyline points="385.99,1180.78 387.78,1183.05 387.95,1180.85 389.29,1178.39 393,1179.18 396.58,1178.85 400.19,1181.39 403.36,1181.37 405.13,1179.36 406.93,1179.04 408.05,1177.82 409.81,1176.06 412.18,1176.78 414.18,1175.72 416.59,1175.97 419.06,1177.12 421.45,1177.88 424.05,1175.5 427.17,1175.5 429.47,1175.5 430.7,1176.73 433.43,1177.47 435.52,1177.86 437.63,1178.15 439.45,1179.03" fill="none" stroke="#D23C10" stroke-width="0.7"/>
<polyline points="439.45,1179.03 442.03,1178.2 443.63,1177.46 445.89,1177.19 448.8,1175.5 453.29,1175.72 454.54,1175.5 457.25,1175.61 458.38,1175.5 460.17,1176.31 461.96,1175.5 463.64,1177.54 466.72,1176.7 468.48,1179.22 469.69,1180.71 470,1183.29 467.81,1185.85 470,1188.33 468.66,1189.72 467.13,1185.82 467.75,1188.97 469.77,1191.96 470,1194.26 467.78,1196.43 467.28,1198.22" fill="none" stroke="#7A8E4E" stroke-width="0.7"/>
<polyline points="467.28,1198.22 468.1,1199.76 466.69,1201.64 467.57,1205.37 466.58,1207.24 466.69,1210.08 466.82,1214.55 469.41,1218.03 470,1219.42 469.62,1221.5 468.99,1225.62 467.35,1227.84 466,1231.01 464.72,1233.85 466.48,1235.38 464.39,1237.86 466.9,1240.44 468.99,1244.37 469.68,1248.21 469.89,1251.95 469.56,1254.47 467.05,1251.31 466.68,1253.42 467.86,1256.34 465.22,1259.51" fill="none" stroke="#C04A1E" stroke-width="0.7"/>
<polyline points="465.22,1259.51 464.69,1261.11 464.93,1262.62 460.95,1262.99 456.98,1261.79 455.27,1261.25 453.15,1261.26 451.54,1260.85 450.04,1260.36 447.86,1260.97 444.95,1260.52 441.95,1260.22 439.35,1260.34 435.85,1261.47 438.31,1258.2 439.83,1254.3 438.5,1251.08 440.72,1244.46 441.84,1239.03 440.55,1233.41 438.3,1227.23 440.79,1222.87 443.84,1218.61 444.29,1215.49 447.23,1210.98" fill="none" stroke="#5E8A6A" stroke-width="0.7"/>
<polyline points="447.23,1210.98 448.01,1207.67 449.59,1204.65 449.01,1200.9 450.99,1196.48 449.57,1190.54 447.73,1186.57 446.26,1181.23 449.4,1182.89 451.79,1180.72 449.27,1180.04 450.87,1181.17 453.36,1180.37 456.03,1181.63 458.25,1182.05 460.54,1182.23 463.97,1181.76 464.62,1178.69 466.04,1180.16 464.59,1181.33 463.99,1183.66 463.28,1187.01 462.95,1188.9 463.23,1191.09 463.86,1192.82" fill="none" stroke="#D23C10" stroke-width="0.7"/>
<polyline points="463.86,1192.82 465,1195.06 466.14,1197.75 467.84,1201.34 466.3,1202.89 465.01,1204.04 466.56,1207.21 468.55,1210.49 470,1212.18 470,1208.92 470,1210.95 470,1214.72 469.22,1219.13 468.11,1221.97 466.71,1225.2 467.51,1229.08 467.76,1230.58 469.7,1234.57 469.9,1237.1 468.95,1239.05 468.26,1241.37 465.04,1244.17 467.88,1246.74 469.44,1248.34 467.83,1249.94" fill="none" stroke="#7A8E4E" stroke-width="0.7"/>
<polyline points="467.83,1249.94 468.44,1252.67 467.38,1254.22 465.49,1257.7 466.63,1260.19 467.76,1264.12 464.18,1263.26 460.51,1261.11 457.57,1261.84 454.65,1264.39 451.31,1261.63 449.18,1263.26 446.53,1263.82 445.02,1263.72 442.43,1266.76 439.67,1264.7 438.57,1263.51 437.24,1262.63 434.29,1262.33 431.38,1263.35 427.58,1261.03 425.23,1261.34 423.8,1260.87 421.34,1262.75 417.98,1261.59" fill="none" stroke="#C04A1E" stroke-width="0.7"/>
<polyline points="417.98,1261.59 415.86,1260.18 412.66,1259.99 415.8,1260.63 414.63,1260.29 411.72,1260.53 407.68,1262.24 405.67,1262.29 404.2,1263.81 402,1266.22 400.34,1267 398.38,1267 394.85,1266.86 390.68,1266.67 388.75,1267 385.62,1266.27 386.24,1267 385,1267 385,1265.12 387.23,1262.68 385.82,1261.14 385.41,1262.79 385,1259.43 385.69,1257.98 385,1253.63" fill="none" stroke="#5E8A6A" stroke-width="0.7"/>
<polyline points="385,1253.63 386.94,1251.72 385.17,1249.73 385,1248.68 385.87,1246.95 385,1243.95 385,1241.49 385,1239.33 385.02,1235.42 385,1228.61 386.44,1223.54 386.53,1217.97 385,1214.46 385,1209.05 385.37,1205.48 385,1201.44 385,1199.51 385,1196.53 386.73,1194.95 388,1192.9 388.26,1190.37 389.06,1187.39 390.38,1184.34 389.68,1182.01 391.2,1178.37" fill="none" stroke="#D23C10" stroke-width="0.7"/>
<polyline points="391.2,1178.37 393.79,1178.84 395.03,1177.31 397.35,1178.75 398.59,1177.48 402.18,1176.47 404.13,1175.58 406.9,1176.29 411.38,1178.52 414.51,1182.71 415.6,1185.65 418.82,1191.2 421.45,1194.14 423.53,1198.38 428.69,1201.6 431.64,1207.17 433.8,1209.33 438.75,1210.95 443.85,1212.97 449.11,1216.08 454.22,1218.74 459.25,1223.6 461.56,1228.11 461.94,1232.23 462.19,1236.4" fill="none" stroke="#7A8E4E" stroke-width="0.7"/>
<polyline points="462.19,1236.4 465.95,1238.09 469.03,1242.51 470,1247.53 468.09,1251.57 466.87,1253.2 467.08,1257.19 466,1259.47 466.33,1261.54 466.66,1259.6 465.88,1261.59 467.05,1265.3 464.43,1262.97 462.62,1263.11 461.51,1257.13 463.28,1254.04 467.57,1249.64 466.9,1243.96 470,1239.06 469.11,1234.14 469.94,1237.72 469.67,1239.79 470,1237.68 469.01,1239.32 467.68,1241.65" fill="none" stroke="#C04A1E" stroke-width="0.7"/>
<polyline points="467.68,1241.65 469.7,1243.5 470,1245.95 470,1249.23 470,1251.67 470,1254.54 468.56,1256.94 468.25,1254.49 469.53,1255.82 468.18,1259.08 465.9,1261.06 465.96,1263 463.81,1263.32 461.9,1262.49 459.01,1263.29 463.08,1258.87 464.28,1255.49 464.7,1251.33 466.59,1248.7 467.79,1245.32 470,1242.6 470,1244.42 470,1248.66 470,1250.64 470,1252.47" fill="none" stroke="#5E8A6A" stroke-width="0.7"/>
<polyline points="470,1252.47 467.71,1249.35 467.39,1250.82 468.24,1252.52 468.71,1256.96 467.34,1260.73 468.07,1262.47 469.04,1263.72 466.7,1264.7 465.52,1263.53 462.66,1266.35 459.53,1266.83 455.79,1267 453.16,1265.56 451.23,1264.88 447.45,1264.75 445.65,1266.89 443.12,1264.71 441.62,1264.68 437.88,1262.38 435.11,1262.98 431.44,1261.13 429.46,1262.86 427.64,1262.29 425.51,1260.87" fill="none" stroke="#D23C10" stroke-width="0.7"/>
<polyline points="425.51,1260.87 421.13,1261.52 420.01,1260.55 417.35,1260.53 415.88,1261.48 413.44,1260.49 411.51,1260.26 409.39,1260.91 407.9,1261.19 405.41,1262.76 408.79,1263.87 405.84,1264.57 403.72,1265.24 401.86,1264.36 398.15,1265.48 396.82,1266.18 393.55,1263.76 389.92,1261.4 388.58,1257.35 388.95,1253.01 386.45,1256.04 385,1253.14 385,1250.18 385,1247.62 386.55,1244.06" fill="none" stroke="#7A8E4E" stroke-width="0.7"/>
<polyline points="386.55,1244.06 387.74,1242.42 389.31,1238.45 388.08,1236.34 388.54,1232.66 388.71,1229.32 387.87,1226.97 389.21,1222.71 388.13,1219.56 386.1,1215.61 386,1213.07 385.06,1209.98 385.38,1206.9 385,1204.99 385,1203.42 386.44,1199.7 385,1197.3 385,1195.06 386.88,1193.25 388.05,1190.96 387.05,1188.15 388.97,1186.47 389.97,1185.12 390.65,1183.24 392.02,1181.1" fill="none" stroke="#C04A1E" stroke-width="0.7"/>
<polyline points="392.02,1181.1 394.16,1179.48 396.91,1180.9 399.42,1178.23 402.03,1178.63 405.55,1179.9 408.65,1177.42 411.2,1179.04 413.37,1179.73 409.94,1178.62 413.03,1180.96 416.87,1180.35 420.16,1181.73 422.92,1178.89 426.31,1177.03 430.34,1176.42 431.63,1175.5 433.45,1175.5 435.77,1175.57 438.75,1175.5 441.33,1175.5 438.1,1175.5 433.9,1175.5 436.16,1177.86 437.64,1178.19" fill="none" stroke="#5E8A6A" stroke-width="0.7"/>
<polyline points="437.64,1178.19 434.03,1176.99 436.83,1175.5 438.24,1175.5 435.95,1175.97 438.56,1176.82 440.25,1175.5 441.56,1175.5 443.31,1177.02 446.04,1176.01 442.71,1175.5 443.27,1182.38 445.77,1186.22 449.51,1191.65 450.19,1198.11 450.42,1202.46 450.51,1206.55 451.95,1211.86 451.93,1215.84 452.39,1221 453.54,1224.18 455.2,1227.11 460.91,1232.7 462.1,1235.8 462.63,1238.2" fill="none" stroke="#D23C10" stroke-width="0.7"/>
<polyline points="462.63,1238.2 464.36,1241.38 466.45,1243.45 464.84,1245.81 464.39,1247.63 467.45,1250.87 470,1253.38 469.47,1255.74 468.71,1258.63 467.73,1260.76 467.46,1258.94 468.55,1260.9 468.81,1264.03 466.81,1263.84 464.87,1262.94 461.47,1261.12 459.53,1260.92 457.72,1260.11 455.88,1259.79 451.77,1260.65 454.86,1262.71 451.66,1262.64 449.21,1262.38 447.38,1261.19 446.24,1262.33" fill="none" stroke="#7A8E4E" stroke-width="0.7"/>
<polyline points="446.24,1262.33 444.15,1262.29 440.91,1261.21 437.77,1260.75 436.54,1262.06 433.8,1263.46 429.81,1265.14 426.73,1267 422.99,1266.87 418.89,1266.09 415.38,1263.63 412.29,1261.82 409.56,1260.93 407.85,1262 404.34,1264.07 401.73,1267 398.21,1265.01 396.72,1263.77 392.73,1262.71 397.19,1262.48 394.77,1263.86 391.54,1264.42 388.13,1261.99 387.43,1260.13 389.77,1257.62" fill="none" stroke="#C04A1E" stroke-width="0.7"/>
<polyline points="389.77,1257.62 390.02,1255.7 392.16,1252.71" fill="none" stroke="#5E8A6A" stroke-width="0.7"/>
<circle cx="390.43" cy="1181.05" r="0.9" fill="#3C5AB8"/>
<circle cx="384.28" cy="1176.27" r="0.9" fill="#3C5AB8"/>
<circle cx="387.3" cy="1178.6" r="0.9" fill="#3C5AB8"/>
<circle cx="384.21" cy="1175.67" r="0.9" fill="#3C5AB8"/>
<circle cx="389.18" cy="1181.23" r="0.9" fill="#3C5AB8"/>
<circle cx="386.8" cy="1180.96" r="0.9" fill="#3C5AB8"/>
<circle cx="471" cy="1180.71" r="0.9" fill="#3C5AB8"/>
<circle cx="465.51" cy="1176.57" r="0.9" fill="#3C5AB8"/>
<circle cx="469.31" cy="1180" r="0.9" fill="#3C5AB8"/>
<circle cx="470.65" cy="1174.46" r="0.9" fill="#3C5AB8"/>
<circle cx="469.42" cy="1173.7" r="0.9" fill="#3C5AB8"/>
<circle cx="466.49" cy="1173.92" r="0.9" fill="#3C5AB8"/>
<circle cx="468.09" cy="1262.01" r="0.9" fill="#3C5AB8"/>
<circle cx="469.28" cy="1264.26" r="0.9" fill="#3C5AB8"/>
<circle cx="470.48" cy="1263.59" r="0.9" fill="#3C5AB8"/>
<circle cx="471.92" cy="1261.95" r="0.9" fill="#3C5AB8"/>
<circle cx="464.65" cy="1265" r="0.9" fill="#3C5AB8"/>
<circle cx="468.02" cy="1267.76" r="0.9" fill="#3C5AB8"/>
<circle cx="383.21" cy="1262.45" r="0.9" fill="#3C5AB8"/>
<circle cx="384.96" cy="1264.47" r="0.9" fill="#3C5AB8"/>
<circle cx="389.57" cy="1266.31" r="0.9" fill="#3C5AB8"/>
<circle cx="384.9" cy="1264.1" r="0.9" fill="#3C5AB8"/>
<circle cx="389.14" cy="1265.45" r="0.9" fill="#3C5AB8"/>
<circle cx="383.86" cy="1263.88" r="0.9" fill="#3C5AB8"/>
<text x="347.8" y="1191.4" font-family='"Liberation Serif", serif' font-size="15.5" font-weight="bold" fill="#000" text-anchor="start">WSP-H</text>
<rect x="524" y="990.8" width="450" height="305.5" fill="#fff" stroke="#D9D9D9" stroke-width="1.2"/>
<line x1="549" y1="1269.85" x2="895.5" y2="1269.85" stroke="#D9D9D9" stroke-width="1.2"/>
<text x="540" y="1273.85" font-family='"Liberation Serif", serif' font-size="11.5" font-weight="bold" fill="#000" text-anchor="end" textLength="9.4" lengthAdjust="spacingAndGlyphs">32</text>
<line x1="549" y1="1240.2" x2="895.5" y2="1240.2" stroke="#D9D9D9" stroke-width="1.2"/>
<text x="540" y="1244.2" font-family='"Liberation Serif", serif' font-size="11.5" font-weight="bold" fill="#000" text-anchor="end" textLength="9.4" lengthAdjust="spacingAndGlyphs">33</text>
<line x1="549" y1="1210.55" x2="895.5" y2="1210.55" stroke="#D9D9D9" stroke-width="1.2"/>
<text x="540" y="1214.55" font-family='"Liberation Serif", serif' font-size="11.5" font-weight="bold" fill="#000" text-anchor="end" textLength="9.4" lengthAdjust="spacingAndGlyphs">34</text>
<line x1="549" y1="1180.9" x2="895.5" y2="1180.9" stroke="#D9D9D9" stroke-width="1.2"/>
<text x="540" y="1184.9" font-family='"Liberation Serif", serif' font-size="11.5" font-weight="bold" fill="#000" text-anchor="end" textLength="9.4" lengthAdjust="spacingAndGlyphs">35</text>
<line x1="549" y1="1151.25" x2="895.5" y2="1151.25" stroke="#D9D9D9" stroke-width="1.2"/>
<text x="540" y="1155.25" font-family='"Liberation Serif", serif' font-size="11.5" font-weight="bold" fill="#000" text-anchor="end" textLength="9.4" lengthAdjust="spacingAndGlyphs">36</text>
<line x1="549" y1="1121.6" x2="895.5" y2="1121.6" stroke="#D9D9D9" stroke-width="1.2"/>
<text x="540" y="1125.6" font-family='"Liberation Serif", serif' font-size="11.5" font-weight="bold" fill="#000" text-anchor="end" textLength="9.4" lengthAdjust="spacingAndGlyphs">37</text>
<line x1="549" y1="1091.95" x2="895.5" y2="1091.95" stroke="#D9D9D9" stroke-width="1.2"/>
<text x="540" y="1095.95" font-family='"Liberation Serif", serif' font-size="11.5" font-weight="bold" fill="#000" text-anchor="end" textLength="9.4" lengthAdjust="spacingAndGlyphs">38</text>
<line x1="549" y1="1062.3" x2="895.5" y2="1062.3" stroke="#D9D9D9" stroke-width="1.2"/>
<text x="540" y="1066.3" font-family='"Liberation Serif", serif' font-size="11.5" font-weight="bold" fill="#000" text-anchor="end" textLength="9.4" lengthAdjust="spacingAndGlyphs">39</text>
<line x1="549" y1="1032.65" x2="895.5" y2="1032.65" stroke="#D9D9D9" stroke-width="1.2"/>
<text x="540" y="1036.65" font-family='"Liberation Serif", serif' font-size="11.5" font-weight="bold" fill="#000" text-anchor="end" textLength="9.4" lengthAdjust="spacingAndGlyphs">40</text>
<line x1="557.6" y1="1003" x2="895.5" y2="1003" stroke="#D9D9D9" stroke-width="1.2"/>
<text x="540" y="1007" font-family='"Liberation Serif", serif' font-size="11.5" font-weight="bold" fill="#000" text-anchor="end" textLength="9.4" lengthAdjust="spacingAndGlyphs">41</text>
<text x="545" y="1007.5" font-family='"Liberation Serif", serif' font-size="11" font-weight="bold" fill="#000" text-anchor="start" textLength="11" lengthAdjust="spacingAndGlyphs">(g)</text>
<text x="558.3" y="1288" font-family='"Liberation Serif", serif' font-size="11.5" font-weight="bold" fill="#000" text-anchor="middle" textLength="11.1" lengthAdjust="spacingAndGlyphs">0w</text>
<text x="578.67" y="1288" font-family='"Liberation Serif", serif' font-size="11.5" font-weight="bold" fill="#000" text-anchor="middle" textLength="11.1" lengthAdjust="spacingAndGlyphs">1w</text>
<text x="599.04" y="1288" font-family='"Liberation Serif", serif' font-size="11.5" font-weight="bold" fill="#000" text-anchor="middle" textLength="11.1" lengthAdjust="spacingAndGlyphs">2w</text>
<text x="619.41" y="1288" font-family='"Liberation Serif", serif' font-size="11.5" font-weight="bold" fill="#000" text-anchor="middle" textLength="11.1" lengthAdjust="spacingAndGlyphs">3w</text>
<text x="639.78" y="1288" font-family='"Liberation Serif", serif' font-size="11.5" font-weight="bold" fill="#000" text-anchor="middle" textLength="11.1" lengthAdjust="spacingAndGlyphs">4w</text>
<text x="660.15" y="1288" font-family='"Liberation Serif", serif' font-size="11.5" font-weight="bold" fill="#000" text-anchor="middle" textLength="11.1" lengthAdjust="spacingAndGlyphs">5w</text>
<text x="680.52" y="1288" font-family='"Liberation Serif", serif' font-size="11.5" font-weight="bold" fill="#000" text-anchor="middle" textLength="11.1" lengthAdjust="spacingAndGlyphs">6w</text>
<text x="700.89" y="1288" font-family='"Liberation Serif", serif' font-size="11.5" font-weight="bold" fill="#000" text-anchor="middle" textLength="11.1" lengthAdjust="spacingAndGlyphs">7w</text>
<text x="721.26" y="1288" font-family='"Liberation Serif", serif' font-size="11.5" font-weight="bold" fill="#000" text-anchor="middle" textLength="11.1" lengthAdjust="spacingAndGlyphs">8w</text>
<text x="741.63" y="1288" font-family='"Liberation Serif", serif' font-size="11.5" font-weight="bold" fill="#000" text-anchor="middle" textLength="11.1" lengthAdjust="spacingAndGlyphs">9w</text>
<text x="762" y="1288" font-family='"Liberation Serif", serif' font-size="11.5" font-weight="bold" fill="#000" text-anchor="middle" textLength="16.2" lengthAdjust="spacingAndGlyphs">10w</text>
<text x="782.37" y="1288" font-family='"Liberation Serif", serif' font-size="11.5" font-weight="bold" fill="#000" text-anchor="middle" textLength="16.2" lengthAdjust="spacingAndGlyphs">11w</text>
<text x="802.74" y="1288" font-family='"Liberation Serif", serif' font-size="11.5" font-weight="bold" fill="#000" text-anchor="middle" textLength="16.2" lengthAdjust="spacingAndGlyphs">12w</text>
<text x="823.11" y="1288" font-family='"Liberation Serif", serif' font-size="11.5" font-weight="bold" fill="#000" text-anchor="middle" textLength="16.2" lengthAdjust="spacingAndGlyphs">13w</text>
<text x="843.48" y="1288" font-family='"Liberation Serif", serif' font-size="11.5" font-weight="bold" fill="#000" text-anchor="middle" textLength="16.2" lengthAdjust="spacingAndGlyphs">14w</text>
<text x="863.85" y="1288" font-family='"Liberation Serif", serif' font-size="11.5" font-weight="bold" fill="#000" text-anchor="middle" textLength="16.2" lengthAdjust="spacingAndGlyphs">15w</text>
<text x="884.22" y="1288" font-family='"Liberation Serif", serif' font-size="11.5" font-weight="bold" fill="#000" text-anchor="middle" textLength="16.2" lengthAdjust="spacingAndGlyphs">16w</text>
<text x="904" y="1285" font-family='"Liberation Serif", serif' font-size="10.5" font-weight="bold" fill="#000" text-anchor="start" textLength="27" lengthAdjust="spacingAndGlyphs">(week)</text>
<polyline points="558.3,1152.73 578.67,1159.85 599.04,1151.84 619.41,1168.15 639.78,1241.09 660.15,1157.18 680.52,1203.73 700.89,1182.38 721.26,1138.7 741.63,1178.7 762,1179.5 782.37,1148 802.74,1175 823.11,1168.7 843.48,1190.5 863.85,1176 884.22,1196.7" fill="none" stroke="#8DB946" stroke-width="2.5" stroke-linejoin="round"/>
<circle cx="558.3" cy="1152.73" r="2.8" fill="#8DB946"/>
<circle cx="578.67" cy="1159.85" r="2.8" fill="#8DB946"/>
<circle cx="599.04" cy="1151.84" r="2.8" fill="#8DB946"/>
<circle cx="619.41" cy="1168.15" r="2.8" fill="#8DB946"/>
<circle cx="639.78" cy="1241.09" r="2.8" fill="#8DB946"/>
<circle cx="660.15" cy="1157.18" r="2.8" fill="#8DB946"/>
<circle cx="680.52" cy="1203.73" r="2.8" fill="#8DB946"/>
<circle cx="700.89" cy="1182.38" r="2.8" fill="#8DB946"/>
<circle cx="721.26" cy="1138.7" r="2.8" fill="#8DB946"/>
<circle cx="741.63" cy="1178.7" r="2.8" fill="#8DB946"/>
<circle cx="762" cy="1179.5" r="2.8" fill="#8DB946"/>
<circle cx="782.37" cy="1148" r="2.8" fill="#8DB946"/>
<circle cx="802.74" cy="1175" r="2.8" fill="#8DB946"/>
<circle cx="823.11" cy="1168.7" r="2.8" fill="#8DB946"/>
<circle cx="843.48" cy="1190.5" r="2.8" fill="#8DB946"/>
<circle cx="863.85" cy="1176" r="2.8" fill="#8DB946"/>
<circle cx="884.22" cy="1196.7" r="2.8" fill="#8DB946"/>
<polyline points="558.3,1118.04 578.67,1136.13 599.04,1119.23 619.41,1149.17 639.78,1114.19 660.15,1125.16 680.52,1176.16 700.89,1175.56 721.26,1170.4 741.63,1189.8 762,1193.6 782.37,1184.2 802.74,1202.3 823.11,1220.5 843.48,1211.2 863.85,1203.5 884.22,1227.7" fill="none" stroke="#C0413F" stroke-width="2.5" stroke-linejoin="round"/>
<circle cx="558.3" cy="1118.04" r="2.8" fill="#C0413F"/>
<circle cx="578.67" cy="1136.13" r="2.8" fill="#C0413F"/>
<circle cx="599.04" cy="1119.23" r="2.8" fill="#C0413F"/>
<circle cx="619.41" cy="1149.17" r="2.8" fill="#C0413F"/>
<circle cx="639.78" cy="1114.19" r="2.8" fill="#C0413F"/>
<circle cx="660.15" cy="1125.16" r="2.8" fill="#C0413F"/>
<circle cx="680.52" cy="1176.16" r="2.8" fill="#C0413F"/>
<circle cx="700.89" cy="1175.56" r="2.8" fill="#C0413F"/>
<circle cx="721.26" cy="1170.4" r="2.8" fill="#C0413F"/>
<circle cx="741.63" cy="1189.8" r="2.8" fill="#C0413F"/>
<circle cx="762" cy="1193.6" r="2.8" fill="#C0413F"/>
<circle cx="782.37" cy="1184.2" r="2.8" fill="#C0413F"/>
<circle cx="802.74" cy="1202.3" r="2.8" fill="#C0413F"/>
<circle cx="823.11" cy="1220.5" r="2.8" fill="#C0413F"/>
<circle cx="843.48" cy="1211.2" r="2.8" fill="#C0413F"/>
<circle cx="863.85" cy="1203.5" r="2.8" fill="#C0413F"/>
<circle cx="884.22" cy="1227.7" r="2.8" fill="#C0413F"/>
<polyline points="558.3,1095.2 578.67,1125.75 599.04,1115.97 619.41,1166.96 639.78,1144.13 660.15,1141.47 680.52,1181.79 700.89,1191.87 721.26,1160.4 741.63,1172.9 762,1195.6 782.37,1178 802.74,1179.5 823.11,1195.6 843.48,1166.6 863.85,1161.5 884.22,1186.3" fill="none" stroke="#7B53A3" stroke-width="2.5" stroke-linejoin="round"/>
<circle cx="558.3" cy="1095.2" r="2.8" fill="#7B53A3"/>
<circle cx="578.67" cy="1125.75" r="2.8" fill="#7B53A3"/>
<circle cx="599.04" cy="1115.97" r="2.8" fill="#7B53A3"/>
<circle cx="619.41" cy="1166.96" r="2.8" fill="#7B53A3"/>
<circle cx="639.78" cy="1144.13" r="2.8" fill="#7B53A3"/>
<circle cx="660.15" cy="1141.47" r="2.8" fill="#7B53A3"/>
<circle cx="680.52" cy="1181.79" r="2.8" fill="#7B53A3"/>
<circle cx="700.89" cy="1191.87" r="2.8" fill="#7B53A3"/>
<circle cx="721.26" cy="1160.4" r="2.8" fill="#7B53A3"/>
<circle cx="741.63" cy="1172.9" r="2.8" fill="#7B53A3"/>
<circle cx="762" cy="1195.6" r="2.8" fill="#7B53A3"/>
<circle cx="782.37" cy="1178" r="2.8" fill="#7B53A3"/>
<circle cx="802.74" cy="1179.5" r="2.8" fill="#7B53A3"/>
<circle cx="823.11" cy="1195.6" r="2.8" fill="#7B53A3"/>
<circle cx="843.48" cy="1166.6" r="2.8" fill="#7B53A3"/>
<circle cx="863.85" cy="1161.5" r="2.8" fill="#7B53A3"/>
<circle cx="884.22" cy="1186.3" r="2.8" fill="#7B53A3"/>
<polyline points="558.3,1102.8 578.67,1109 599.04,1090.1 619.41,1103.9 639.78,1084.4 660.15,1106.3 680.52,1175.27 700.89,1134.94 721.26,1145.9 741.63,1135.2 762,1143.9 782.37,1154.8 802.74,1166 823.11,1182.2 843.48,1154.8 863.85,1161.5 884.22,1183.2" fill="none" stroke="#35A6C4" stroke-width="2.5" stroke-linejoin="round"/>
<circle cx="558.3" cy="1102.8" r="2.8" fill="#35A6C4"/>
<circle cx="578.67" cy="1109" r="2.8" fill="#35A6C4"/>
<circle cx="599.04" cy="1090.1" r="2.8" fill="#35A6C4"/>
<circle cx="619.41" cy="1103.9" r="2.8" fill="#35A6C4"/>
<circle cx="639.78" cy="1084.4" r="2.8" fill="#35A6C4"/>
<circle cx="660.15" cy="1106.3" r="2.8" fill="#35A6C4"/>
<circle cx="680.52" cy="1175.27" r="2.8" fill="#35A6C4"/>
<circle cx="700.89" cy="1134.94" r="2.8" fill="#35A6C4"/>
<circle cx="721.26" cy="1145.9" r="2.8" fill="#35A6C4"/>
<circle cx="741.63" cy="1135.2" r="2.8" fill="#35A6C4"/>
<circle cx="762" cy="1143.9" r="2.8" fill="#35A6C4"/>
<circle cx="782.37" cy="1154.8" r="2.8" fill="#35A6C4"/>
<circle cx="802.74" cy="1166" r="2.8" fill="#35A6C4"/>
<circle cx="823.11" cy="1182.2" r="2.8" fill="#35A6C4"/>
<circle cx="843.48" cy="1154.8" r="2.8" fill="#35A6C4"/>
<circle cx="863.85" cy="1161.5" r="2.8" fill="#35A6C4"/>
<circle cx="884.22" cy="1183.2" r="2.8" fill="#35A6C4"/>
<polyline points="558.3,1134.6 578.67,1114.1 599.04,1075.2 619.41,1121.3 639.78,1049.5 660.15,1052.2 680.52,1103.4 700.89,1090.5 721.26,1066.6 741.63,1066.9 762,1071 782.37,1072 802.74,1078.7 823.11,1074.5 843.48,1035.6 863.85,1036.2 884.22,1051.1" fill="none" stroke="#3A6FBF" stroke-width="2.5" stroke-linejoin="round"/>
<circle cx="558.3" cy="1134.6" r="2.8" fill="#3A6FBF"/>
<circle cx="578.67" cy="1114.1" r="2.8" fill="#3A6FBF"/>
<circle cx="599.04" cy="1075.2" r="2.8" fill="#3A6FBF"/>
<circle cx="619.41" cy="1121.3" r="2.8" fill="#3A6FBF"/>
<circle cx="639.78" cy="1049.5" r="2.8" fill="#3A6FBF"/>
<circle cx="660.15" cy="1052.2" r="2.8" fill="#3A6FBF"/>
<circle cx="680.52" cy="1103.4" r="2.8" fill="#3A6FBF"/>
<circle cx="700.89" cy="1090.5" r="2.8" fill="#3A6FBF"/>
<circle cx="721.26" cy="1066.6" r="2.8" fill="#3A6FBF"/>
<circle cx="741.63" cy="1066.9" r="2.8" fill="#3A6FBF"/>
<circle cx="762" cy="1071" r="2.8" fill="#3A6FBF"/>
<circle cx="782.37" cy="1072" r="2.8" fill="#3A6FBF"/>
<circle cx="802.74" cy="1078.7" r="2.8" fill="#3A6FBF"/>
<circle cx="823.11" cy="1074.5" r="2.8" fill="#3A6FBF"/>
<circle cx="843.48" cy="1035.6" r="2.8" fill="#3A6FBF"/>
<circle cx="863.85" cy="1036.2" r="2.8" fill="#3A6FBF"/>
<circle cx="884.22" cy="1051.1" r="2.8" fill="#3A6FBF"/>
<line x1="914.8" y1="1128.2" x2="934.3" y2="1128.2" stroke="#3A6FBF" stroke-width="2.6"/>
<polygon points="924.8,1124.6 928.2,1128.2 924.8,1131.8 921.4,1128.2" fill="#3A6FBF"/>
<text x="936.6" y="1132.6" font-family='"Liberation Sans", sans-serif' font-size="12.5" font-weight="normal" fill="#505050" text-anchor="start" textLength="13.2" lengthAdjust="spacingAndGlyphs">MC</text>
<line x1="914.8" y1="1146.2" x2="934.3" y2="1146.2" stroke="#C0413F" stroke-width="2.6"/>
<polygon points="924.8,1142.6 928.2,1146.2 924.8,1149.8 921.4,1146.2" fill="#C0413F"/>
<text x="936.6" y="1150.6" font-family='"Liberation Sans", sans-serif' font-size="12.5" font-weight="normal" fill="#505050" text-anchor="start" textLength="15.6" lengthAdjust="spacingAndGlyphs">ALN</text>
<line x1="914.8" y1="1164.1" x2="934.3" y2="1164.1" stroke="#8DB946" stroke-width="2.6"/>
<polygon points="924.8,1160.5 928.2,1164.1 924.8,1167.7 921.4,1164.1" fill="#8DB946"/>
<text x="936.6" y="1168.5" font-family='"Liberation Sans", sans-serif' font-size="12.5" font-weight="normal" fill="#505050" text-anchor="start" textLength="25.7" lengthAdjust="spacingAndGlyphs">WSP-L</text>
<line x1="914.8" y1="1182.4" x2="934.3" y2="1182.4" stroke="#7B53A3" stroke-width="2.6"/>
<polygon points="924.8,1178.8 928.2,1182.4 924.8,1186 921.4,1182.4" fill="#7B53A3"/>
<text x="936.6" y="1186.8" font-family='"Liberation Sans", sans-serif' font-size="12.5" font-weight="normal" fill="#505050" text-anchor="start" textLength="28.8" lengthAdjust="spacingAndGlyphs">WSP-M</text>
<line x1="914.8" y1="1200.7" x2="934.3" y2="1200.7" stroke="#35A6C4" stroke-width="2.6"/>
<polygon points="924.8,1197.1 928.2,1200.7 924.8,1204.3 921.4,1200.7" fill="#35A6C4"/>
<text x="936.6" y="1205.1" font-family='"Liberation Sans", sans-serif' font-size="12.5" font-weight="normal" fill="#505050" text-anchor="start" textLength="27.6" lengthAdjust="spacingAndGlyphs">WSP-H</text>
<path d="M719.7,1183.7L719.7,1176.3M716.5,1181.85L722.9,1178.15M716.5,1178.15L722.9,1181.85" stroke="#111" stroke-width="1.5" fill="none"/>
<path d="M742,1184.8L742,1177.4M738.8,1182.95L745.2,1179.25M738.8,1179.25L745.2,1182.95" stroke="#111" stroke-width="1.5" fill="none"/>
<path d="M741.4,1204.5L741.4,1197.1M738.2,1202.65L744.6,1198.95M738.2,1198.95L744.6,1202.65" stroke="#111" stroke-width="1.5" fill="none"/>
<path d="M762.5,1182.7L762.5,1175.3M759.3,1180.85L765.7,1177.15M759.3,1177.15L765.7,1180.85" stroke="#111" stroke-width="1.5" fill="none"/>
<path d="M762.5,1210.7L762.5,1203.3M759.3,1208.85L765.7,1205.15M759.3,1205.15L765.7,1208.85" stroke="#111" stroke-width="1.5" fill="none"/>
<path d="M802.5,1186.9L802.5,1179.5M799.3,1185.05L805.7,1181.35M799.3,1181.35L805.7,1185.05" stroke="#111" stroke-width="1.5" fill="none"/>
<path d="M800.8,1218L800.8,1210.6M797.6,1216.15L804,1212.45M797.6,1212.45L804,1216.15" stroke="#111" stroke-width="1.5" fill="none"/>
<path d="M824.2,1199.3L824.2,1191.9M821,1197.45L827.4,1193.75M821,1193.75L827.4,1197.45" stroke="#111" stroke-width="1.5" fill="none"/>
<path d="M823.2,1232L823.2,1224.6M820,1230.15L826.4,1226.45M820,1226.45L826.4,1230.15" stroke="#111" stroke-width="1.5" fill="none"/>
<path d="M844.3,1151.7L844.3,1144.3M841.1,1149.85L847.5,1146.15M841.1,1146.15L847.5,1149.85" stroke="#111" stroke-width="1.5" fill="none"/>
<path d="M845,1171.4L845,1164M841.8,1169.55L848.2,1165.85M841.8,1165.85L848.2,1169.55" stroke="#111" stroke-width="1.5" fill="none"/>
<path d="M845,1195.2L845,1187.8M841.8,1193.35L848.2,1189.65M841.8,1189.65L848.2,1193.35" stroke="#111" stroke-width="1.5" fill="none"/>
<path d="M845.5,1224.2L845.5,1216.8M842.3,1222.35L848.7,1218.65M842.3,1218.65L848.7,1222.35" stroke="#111" stroke-width="1.5" fill="none"/>
<path d="M864.2,1164.5L864.2,1157.1M861,1162.65L867.4,1158.95M861,1158.95L867.4,1162.65" stroke="#111" stroke-width="1.5" fill="none"/>
<path d="M864.6,1180.3L864.6,1172.9M861.4,1178.45L867.8,1174.75M861.4,1174.75L867.8,1178.45" stroke="#111" stroke-width="1.5" fill="none"/>
<path d="M861,1218L861,1210.6M857.8,1216.15L864.2,1212.45M857.8,1212.45L864.2,1216.15" stroke="#111" stroke-width="1.5" fill="none"/>
<path d="M884.9,1188.6L884.9,1181.2M881.7,1186.75L888.1,1183.05M881.7,1183.05L888.1,1186.75" stroke="#111" stroke-width="1.5" fill="none"/>
<path d="M883.9,1200.4L883.9,1193M880.7,1198.55L887.1,1194.85M880.7,1194.85L887.1,1198.55" stroke="#111" stroke-width="1.5" fill="none"/>
<path d="M884.3,1240.3L884.3,1232.9M881.1,1238.45L887.5,1234.75M881.1,1234.75L887.5,1238.45" stroke="#111" stroke-width="1.5" fill="none"/>
<text x="856.5" y="1155.5" font-family='"Liberation Serif", serif' font-size="13" font-weight="normal" fill="#000" text-anchor="start">(</text>
<path d="M867.5,1153.5L867.5,1146.5M864.47,1151.75L870.53,1148.25M864.47,1148.25L870.53,1151.75" stroke="#111" stroke-width="1.4" fill="none"/>
<text x="873.5" y="1155.5" font-family='"Liberation Serif", serif' font-size="13" font-weight="normal" fill="#000" text-anchor="start">)</text>
<text x="889.5" y="1191.5" font-family='"Liberation Serif", serif' font-size="13" font-weight="normal" fill="#000" text-anchor="start">(</text>
<path d="M898.5,1190L898.5,1183M895.47,1188.25L901.53,1184.75M895.47,1184.75L901.53,1188.25" stroke="#111" stroke-width="1.4" fill="none"/>
<text x="904.5" y="1191.5" font-family='"Liberation Serif", serif' font-size="13" font-weight="normal" fill="#000" text-anchor="start">)</text>
</svg></body></html>
